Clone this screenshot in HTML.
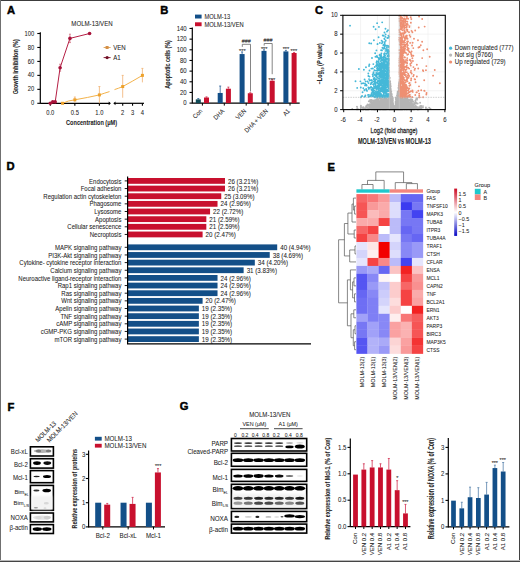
<!DOCTYPE html>
<html><head><meta charset="utf-8"><style>
html,body{margin:0;padding:0;background:#fff;}
svg{display:block;}
text{font-family:"Liberation Sans", sans-serif;fill:#222;stroke:#333;stroke-width:0.06px;}
</style></head><body>
<svg width="520" height="562" viewBox="0 0 520 562">
<rect width="520" height="562" fill="#fff"/>
<text x="7" y="14.3" font-size="11.2" font-weight="bold" style="fill:#000;stroke:#000;stroke-width:0.45px">A</text>
<text x="92" y="26" font-size="6.71" text-anchor="middle" textLength="41.35" lengthAdjust="spacingAndGlyphs">MOLM-13/VEN</text>
<line x1="40.3" y1="32.2" x2="40.3" y2="103.8" stroke="#000" stroke-width="1.2"/>
<line x1="37.3" y1="103.3" x2="40.3" y2="103.3" stroke="#000" stroke-width="1.1"/>
<text x="34.2" y="105.4" font-size="6.38" text-anchor="end" textLength="3.23" lengthAdjust="spacingAndGlyphs">0</text>
<line x1="37.3" y1="89.34" x2="40.3" y2="89.34" stroke="#000" stroke-width="1.1"/>
<text x="34.2" y="91.44" font-size="6.38" text-anchor="end" textLength="6.45" lengthAdjust="spacingAndGlyphs">20</text>
<line x1="37.3" y1="75.38" x2="40.3" y2="75.38" stroke="#000" stroke-width="1.1"/>
<text x="34.2" y="77.48" font-size="6.38" text-anchor="end" textLength="6.45" lengthAdjust="spacingAndGlyphs">40</text>
<line x1="37.3" y1="61.42" x2="40.3" y2="61.42" stroke="#000" stroke-width="1.1"/>
<text x="34.2" y="63.52" font-size="6.38" text-anchor="end" textLength="6.45" lengthAdjust="spacingAndGlyphs">60</text>
<line x1="37.3" y1="47.46" x2="40.3" y2="47.46" stroke="#000" stroke-width="1.1"/>
<text x="34.2" y="49.56" font-size="6.38" text-anchor="end" textLength="6.45" lengthAdjust="spacingAndGlyphs">80</text>
<line x1="37.3" y1="33.5" x2="40.3" y2="33.5" stroke="#000" stroke-width="1.1"/>
<text x="34.2" y="35.6" font-size="6.38" text-anchor="end" textLength="9.68" lengthAdjust="spacingAndGlyphs">100</text>
<text x="18" y="66.8" font-size="7.9" text-anchor="middle" font-weight="bold" textLength="55" lengthAdjust="spacingAndGlyphs" transform="rotate(-90 18 66.8)">Growth inhibition (%)</text>
<line x1="40.3" y1="103.3" x2="109.2" y2="103.3" stroke="#000" stroke-width="1.2"/>
<path d="M108.7 101.4 L110.9 103.3 L108.7 105.2 Z" fill="#000"/>
<path d="M115.5 101.4 L113.3 103.3 L115.5 105.2 Z" fill="#000"/>
<line x1="115" y1="103.3" x2="144" y2="103.3" stroke="#000" stroke-width="1.2"/>
<line x1="50.3" y1="103.3" x2="50.3" y2="105.8" stroke="#000" stroke-width="1.1"/>
<text x="50.3" y="114.6" font-size="6.38" text-anchor="middle" textLength="8.06" lengthAdjust="spacingAndGlyphs">0.0</text>
<line x1="74.85" y1="103.3" x2="74.85" y2="105.8" stroke="#000" stroke-width="1.1"/>
<text x="74.85" y="114.6" font-size="6.38" text-anchor="middle" textLength="8.06" lengthAdjust="spacingAndGlyphs">0.5</text>
<line x1="99.4" y1="103.3" x2="99.4" y2="105.8" stroke="#000" stroke-width="1.1"/>
<text x="99.4" y="114.6" font-size="6.38" text-anchor="middle" textLength="8.06" lengthAdjust="spacingAndGlyphs">1.0</text>
<line x1="122.7" y1="103.3" x2="122.7" y2="105.8" stroke="#000" stroke-width="1.1"/>
<text x="122.7" y="114.6" font-size="6.38" text-anchor="middle" textLength="3.23" lengthAdjust="spacingAndGlyphs">2</text>
<line x1="132.55" y1="103.3" x2="132.55" y2="105.8" stroke="#000" stroke-width="1.1"/>
<text x="132.55" y="114.6" font-size="6.38" text-anchor="middle" textLength="3.23" lengthAdjust="spacingAndGlyphs">3</text>
<line x1="142.4" y1="103.3" x2="142.4" y2="105.8" stroke="#000" stroke-width="1.1"/>
<text x="142.4" y="114.6" font-size="6.38" text-anchor="middle" textLength="3.23" lengthAdjust="spacingAndGlyphs">4</text>
<text x="91.6" y="125.4" font-size="8.1" text-anchor="middle" font-weight="bold" textLength="51" lengthAdjust="spacingAndGlyphs">Concentration (μM)</text>
<line x1="74.85" y1="97.02" x2="74.85" y2="102.6" stroke="#f0b070" stroke-width="0.8"/>
<line x1="73.85" y1="97.02" x2="75.85" y2="97.02" stroke="#f0b070" stroke-width="0.8"/>
<line x1="99.4" y1="86.55" x2="99.4" y2="103.3" stroke="#f0b070" stroke-width="0.8"/>
<line x1="98.4" y1="86.55" x2="100.4" y2="86.55" stroke="#f0b070" stroke-width="0.8"/>
<line x1="122.7" y1="75.38" x2="122.7" y2="97.72" stroke="#f0b070" stroke-width="0.8"/>
<line x1="121.7" y1="75.38" x2="123.7" y2="75.38" stroke="#f0b070" stroke-width="0.8"/>
<line x1="142.4" y1="68.4" x2="142.4" y2="82.36" stroke="#f0b070" stroke-width="0.8"/>
<line x1="141.4" y1="68.4" x2="143.4" y2="68.4" stroke="#f0b070" stroke-width="0.8"/>
<path d="M62.57 103.3 Q68 100.5 74.85 99.81 Q88 97.5 99.4 94.92 Q104 93.3 109.5 91.6" fill="none" stroke="#f3b24a" stroke-width="1"/>
<path d="M114.5 89.6 Q118.5 88.3 122.7 86.55 Q133 81 142.4 75.38" fill="none" stroke="#f3b24a" stroke-width="1"/>
<rect x="61.07" y="101.8" width="3" height="3" fill="#eda12a"/>
<rect x="73.35" y="98.31" width="3" height="3" fill="#eda12a"/>
<rect x="97.9" y="93.42" width="3" height="3" fill="#eda12a"/>
<rect x="121.2" y="85.05" width="3" height="3" fill="#eda12a"/>
<rect x="140.9" y="73.88" width="3" height="3" fill="#eda12a"/>
<line x1="60.12" y1="64.21" x2="60.12" y2="71.19" stroke="#d07080" stroke-width="0.8"/>
<line x1="59.12" y1="64.21" x2="61.12" y2="64.21" stroke="#d07080" stroke-width="0.8"/>
<line x1="59.12" y1="71.19" x2="61.12" y2="71.19" stroke="#d07080" stroke-width="0.8"/>
<line x1="69.94" y1="34.2" x2="69.94" y2="42.57" stroke="#d07080" stroke-width="0.8"/>
<line x1="68.94" y1="34.2" x2="70.94" y2="34.2" stroke="#d07080" stroke-width="0.8"/>
<line x1="68.94" y1="42.57" x2="70.94" y2="42.57" stroke="#d07080" stroke-width="0.8"/>
<path d="M50.3 103.3 L52.75 101.9 L55.21 101.9 L60.12 67.7 L69.94 38.39 L89.58 33.5" fill="none" stroke="#b51f45" stroke-width="1"/>
<circle cx="50.3" cy="103.3" r="1.8" fill="#a8123a"/>
<circle cx="52.75" cy="101.9" r="1.8" fill="#a8123a"/>
<circle cx="55.21" cy="101.9" r="1.8" fill="#a8123a"/>
<circle cx="60.12" cy="67.7" r="1.8" fill="#a8123a"/>
<circle cx="69.94" cy="38.39" r="1.8" fill="#a8123a"/>
<circle cx="89.58" cy="33.5" r="1.8" fill="#a8123a"/>
<line x1="103.6" y1="47.5" x2="110.6" y2="47.5" stroke="#e0a860" stroke-width="1"/>
<rect x="105.6" y="46" width="3" height="3" fill="#d49048"/>
<text x="113.2" y="49.5" font-size="6.71" textLength="12.54" lengthAdjust="spacingAndGlyphs">VEN</text>
<line x1="103.6" y1="57.6" x2="110.6" y2="57.6" stroke="#8a1a35" stroke-width="1"/>
<circle cx="107.1" cy="57.6" r="1.6" fill="#6e0f25"/>
<text x="113.2" y="59.8" font-size="6.71" textLength="7.46" lengthAdjust="spacingAndGlyphs">A1</text>
<text x="160.2" y="14.4" font-size="11.2" font-weight="bold" style="fill:#000;stroke:#000;stroke-width:0.45px">B</text>
<rect x="195" y="14.6" width="6.6" height="3.9" fill="#134f88"/>
<rect x="195" y="22.3" width="6.6" height="3.9" fill="#c8102e"/>
<text x="204.4" y="18.6" font-size="6.38" textLength="25.78" lengthAdjust="spacingAndGlyphs">MOLM-13</text>
<text x="204.4" y="26.8" font-size="6.38" textLength="39.32" lengthAdjust="spacingAndGlyphs">MOLM-13/VEN</text>
<line x1="192.3" y1="27.5" x2="192.3" y2="103.6" stroke="#000" stroke-width="1.2"/>
<line x1="189.5" y1="103.1" x2="192.3" y2="103.1" stroke="#000" stroke-width="1.1"/>
<text x="186.7" y="105.2" font-size="6.6" text-anchor="end" textLength="3.34" lengthAdjust="spacingAndGlyphs">0</text>
<line x1="189.5" y1="92.44" x2="192.3" y2="92.44" stroke="#000" stroke-width="1.1"/>
<text x="186.7" y="94.54" font-size="6.6" text-anchor="end" textLength="6.67" lengthAdjust="spacingAndGlyphs">20</text>
<line x1="189.5" y1="81.78" x2="192.3" y2="81.78" stroke="#000" stroke-width="1.1"/>
<text x="186.7" y="83.88" font-size="6.6" text-anchor="end" textLength="6.67" lengthAdjust="spacingAndGlyphs">40</text>
<line x1="189.5" y1="71.12" x2="192.3" y2="71.12" stroke="#000" stroke-width="1.1"/>
<text x="186.7" y="73.22" font-size="6.6" text-anchor="end" textLength="6.67" lengthAdjust="spacingAndGlyphs">60</text>
<line x1="189.5" y1="60.46" x2="192.3" y2="60.46" stroke="#000" stroke-width="1.1"/>
<text x="186.7" y="62.56" font-size="6.6" text-anchor="end" textLength="6.67" lengthAdjust="spacingAndGlyphs">80</text>
<line x1="189.5" y1="49.8" x2="192.3" y2="49.8" stroke="#000" stroke-width="1.1"/>
<text x="186.7" y="51.9" font-size="6.6" text-anchor="end" textLength="10.01" lengthAdjust="spacingAndGlyphs">100</text>
<line x1="189.5" y1="39.14" x2="192.3" y2="39.14" stroke="#000" stroke-width="1.1"/>
<text x="186.7" y="41.24" font-size="6.6" text-anchor="end" textLength="10.01" lengthAdjust="spacingAndGlyphs">120</text>
<line x1="189.5" y1="28.48" x2="192.3" y2="28.48" stroke="#000" stroke-width="1.1"/>
<text x="186.7" y="30.58" font-size="6.6" text-anchor="end" textLength="10.01" lengthAdjust="spacingAndGlyphs">140</text>
<text x="169.9" y="64.4" font-size="7.7" text-anchor="middle" font-weight="bold" textLength="48.5" lengthAdjust="spacingAndGlyphs" transform="rotate(-90 169.9 64.4)">Apoptotic cells (%)</text>
<line x1="192.3" y1="103.1" x2="299.7" y2="103.1" stroke="#000" stroke-width="1.2"/>
<line x1="198.3" y1="99.37" x2="198.3" y2="98.57" stroke="#2a5f95" stroke-width="0.8"/>
<line x1="197.3" y1="98.57" x2="199.3" y2="98.57" stroke="#2a5f95" stroke-width="0.8"/>
<line x1="206.5" y1="97.5" x2="206.5" y2="96.86" stroke="#d03050" stroke-width="0.8"/>
<line x1="205.5" y1="96.86" x2="207.5" y2="96.86" stroke="#d03050" stroke-width="0.8"/>
<rect x="195.8" y="99.37" width="5" height="3.73" fill="#0f4a56"/>
<rect x="204" y="97.5" width="5" height="5.6" fill="#c8102e"/>
<line x1="202.4" y1="103.1" x2="202.4" y2="105.6" stroke="#000" stroke-width="1"/>
<text x="202.8" y="111.5" font-size="6.38" text-anchor="end" textLength="10.64" lengthAdjust="spacingAndGlyphs" transform="rotate(-45 202.8 111.5)">Con</text>
<line x1="220.2" y1="92.97" x2="220.2" y2="86.04" stroke="#2a5f95" stroke-width="0.8"/>
<line x1="219.2" y1="86.04" x2="221.2" y2="86.04" stroke="#2a5f95" stroke-width="0.8"/>
<line x1="228.4" y1="88.71" x2="228.4" y2="87.11" stroke="#d03050" stroke-width="0.8"/>
<line x1="227.4" y1="87.11" x2="229.4" y2="87.11" stroke="#d03050" stroke-width="0.8"/>
<rect x="217.7" y="92.97" width="5" height="10.13" fill="#134f88"/>
<rect x="225.9" y="88.71" width="5" height="14.39" fill="#c8102e"/>
<line x1="224.3" y1="103.1" x2="224.3" y2="105.6" stroke="#000" stroke-width="1"/>
<text x="224.7" y="111.5" font-size="6.38" text-anchor="end" textLength="12.25" lengthAdjust="spacingAndGlyphs" transform="rotate(-45 224.7 111.5)">DHA</text>
<line x1="242.1" y1="54.06" x2="242.1" y2="51.93" stroke="#2a5f95" stroke-width="0.8"/>
<line x1="241.1" y1="51.93" x2="243.1" y2="51.93" stroke="#2a5f95" stroke-width="0.8"/>
<line x1="250.3" y1="93.24" x2="250.3" y2="92.71" stroke="#d03050" stroke-width="0.8"/>
<line x1="249.3" y1="92.71" x2="251.3" y2="92.71" stroke="#d03050" stroke-width="0.8"/>
<rect x="239.6" y="54.06" width="5" height="49.04" fill="#134f88"/>
<rect x="247.8" y="93.24" width="5" height="9.86" fill="#c8102e"/>
<line x1="246.2" y1="103.1" x2="246.2" y2="105.6" stroke="#000" stroke-width="1"/>
<text x="246.6" y="111.5" font-size="6.38" text-anchor="end" textLength="11.93" lengthAdjust="spacingAndGlyphs" transform="rotate(-45 246.6 111.5)">VEN</text>
<line x1="264" y1="50.87" x2="264" y2="49.8" stroke="#2a5f95" stroke-width="0.8"/>
<line x1="263" y1="49.8" x2="265" y2="49.8" stroke="#2a5f95" stroke-width="0.8"/>
<line x1="272.2" y1="80.71" x2="272.2" y2="79.65" stroke="#d03050" stroke-width="0.8"/>
<line x1="271.2" y1="79.65" x2="273.2" y2="79.65" stroke="#d03050" stroke-width="0.8"/>
<rect x="261.5" y="50.87" width="5" height="52.23" fill="#134f88"/>
<rect x="269.7" y="80.71" width="5" height="22.39" fill="#c8102e"/>
<line x1="268.1" y1="103.1" x2="268.1" y2="105.6" stroke="#000" stroke-width="1"/>
<text x="268.5" y="111.5" font-size="6.38" text-anchor="end" textLength="30.46" lengthAdjust="spacingAndGlyphs" transform="rotate(-45 268.5 111.5)">DHA + VEN</text>
<line x1="285.9" y1="51.4" x2="285.9" y2="50.33" stroke="#2a5f95" stroke-width="0.8"/>
<line x1="284.9" y1="50.33" x2="286.9" y2="50.33" stroke="#2a5f95" stroke-width="0.8"/>
<line x1="294.1" y1="53" x2="294.1" y2="52.46" stroke="#d03050" stroke-width="0.8"/>
<line x1="293.1" y1="52.46" x2="295.1" y2="52.46" stroke="#d03050" stroke-width="0.8"/>
<rect x="283.4" y="51.4" width="5" height="51.7" fill="#134f88"/>
<rect x="291.6" y="53" width="5" height="50.1" fill="#c8102e"/>
<line x1="290" y1="103.1" x2="290" y2="105.6" stroke="#000" stroke-width="1"/>
<text x="290.4" y="111.5" font-size="6.38" text-anchor="end" textLength="7.09" lengthAdjust="spacingAndGlyphs" transform="rotate(-45 290.4 111.5)">A1</text>
<text x="242.3" y="52.9" font-size="6.16" text-anchor="middle" textLength="6.54" lengthAdjust="spacingAndGlyphs">***</text>
<text x="264.2" y="51.3" font-size="6.16" text-anchor="middle" textLength="6.54" lengthAdjust="spacingAndGlyphs">***</text>
<text x="271.8" y="81.7" font-size="6.16" text-anchor="middle" textLength="6.54" lengthAdjust="spacingAndGlyphs">***</text>
<text x="285.9" y="51.1" font-size="6.16" text-anchor="middle" textLength="6.54" lengthAdjust="spacingAndGlyphs">***</text>
<text x="293.8" y="53.3" font-size="6.16" text-anchor="middle" textLength="6.54" lengthAdjust="spacingAndGlyphs">***</text>
<path d="M242.3 46.9 V44.3 H250.5 V91.5" fill="none" stroke="#666" stroke-width="0.8"/>
<path d="M264.2 45.6 V43.5 H272.2 V74.2" fill="none" stroke="#666" stroke-width="0.8"/>
<text x="246.2" y="43.2" font-size="5.94" text-anchor="middle" textLength="9.01" lengthAdjust="spacingAndGlyphs">###</text>
<text x="267.9" y="42" font-size="5.94" text-anchor="middle" textLength="9.01" lengthAdjust="spacingAndGlyphs">###</text>
<text x="314.9" y="14.2" font-size="11.2" font-weight="bold" style="fill:#000;stroke:#000;stroke-width:0.45px">C</text>
<line x1="360.58" y1="15.3" x2="360.58" y2="109.6" stroke="#ececec" stroke-width="0.6"/>
<line x1="377.44" y1="15.3" x2="377.44" y2="109.6" stroke="#ececec" stroke-width="0.6"/>
<line x1="411.16" y1="15.3" x2="411.16" y2="109.6" stroke="#ececec" stroke-width="0.6"/>
<line x1="428.02" y1="15.3" x2="428.02" y2="109.6" stroke="#ececec" stroke-width="0.6"/>
<line x1="342.9" y1="90.74" x2="445.3" y2="90.74" stroke="#ececec" stroke-width="0.6"/>
<line x1="342.9" y1="71.88" x2="445.3" y2="71.88" stroke="#ececec" stroke-width="0.6"/>
<line x1="342.9" y1="53.02" x2="445.3" y2="53.02" stroke="#ececec" stroke-width="0.6"/>
<line x1="342.9" y1="34.16" x2="445.3" y2="34.16" stroke="#ececec" stroke-width="0.6"/>
<path d="M388.86 105.98h0M389.2 107.35h0M381.19 108.37h0M404.43 106.94h0M403.57 108h0M396.26 108.18h0M372.81 105.92h0M397.53 105.88h0M372.52 102.19h0M381.65 106.87h0M395.25 109.24h0M397.7 104.83h0M395.28 108.67h0M384.25 98.82h0M398.11 100.79h0M384.71 104.9h0M387.86 108.87h0M398.96 107.81h0M386.68 103.19h0M385.85 101.6h0M382.58 108.13h0M396.62 98.26h0M392.32 99.58h0M368.85 108.44h0M390.56 103.58h0M397.43 109.13h0M375.1 105.71h0M399.39 102.85h0M408.17 107.56h0M393.13 106.55h0M398.78 105.17h0M386.62 101.14h0M380.76 106.59h0M406.44 97.58h0M375.18 108.47h0M408.2 106.35h0M370.15 99.93h0M395.84 103.89h0M379.03 104.35h0M404.31 108.61h0M394.57 108.56h0M409.91 106.31h0M397.67 105.53h0M373.92 103.84h0M402.64 106.12h0M369.31 107.26h0M401.36 106.19h0M382.53 106.74h0M413.15 101.64h0M395.9 105.69h0M392.71 103.99h0M376.66 108.98h0M391.69 108.92h0M382.23 106.82h0M366.03 106.47h0M386.77 102.08h0M379.14 104.14h0M414.78 106.41h0M396.11 99.82h0M382.81 105.79h0M404.62 104.25h0M395.7 108.49h0M393.51 108.24h0M389.77 107.59h0M398.29 109.59h0M400.47 105.67h0M414.65 108.14h0M386.9 107.09h0M391.62 102.62h0M387.94 106.93h0M412.68 103.89h0M386.97 109.31h0M400.12 105.76h0M389.79 107.62h0M419.43 108.3h0M385.46 108.95h0M389.2 109.15h0M360.72 108.52h0M403.25 102.04h0M391.01 102.5h0M401.51 99.51h0M372.41 108.1h0M387.89 105.29h0M404.2 99.15h0M399.02 100.53h0M393.77 106.76h0M390.07 108.21h0M400.84 108.63h0M390.76 98.25h0M403.7 107.72h0M423.01 106.1h0M402.18 107.83h0M393.28 107.94h0M394.3 108.06h0M374.39 102.7h0M398.77 102.62h0M380.09 101.43h0M406.18 105.15h0M408.54 104.39h0M391.78 100.96h0M400.49 98.56h0M381.64 100.51h0M403.02 108.44h0M369.33 104.4h0M390.68 105.15h0M396.32 106.46h0M408.82 103.98h0M404.7 100.35h0M408.3 108.59h0M383.3 103.37h0M393.08 108.63h0M407.98 108.11h0M365.63 108.42h0M370.67 106.38h0M395.38 108.16h0M391.66 103.31h0M392.67 99.34h0M391.07 101.84h0M408.74 100.72h0M384.13 104.09h0M370.42 105.39h0M369.43 105.63h0M377.75 109.53h0M389.58 109.39h0M385.04 108.1h0M412.16 109.38h0M397.81 102.19h0M389.52 100.54h0M385.45 102.64h0M373.04 107.01h0M403.24 104.47h0M391.86 103.49h0M393.66 106.8h0M373.97 106.72h0M402.27 105.85h0M381.5 105.13h0M374.34 109.06h0M378.35 107.69h0M364.91 108.64h0M384.47 98.05h0M390.89 100.11h0M412.19 106.31h0M395.55 108.7h0M387.64 108.65h0M392.03 106.63h0M382.12 100.55h0M397.03 106.97h0M388.24 99.59h0M406.45 100.02h0M399.62 108.59h0M402.73 107.66h0M357.39 109.2h0M395.12 108.38h0M379.32 106.88h0M387.78 105.75h0M384.17 100.49h0M406.13 108.67h0M389.75 109.1h0M383.97 102h0M387.63 109.41h0M411.74 108.78h0M397.04 108.97h0M391.46 107.47h0M393.41 107.76h0M399.96 104.24h0M409.64 104.36h0M391.42 105.33h0M404.7 105.67h0M390.26 106.58h0M408.02 106.55h0M387.84 108.39h0M406.72 106.46h0M393.29 108.67h0M394.39 108.9h0M399.92 103.72h0M384.1 102.88h0M399.82 107.12h0M401.35 103.57h0M392.17 105.93h0M393.7 108.95h0M394.71 107.63h0M385.26 99.35h0M388.44 101.61h0M396.37 103.24h0M400.36 109h0M410.18 108.78h0M384.77 108.3h0M365.52 108.48h0M408.29 103.19h0M379.66 106.95h0M397.54 103.18h0M374.42 109.31h0M402.13 108.93h0M400.58 100.16h0M384.16 104.79h0M389.58 107.63h0M394.76 108.94h0M391.27 103.85h0M394.25 108.74h0M404.26 98.91h0M387.34 104.73h0M392.23 103.23h0M385.32 108.65h0M383.39 108h0M421.42 107.48h0M383.62 108.25h0M401.34 108.35h0M391.44 109.33h0M382.27 105.04h0M384.15 109.53h0M390.64 109.58h0M391.33 106.36h0M389.09 108.37h0M401.37 108.78h0M393.4 106.49h0M373.12 108.28h0M381.86 101.82h0M399.97 104.79h0M376.62 107.77h0M389.13 99.51h0M412.57 107.09h0M404.22 104.04h0M389.66 107.89h0M378.44 108.67h0M402.23 99.26h0M398.73 101.08h0M405.25 103.81h0M388.9 104.8h0M397.74 108.83h0M388.34 107.08h0M399.24 101.74h0M380.68 103.89h0M386.2 102.65h0M412.11 109.42h0M391.62 100.67h0M375.48 108.07h0M408.79 105.97h0M391.71 106.62h0M389.98 97.91h0M396.96 97.69h0M404.9 108.5h0M382.16 105.06h0M383.91 99.89h0M379.66 104.32h0M397.45 107.63h0M391.31 105.87h0M390.13 109.12h0M400.13 107.54h0M383.55 101.26h0M387.52 104.53h0M379.12 108.98h0M386.18 108.9h0M397.73 106.53h0M418.22 108.35h0M404.31 108.84h0M404.47 104.09h0M390.86 104.54h0M399.15 107.94h0M386.29 107.8h0M363.97 108.57h0M405.95 101.37h0M368.05 109.2h0M389.38 104.62h0M402.28 105.01h0M392.72 109.5h0M379.33 109.29h0M389.76 105.83h0M386.25 104.8h0M392.13 109.22h0M391.87 108.13h0M407.86 105.6h0M399.44 106.18h0M383.87 105.14h0M406.95 109.54h0M384.06 104.53h0M391.21 107.28h0M409.1 103.43h0M385.85 106.54h0M390.43 100.86h0M395.83 102.64h0M414.51 107.05h0M397.87 99.94h0M414.92 104.12h0M374.48 107.37h0M409.36 106.91h0M373.65 107.34h0M386.02 105.34h0M416.57 106.72h0M400.74 104h0M386.46 104.94h0M389.63 106.41h0M386.41 104.93h0M381.1 107.58h0M395.13 108.38h0M398.24 103.51h0M396.41 97.38h0M385.84 108.49h0M393.53 108.64h0M389.05 107h0M392.37 103.67h0M370.23 106.19h0M391.75 101.78h0M379.88 106.13h0M384.37 105.6h0M400.26 107.46h0M397.55 108.82h0M375.73 109.46h0M396.94 105.6h0M390.64 104.07h0M381.78 105.86h0M412.97 106.94h0M393.44 108.42h0M409.3 107.88h0M401.99 104.99h0M391.59 109.53h0M371.56 103.72h0M402.01 97.91h0M400.24 108.68h0M396.87 106.83h0M374.71 108.62h0M408.76 106.43h0M380.13 102.03h0M377.87 107.86h0M411.03 107.4h0M394.56 107.23h0M389.8 106.03h0M391.59 98.87h0M390.01 106.24h0M404.31 106.32h0M381.99 106.7h0M394.32 106.39h0M401.39 109.22h0M363.89 107.9h0M377.25 101.31h0M383.55 108.9h0M392.31 100.96h0M390.93 108.14h0M374.72 109.53h0M384.08 107.28h0M378.91 99.01h0M392.21 107.61h0M385.52 103.82h0M388.66 105.34h0M397.21 97.82h0M384.06 109.47h0M401.43 108.5h0M395.28 108.06h0M395.2 108.52h0M404.49 107.42h0M394.88 108.04h0M377.17 105.88h0M397.84 108.28h0M385.59 106.8h0M397.98 108.94h0M395.57 108.72h0M372.71 103.91h0M405.53 103.01h0M418.13 109.46h0M388.29 105.67h0M409.11 106.06h0M408.25 107.95h0M383.81 105.45h0M388.37 105.89h0M400.99 109.5h0M374.87 100.26h0M412.71 100.85h0M394.6 107.44h0M400.96 98.12h0M388.47 108.68h0M380.93 108.69h0M398.29 107.28h0M375.81 101.86h0M403.27 108.34h0M399.12 98.26h0M394.7 109.07h0M415.4 105.84h0M390.94 98.58h0M386.95 105.04h0M406.98 107.48h0M390.39 97.98h0M388.06 104.51h0M410.87 109.4h0M405.73 105.31h0M394.13 108.98h0M393.08 106.96h0M418.97 107.1h0M385.23 106.39h0M379.76 106.87h0M398.28 107.57h0M397.82 98.12h0M400.42 98.85h0M383.85 106.15h0M387.21 103.77h0M392.7 106.52h0M397.96 97.92h0M391.84 106.82h0M405.88 107.99h0M377.16 98.77h0M400.67 109.19h0M396.2 107.85h0M373.87 109.53h0M383.91 108.11h0M378.05 105.98h0M383.1 100.63h0M401.4 101.37h0M407.57 102.03h0M387.77 101.03h0M378.77 103.35h0M394.46 107.88h0M391.96 105.21h0M402.94 103.9h0M386.5 103.66h0M405.3 109.25h0M394.19 107.2h0M397.05 109.4h0M370.99 108.44h0M405.37 98.2h0M400.96 108.16h0M397.17 106.28h0M406.61 108.28h0M401.71 106.84h0M400.06 103.89h0M390.54 98.01h0M403.83 104.31h0M385.96 106.45h0M387.51 106.83h0M394.26 107.83h0M378.36 105.13h0M392.27 108.49h0M383.77 101.35h0M395.67 103.42h0M397.62 102.88h0M396.62 108.24h0M380.39 105.26h0M388.58 107.24h0M400.83 100.5h0M383.93 106.87h0M381.8 105.77h0M381.99 107.35h0M372.09 105.42h0M402.59 109.47h0M397.75 98.28h0M392.13 108.81h0M401.51 105.48h0M396.74 102.59h0M401.15 104.5h0M392.8 108.46h0M376.34 107.36h0M395.92 107.81h0M383.89 105.44h0M385.38 109.5h0M388.9 101.19h0M396.65 107.95h0M371.24 109.17h0M399.15 108.62h0M410.84 100.78h0M404.68 108.51h0M416.3 106.44h0M372.99 103.53h0M376.32 103.32h0M402.45 99.8h0M393.79 107.22h0M403.95 99.79h0M395.04 108.08h0M380.66 105.57h0M387.43 107.26h0M392.11 98.6h0M405.92 107.63h0M391.92 107.48h0M394.77 108.59h0M380.11 105.49h0M384.98 105.68h0M378.58 106.23h0M376.86 106.3h0M380.22 107.63h0M407.41 108.43h0M383.45 109.3h0M393.46 107.91h0M397.29 101.93h0M396.44 107.1h0M387.25 108.34h0M379.07 107.31h0M407.43 107.53h0M407.86 105.04h0M394.12 106.78h0M404.47 107.12h0M371.66 102.61h0M406.49 100.8h0M410.24 109.39h0M394.74 108.17h0M404.93 108.78h0M416.17 107.06h0M401.97 99.45h0M395.57 108.39h0M380.45 101.99h0M404.92 98.54h0M388.5 107.84h0M366.2 109.5h0M394.07 107.79h0M381.8 109.41h0M398.79 108.55h0M405.91 97.63h0M381.43 98.48h0M401.52 99.25h0M402.27 104.2h0M384.73 105.06h0M401.88 103.49h0M371.13 105.6h0M420.13 102.77h0M383.96 105.06h0M394.4 107.8h0M406.68 109.14h0M379.41 102.48h0M385.13 108.18h0M391.63 107.23h0M395.47 107.98h0M370.78 100.88h0M377.36 105.74h0M391.51 109.18h0M398.1 108.72h0M382.74 105.33h0M367.66 109.02h0M397.29 105.63h0M390.39 108.32h0M402.43 109.5h0M400.17 105.52h0M394.2 106.47h0M385.25 107.28h0M382.58 104.83h0M409.48 100.11h0M392.03 105.27h0M405.15 104.64h0M405.49 101.92h0M384.49 106.74h0M408.11 109.02h0M382 107.51h0M384.25 104.21h0M408.86 106.16h0M392 109.06h0M380.38 108.47h0M392.08 106.96h0M392.09 108.42h0M366.08 107.25h0M396.53 105.63h0M381.24 105.3h0M378.64 102.05h0M396.24 103.72h0M390.66 107.39h0M407.05 103.09h0M391.49 108.77h0M402.29 100.51h0M373.49 108.03h0M383.99 108.29h0M398.3 106.33h0M401.76 108.13h0M391.73 97.93h0M401.89 100.87h0M390.32 100.34h0M373.31 106.58h0M382.93 108.91h0M373.26 100.77h0M396.6 109.41h0M391.23 104.12h0M390.72 100.45h0M380.88 99.21h0M387.78 105.11h0M405.2 104.85h0M385.85 100.52h0M404.47 108.67h0M401.18 100.67h0M399.4 103.63h0M389.42 100.4h0M388.98 105.02h0M388.48 107.63h0M397.16 107.37h0M397.1 109h0M401.21 106.89h0M393.5 109.16h0M408.66 107.4h0M380.05 103.2h0M391.42 106.84h0M382.66 106.53h0M400.45 97.87h0M395.03 109.05h0M408.79 100.58h0M396.86 108.36h0M393.29 108.5h0M413.34 107.63h0M397.9 99.9h0M399.08 100.55h0M390.56 106.31h0M407.42 104.02h0M394.56 107.59h0M389.69 108.92h0M391.38 103.48h0M389.44 102.88h0M379.14 103.42h0M401.16 101.98h0M403.29 108.31h0M373.71 106.62h0M381.62 102.14h0M384.04 108.57h0M394.99 108.81h0M394.73 108.28h0M399.42 109.56h0M394.17 109.55h0M378.56 109.25h0M393.88 108.14h0M381.27 109.42h0M396.12 104.39h0M400.5 107.64h0M395.65 97.83h0M386.28 109.57h0M388.71 107.41h0M395.92 97.98h0M395.45 106.39h0M384.67 104.53h0M372.9 104.02h0M412.2 104.29h0M399.41 108.84h0M389.74 103.46h0M374.62 103.01h0M393.07 107.01h0M373.07 108.17h0M392.08 98.6h0M385.9 104.85h0M404.05 99.51h0M381.94 101.36h0M397.69 102.61h0M393.97 106.49h0M400.67 104.12h0M398.07 106.01h0M395.23 107.74h0M385.41 97.65h0M395.51 108.47h0M391.92 102.84h0M385.09 109.07h0M388.3 105.61h0M409.93 108.27h0M415.16 102.86h0M400.77 105.55h0M411.92 108.7h0M390.5 101.78h0M397.15 99.48h0M397.83 106.47h0M389.49 108.38h0M375.55 104.59h0M387.11 102.12h0M383.22 104.57h0M401.5 102.44h0M376.32 105.05h0M401.88 105.72h0M374.85 106.13h0M384.56 107.43h0M387.7 100.11h0M384.9 97.71h0M384.79 101.35h0M382.32 108.13h0M388.19 107.32h0M374.38 105.74h0M388.09 100.08h0M391.77 101.65h0M376.53 107.69h0M377.4 105.48h0M398.32 107.62h0M380.62 101.51h0M381.67 105.25h0M394.9 109.25h0M385.28 108.57h0M397.14 103.23h0M403.75 104.65h0M374.28 107.75h0M375.57 109.08h0M398.35 101.79h0M368.38 105.01h0M396.06 98.26h0M376.71 104.32h0M415.37 100.82h0M389.38 107.67h0M390.02 102.34h0M403.58 109.04h0M376.3 105.97h0M386.42 105.42h0M394.77 106.14h0M383.89 108.86h0M395.38 107.38h0M393.19 108.4h0M395.22 107.27h0M377.42 108.34h0M396.18 105.27h0M378.24 102.19h0M396.94 101.83h0M387.83 101.24h0M407 101.8h0M378.2 101.53h0M390.56 102.48h0M391.5 101.66h0M392.1 109.08h0M390.14 103.76h0M392.08 103.13h0M379.83 108.85h0M380.91 103.25h0M374.79 101.48h0M394.15 108.95h0M403.4 99.99h0M405.42 100.72h0M390.45 108.65h0M419.72 108.96h0M386.96 105.35h0M396.85 107.1h0M393.79 108.33h0M405.92 98.95h0M393.56 108.21h0M403.85 104.09h0M395.07 106.15h0M407.53 103.36h0M395.77 105.23h0M386.85 101.85h0M391.15 101.58h0M402.49 103.96h0M391.01 104.18h0M400.27 103.35h0M403.69 107.02h0M399.92 103.15h0M377.6 109.53h0M392.62 108.92h0M398.67 102.74h0M376.22 106.83h0M397.72 103.54h0M366.51 105.61h0M406.19 105.73h0M389.97 108.28h0M378.46 104.52h0M401.03 107.04h0M405.29 108.76h0M367.59 108.9h0M409.47 107.79h0M384.47 105.53h0M398.79 104.32h0M378.05 108.59h0M392.78 104.31h0M380.82 107.24h0M371.68 107.04h0M386.09 97.68h0M380.69 105.79h0M389.93 101.05h0M408.16 108.32h0M394.43 107.52h0M387.84 104.29h0M377.94 105.79h0M392.47 107.45h0M387.72 102.91h0M400.93 107.82h0M399.15 109.42h0M405.5 105.65h0M380.8 101.2h0M404.98 105.04h0M379.9 104.41h0M386.71 101.08h0M388.47 105.21h0M385.5 103.37h0M392.19 106.07h0M393.08 109.02h0M395.64 101.56h0M377.39 102.65h0M395.1 106.64h0M391.29 103.25h0M382.98 107.1h0M376.99 106.56h0M395.26 108.54h0M388.83 108.78h0M407 102.39h0M369.08 105.87h0M389.96 109.2h0M380.21 104.74h0M421.35 106.02h0M380.17 108.72h0M404.89 104.28h0M393.3 108.29h0M392.88 109.53h0M389.43 106.26h0M396.55 108.91h0M395.85 106.62h0M409.8 108.65h0M392.67 107.3h0M410.43 106.81h0M386.69 100.65h0M405.59 105.29h0M388.57 102.05h0M399.71 107.36h0M409.41 107.69h0M393.73 109.5h0M379.51 101.43h0M400.39 106.71h0M390.89 105.16h0M400.21 103.41h0M401.91 107.25h0M380.87 106.82h0M388.95 106.04h0M394.94 107.45h0M381.93 103.06h0M382 106.73h0M397.96 99.98h0M383.13 107.54h0M420.31 106.06h0M385.6 97.92h0M384.12 102.17h0M413.03 108.33h0M383.9 106.43h0M370.31 106.09h0M379.41 103.81h0M372.34 104.24h0M395.05 107.79h0M400.66 109.54h0M378.4 106.32h0M401.35 109.08h0M402.16 99.06h0M401.73 103.1h0M388.45 99.71h0M381.71 97.75h0M389.03 107.14h0M372.58 107.08h0M397.58 97.79h0M399.33 107.43h0M378.37 104.67h0M384.21 108.68h0M391.21 99.89h0M387.05 108.87h0M398.58 97.87h0M393.38 106.52h0M410.65 103.09h0M378.94 108.76h0M385.53 107.36h0M394.32 108.18h0M388.5 103.25h0M381.15 107.3h0M385.34 109.2h0M429.2 107.72h0M387.98 107.27h0M378.32 102.75h0M400.31 101.78h0M384.03 103.35h0M394.72 109.33h0M414.55 109.05h0M377.1 109.04h0M390.33 104.38h0M410.12 106.63h0M404.04 106.49h0M399.18 108.47h0M393.78 108.7h0M405.56 107.16h0M400.44 104.01h0M415.38 106.48h0M405.9 106.42h0M387.17 107.54h0M400.26 108.24h0M376.81 106.79h0M408.08 107.33h0M382.05 105.6h0M407.66 97.44h0M392.34 107.48h0M391.38 102.61h0M411.98 103.43h0M393.61 108.97h0M395.83 97.73h0M371.76 100.06h0M397.75 108.18h0M392.61 101.3h0M387.18 100.95h0M392.04 106.01h0M387.84 104.85h0M401.04 104.08h0M395.88 104.62h0M402.42 101.81h0M409.8 108.93h0M392.81 107.62h0M398.99 107.37h0M412.68 105.69h0M396.55 106.91h0M386.91 108.61h0M411.49 105.41h0M383.13 104.78h0M380.45 100.76h0M375.92 108.64h0M396.8 105.4h0M408.64 106.54h0M385.76 108.4h0M397.93 105.38h0M386.14 107.58h0M388.89 105.5h0M398.3 102.2h0M381.57 98.17h0M415.55 101.69h0M414.41 106.23h0M387.92 105.45h0M382.52 108.91h0M391.4 104.56h0M368.78 101.27h0M417.68 109.49h0M399.47 106.21h0M394.88 109.1h0M390.37 103.55h0M393.8 109.41h0M395.42 107.59h0M392.22 109.23h0M398.65 101.88h0M396.54 102.1h0M398.57 106.92h0M386.18 108.04h0M400.07 98.7h0M389.97 104.93h0M396.05 108.02h0M381.44 105.33h0M390.62 104.64h0M378.19 104.27h0M397.45 100.45h0M393.01 106.86h0M390.51 102.11h0M391.09 107.12h0M395.6 103.06h0M404.19 99.04h0M389.76 109.54h0M402.71 105.61h0M397.98 105.42h0M400.17 97.44h0M387.21 106.59h0M381.22 104h0M405.55 109.39h0M378.86 107.45h0M404.85 102.85h0M401.03 105.67h0M389.08 102.84h0M391.8 106.9h0M411.47 100.62h0M378.12 109.4h0M377.9 108.37h0M421.3 108.46h0M392.96 104.73h0M398.68 106.29h0M392.92 107.85h0M406.26 104.35h0M392.5 108.23h0M379.67 105.39h0M374.23 108.58h0M410.11 103.18h0M391.06 107.38h0M401.27 104.05h0M382.55 109.58h0M400.13 104.64h0M401.7 102.76h0M395.9 106.25h0M374.86 106.19h0M402.68 99.06h0M402.21 107.08h0M372.66 105.68h0M380.5 108.69h0M410.16 106.31h0M387.31 105.31h0M385.57 103.61h0M412.19 108.55h0M409.62 104.46h0M393.94 108.95h0M363.3 108.87h0M399.67 107.45h0M377.55 106.19h0M382.55 104.06h0M402.76 106.66h0M389.44 109.56h0M411.04 99.2h0M396.22 101.84h0M400.37 98.76h0M407.69 107.85h0M390.07 98.68h0M389.68 100.67h0M405.87 105.77h0M391.72 100.42h0M366.22 106.46h0M389.5 103.63h0M388.31 106.77h0M368.17 104.72h0M382.81 109.19h0M378.02 108.25h0M395.26 108.63h0M398.21 105.1h0M383.96 106.75h0M391.97 106.34h0M370.91 107.42h0M380.37 104.96h0M387.3 105.9h0M388.65 102.02h0M376.8 107.56h0M382.14 108.61h0M392.16 104.19h0M380.62 109.17h0M390.26 109.02h0M378.16 101.29h0M392.82 99.73h0M382.47 109.34h0M401.27 109.15h0M392.7 105.1h0M412.82 105.63h0M387.98 108.69h0M382.43 105.44h0M391.27 106.01h0M396.25 100.55h0M397.6 104.03h0M381.53 102.63h0M375.26 103.46h0M397.72 101.51h0M390.45 97.51h0M392.56 100.86h0M395.66 97.68h0M396.88 107.58h0M392.5 109.08h0M393.26 106.49h0M362.58 109.51h0M381.12 106.99h0M396.63 102.15h0M382.69 105.07h0M374.17 107.7h0M388.75 102.83h0M381.23 107.67h0M383.02 100h0M399.61 102.83h0M384.95 108.19h0M389.65 105.79h0M378.4 106.43h0M413.55 104.07h0M381.96 99.47h0M406.89 107.1h0M369.39 105.97h0M395.31 109.44h0M379.52 107.06h0M408.98 105.07h0M352.26 108.91h0M378.12 108.91h0M387.3 103.39h0M382.19 103.39h0M375.35 100.32h0M385.58 102.49h0M400.73 105.7h0M379.9 105.46h0M370.83 105.94h0M404.59 108.01h0M376.95 107.02h0M402.2 109.45h0M371.21 108.21h0M396.53 103.73h0M412.86 108.39h0M386.28 109.35h0M405.5 103.88h0M406.63 98.71h0M385.94 107.77h0M388.39 101.49h0M384.43 109.47h0M398.38 100.21h0M383.3 106.16h0M407.95 109.28h0M403.08 107.84h0M394.05 107.61h0M391.4 108.98h0M384.43 98.18h0M377.29 105.71h0M396.17 101.07h0M383.32 108.02h0M383.31 103.6h0M406.65 109.46h0M386.86 107.78h0M402.39 100.29h0M395.87 107.39h0M398.4 101.8h0M398.73 100.65h0M393.19 108.81h0M411.24 108.92h0M383.8 100.78h0M387.56 106.28h0M391.23 106.19h0M404.15 104.86h0M384.53 103.98h0M388.9 108.04h0M403.4 104.19h0M403.63 107.87h0M385.49 106.23h0M417.08 107.03h0M397.82 104.5h0M408.62 103.55h0M386.66 101.02h0M404.67 107.79h0M399.84 107.96h0M377.82 104.35h0M393.52 107.6h0M401.05 104.04h0M394.03 107.88h0M396.73 103.26h0M403.56 106.04h0M386.56 108.36h0M380.79 108.42h0M388.33 108.13h0M406.98 101.98h0M386.7 105.56h0M395.13 107.8h0M392.02 107.57h0M386.44 104.38h0M401.7 100.85h0M399.31 106.48h0M394.8 108.53h0M371.48 106.9h0M394.04 108.27h0M380.79 102.34h0M371.24 102.5h0M399.05 103.41h0M393.55 107.03h0M403.89 102.3h0M390.12 102.4h0M385.99 105.95h0M385.65 106.77h0M395.82 106.75h0M377.58 109.08h0M389.27 97.42h0M379.29 104.35h0M382.83 107.45h0M388.05 107.72h0M401.6 97.78h0M384.53 101.19h0M403.1 104.32h0M383.13 104.12h0M390.55 107h0M388.71 104.92h0M404.46 102.52h0M389.44 102.46h0M408.3 104.37h0M408.53 102.18h0M397.95 105.21h0M408.65 108.06h0M386.3 104.32h0M377.53 105.68h0M389.07 104.5h0M397.83 103.93h0M386.8 106.52h0M410.6 102h0M389.97 98.18h0M394.92 109.03h0M395.74 105.21h0M388.12 103.17h0M401.3 108.17h0M387.15 106.34h0M399.65 101.8h0M389.95 104.15h0M375.91 106.68h0M391.48 109.33h0M401.72 99.54h0M391.01 107.45h0M401.24 102.21h0M399.92 108.05h0M407.2 103.01h0M398.03 100.41h0M406.8 104.95h0M376.95 104.44h0M396.16 104.1h0M415.02 103.86h0M368.45 105.84h0M385.08 99.78h0M399.48 100.82h0M388.13 108.92h0M387.93 102.67h0M365.73 109.07h0M405.18 102.13h0M408.83 107.28h0M394.81 107.86h0M362.98 107.62h0M382.51 103.9h0M391.78 106.95h0M384.42 104.54h0M394.72 107.64h0M403.43 101.97h0M387.75 105.15h0M392.48 100.34h0M366.67 107.03h0M386.06 105.13h0M396.49 106.8h0M382.32 107.53h0M397.5 100.98h0M392.23 104.95h0M384.07 102.29h0M372.94 107.82h0M394.51 108.57h0M389.14 103.07h0M392.86 106.96h0M390.32 104.84h0M388.06 102.38h0M399.42 105.48h0M381.17 108.53h0M393.93 108.8h0M427.11 109.1h0M391.78 106.43h0M385.24 102.69h0M401.99 104.71h0M385.01 107.93h0M390.35 109.35h0M406.09 105.44h0M373.27 102.23h0M386.8 105.42h0M391.93 105.45h0M411.12 108.08h0M396.86 104.23h0M398.15 99.96h0M406.49 98.46h0M401.55 99.27h0M400.84 99.68h0M388.4 105.64h0M396.33 103.61h0M382.01 104.12h0M377.14 102.63h0M391.99 107.39h0M377.15 106.7h0M399.32 99.48h0M414.46 103.48h0M378.39 109.38h0M397.04 104.28h0M387.71 108.23h0M389.19 105.66h0M363.56 107.1h0M394.52 108.38h0M384.89 108.06h0M391.63 109.04h0M403.86 99.07h0M394.53 107.15h0M388.3 99.55h0M379.92 109.07h0M385.3 103.71h0M381.06 100.34h0M397.39 107.06h0M388.28 102.36h0M382.07 107.48h0M393.38 108.66h0M386.12 103.04h0M416.27 107.94h0M412.2 99.63h0M407.15 107.68h0M393.27 108.83h0M384.82 101.78h0M387.46 101.09h0M404.23 107.49h0M386 105.16h0M378.66 100.4h0M399.02 108.79h0M386.4 103.07h0M406.16 105.13h0M381.36 104.11h0M379.67 106.22h0M381.27 107.31h0M397.18 106.48h0M402.82 104.34h0M409.02 102.54h0M391.66 106.22h0M383.27 108.71h0M377.34 109.17h0M393.95 106.52h0M402.13 104.39h0M387.82 108.11h0M388.05 108.12h0M370.68 106.69h0M374.65 107.32h0M392.01 105.84h0M409.94 109.1h0M408.94 103.42h0M386.34 107.04h0M405.96 107.68h0M392.74 105.45h0M392.41 106.99h0M392.67 102.16h0M406.99 108.86h0M393.98 107.64h0M388.6 102.46h0M403.9 103.9h0M401.94 103.4h0M411.77 104.59h0M401.05 99.74h0M381.27 101.38h0M382.78 99.4h0M399.66 104.83h0M389.56 100.75h0M406.68 107.44h0M403.41 104.84h0M393.59 108.5h0M407 105.65h0M391.56 104.66h0M371.26 107.07h0M386.9 107.98h0M397.23 109.12h0M394.05 108.15h0M382.89 107.93h0M387.48 103.42h0M406.09 100h0M374.87 107.9h0M401.69 109.43h0M388.2 106.27h0M368.65 109.52h0M392.72 107.62h0M400.45 97.9h0M386.9 103.52h0M385.17 109.03h0M398.17 103.53h0M402.69 103.14h0M400.81 106.77h0M396.84 102.38h0M398.45 108.39h0M383.56 104.3h0M381.79 106.9h0M391.01 108.95h0M382.76 107.01h0M404.29 108.7h0M395.23 109.4h0M402.1 101.71h0M390.48 103.78h0M382.9 109.6h0M379.11 106.83h0M425.93 107.48h0M406.03 107.97h0M394.8 106.75h0M380.95 103.59h0M385.74 105.57h0M398.26 98.09h0M387.72 104.28h0M393.33 107.73h0M384.79 105.16h0M380.74 107.79h0M401.36 107.31h0M376.69 103.7h0M386.06 105.95h0M392.78 102.45h0M392.67 108.9h0M400.39 104.06h0M377.87 107.35h0M389.53 105.46h0M400.59 107.22h0M385.18 99.92h0M366.36 107.23h0M377.96 99.74h0M387.75 108.19h0M398.26 100.89h0M402.43 109.11h0M393.61 107.12h0M394.66 108.94h0M367.51 108.9h0M390.35 104.02h0M398.52 108.97h0M389.76 98.38h0M394.04 107.23h0M396.52 99.73h0M402.58 102.42h0M397.86 98.23h0M406.79 107.78h0M409.97 104.98h0M399.15 104.98h0M396.57 105.87h0M369.17 107.88h0M375.34 101.34h0M394.15 107.53h0M391.7 98.65h0M377.56 105.27h0M389.72 107.48h0M388.79 108.49h0M384.57 105.53h0M376.42 109.36h0M391.21 101.26h0M417.6 108.82h0M360.77 107.02h0M406.51 106.79h0M390.13 103.17h0M397.29 107.18h0M403.9 101.13h0M409.4 104.3h0M379.23 106.48h0M379.47 105.94h0M383.28 102.67h0M382.67 100.97h0M390.89 97.91h0M393.42 108.46h0M396.21 104.04h0M389.32 101.03h0M397.41 108.16h0M404.68 109.2h0M380.77 101.49h0M369.45 101.06h0M394.39 108.5h0M397.79 108.9h0M404.26 106.86h0M384.99 108.22h0M401.86 107.23h0M395.98 105.71h0M389.8 107.61h0M411.19 108h0M393.28 107.77h0M384.91 105.17h0M395.72 101.4h0M380.76 98.63h0M406.19 103.53h0M406.79 106.23h0M373.22 104.55h0M405.41 106.71h0M370.23 104.97h0M406.81 106.81h0M393.18 107.84h0M390.83 101.71h0M392.67 104.42h0M392.71 98.51h0M380.8 106.94h0M385.75 107.99h0M406.74 100.63h0M389.71 97.62h0M395.87 103.94h0M385.34 103.1h0M397 106.76h0M385.48 101.61h0M377.44 107.65h0M397.56 106.17h0M399.78 105.14h0M396 107.37h0M416.01 99.17h0M391.03 108.02h0M415.31 101.95h0M416.79 109.06h0M402.61 100.88h0M397.43 106.99h0M389.74 106.73h0M378.18 99.7h0M386.83 97.59h0M399.92 108.54h0M396.32 98.28h0M404.88 107.87h0M393.16 107.13h0M393.58 108.63h0M401.68 109.26h0M395.94 106.89h0M385.64 109.32h0M385.33 107.84h0M389.23 105.89h0M390.78 100.89h0M399.86 105.32h0M366.28 109.43h0M387.14 105.77h0M414.86 107.73h0M390.71 103.74h0M395.71 104.13h0M394.84 108.61h0M380.13 109.29h0M381.65 107.67h0M409.11 109.05h0M383.62 103.26h0M375.16 107.42h0M414.8 108.59h0M389.46 102.5h0M386.84 103.22h0M402.87 108.51h0M382.98 105.5h0M417.14 98.2h0M407.33 109.34h0M399.58 107.17h0M383.28 105.78h0M392.21 104.52h0M408.09 102.37h0M397.04 108.99h0M388.31 103.8h0M383.06 103.51h0M379.6 109.59h0M391.24 103.35h0M360.92 105.61h0M393.34 106.3h0M391.3 102.29h0M389.09 102.68h0M376.31 108.49h0M387.34 104.21h0M381.95 104.27h0M394.39 106.34h0M389.44 103.8h0M389.31 101.05h0M383.81 108.96h0M408.12 99.57h0M378.13 108.46h0M371.23 108.33h0M392.27 104.9h0M397.29 102.11h0M378.23 102.02h0M409.77 102.96h0M402.51 107.86h0M402.13 98.91h0M396.48 106.52h0M391.72 106.07h0M379.03 102h0M379.39 108.8h0M401.49 106.03h0M409.31 109.44h0M379.44 107.65h0M397.5 97.59h0M401.88 101.41h0M382.52 104.22h0M392.62 102.19h0M385.79 104.19h0M399.34 109.07h0M388.23 108.57h0M399.64 99.44h0M390.22 103.21h0M392.88 108.48h0M377 102.09h0M395.34 107.25h0M395.92 99.25h0M389.41 108.05h0M381.59 107.63h0M389.55 103.75h0M378 105.49h0M395.73 102.88h0M380.52 104.71h0M398.38 107.43h0M409.44 108.08h0M380.06 103.69h0M389.68 107.17h0M392.19 102.13h0M378.61 108.6h0M407.35 103.97h0M406.83 108.34h0M379.45 108.19h0M398.06 103.15h0M368.17 108.39h0M379.47 107.26h0M370.59 109.06h0M382.81 100.91h0M389.1 108.41h0M385.6 102.12h0M394.12 109.17h0M392.61 106.56h0M393.94 108.59h0M407.96 104.62h0M388.25 108.68h0M384.24 100.63h0M387.97 109.35h0M387.48 102.97h0M356.97 106.82h0M401.18 107.82h0M384.82 102.95h0M425.82 109.31h0M390.4 103.94h0M388.4 104.65h0M400.93 102.82h0M379.92 109.2h0M400.97 107.75h0M405.49 101.47h0M397.22 105.06h0M392.88 107.17h0M381.05 108.33h0M378.92 108.22h0M382.38 106.75h0M394.19 108.08h0M404.45 105.73h0M401.15 107.73h0M380.35 108.41h0M382.53 107.5h0M388.78 106.03h0M386.74 97.89h0M381.28 106.13h0M403.1 106.8h0M394.6 109.03h0M376.91 106.71h0M413.38 106.75h0M405.56 106.03h0M402.7 102.72h0M395.96 100.98h0M383.92 101.32h0M389.59 104.84h0M395.14 108.47h0M398.51 107.15h0M395.87 107.55h0M397.74 104.52h0M387.01 105.22h0M406.15 104.54h0M393.96 108.93h0M390.66 107.57h0M396.66 104.16h0M393.4 106.5h0M385.66 102h0M406 98.72h0M381.93 99.53h0M403.56 100.22h0M403.03 108.79h0M402.66 108.28h0M386.64 105.92h0M386.93 108.75h0M373.86 108h0M376.26 106.45h0M407.86 102.59h0M410.33 101.35h0M418.71 109.38h0M382.47 108.78h0M380.83 101.87h0M365.54 109.45h0M402.7 105.43h0M401.86 102.77h0M387.03 108.86h0M397.55 105.04h0M408.98 103.01h0M395.47 109.2h0M367.55 104.44h0M376.49 99.75h0M389.75 107.67h0M385.57 103.44h0M392.08 107.41h0M394.02 107.64h0M404.97 106.26h0M403.66 105.02h0M395.39 106.53h0M388.88 109.15h0M386.64 109.35h0M388.11 106.65h0M382.4 106.98h0M379.92 103.82h0M395.35 108.37h0M401.31 107.41h0M404.45 98.95h0M385.36 109.15h0M411.2 103.77h0M401.65 104.3h0M386.22 108.86h0M385.1 108.83h0M378.57 108.21h0M386.71 106.3h0M385.46 107.11h0M397.65 105.65h0M401.06 103.76h0M393.31 108.73h0M404.12 107.05h0M395.54 106.66h0M388.7 104.88h0M391.77 105.22h0M391.52 107.72h0M381 105.31h0M385.53 108.57h0M384.45 107.42h0M375.31 104.93h0M390.78 107.03h0M392.18 99.26h0M395.05 109.36h0M378.91 104.04h0M395.89 103.09h0M396.48 101.7h0M393.24 109.05h0M402.68 107.12h0M387.69 107.97h0M392.37 101.28h0M397.85 104.07h0M396.58 105.69h0M393.71 107.51h0M430.46 108.69h0M395.13 106.99h0M371.99 109.48h0M407.68 104.41h0M386.81 106.22h0M376.23 102.91h0M392.91 106.27h0M389.63 103.06h0M407.26 101.35h0M391.6 105.54h0M404.44 98.51h0M391.09 99.77h0M381.51 106.26h0M400.84 98.86h0M398.37 105.13h0M405.37 107.77h0M397.1 108.35h0M411.41 107.85h0M391.5 106.75h0M395.81 101.47h0M392.88 100.58h0M406.27 104.67h0M388.98 102.74h0M396.04 101.23h0M411.63 106.24h0M387.73 107.97h0M379.32 101.16h0M383.61 102.59h0M402.19 99.49h0M404.95 109.4h0M397.25 109.23h0M396.3 102.22h0M381.81 105.64h0M387.74 105.5h0M378.45 101.51h0M384.85 105.99h0M399.47 106.63h0M388.06 102.46h0M380.82 100.86h0M404.29 103.04h0M412.23 107.24h0M395.41 107.89h0M402.19 107.94h0M395.63 102.12h0M400.73 105.32h0M363.35 109.59h0M357.77 109.38h0M399.74 107.61h0M391.47 109.57h0M404.16 104.03h0M394.92 107.92h0M388.62 107h0M370.34 107.09h0M380.75 109.12h0M413.49 105.29h0M389.5 107.13h0M383 104.98h0M402.18 107.95h0M383.25 102.28h0M381.94 104.58h0M380.72 98.53h0M380.95 109.54h0M395.63 109.2h0M400.54 100.54h0M380.17 107.46h0M391.93 100.66h0M391.77 107.57h0M388.96 106.17h0M414.71 106.85h0M401.09 102.42h0M388.65 108.59h0M377.06 104.37h0M385.95 105.46h0M392.51 103.23h0M380.34 107.99h0M408.08 108.48h0M397.55 99.06h0M370.41 102.79h0M387.4 99.48h0M390.61 105.28h0M372.82 105.94h0M394.62 107.48h0M400.52 103.16h0M396.63 106.45h0M391.26 105.03h0M390.34 107.35h0M388.47 103.02h0M420.26 107.74h0M395.54 107.74h0M398.85 107.94h0M386.5 103.14h0M398.63 106.05h0M382.94 105.91h0M400.5 108.36h0M398.87 104.08h0M400.2 101.1h0M393.54 107.58h0M402.82 100.61h0M377.47 108.39h0M382.67 100.79h0M390.05 102.78h0M403.91 105.73h0M387.94 100.13h0M390.58 109.09h0M398.59 101.26h0M375.41 100.64h0M390.94 104.07h0M404.76 106.27h0M392.17 98.09h0M374.13 105.31h0M399.23 105.65h0M373.49 100.48h0M380.13 103.23h0M393.53 107.26h0M409.22 106.32h0M385.58 104.15h0M395.39 107.55h0M400.83 103.08h0M374.99 108.68h0M396.73 107.24h0M389.55 107.35h0M380.28 106.17h0M401.87 101.62h0M381.55 106.82h0M383.63 107.39h0M403.02 100.11h0M395.21 108.45h0M382.75 100.72h0M367.44 109.57h0M406.87 103.88h0M398.87 100.17h0M396.14 106.78h0M386.72 99.57h0M384.82 106.28h0M405.88 106.24h0M395.86 104.08h0M393.63 107.96h0M405.97 104.59h0M412 108.19h0M380.55 102.85h0M411.31 105.35h0M391.34 109.05h0M387.49 106.89h0M391.15 107.02h0M378.13 107.38h0M392.91 107.53h0M394.35 108.57h0M394.33 106.26h0M386.3 104.58h0M384.52 107.75h0M393.87 108.03h0M402.8 99.52h0M389.02 109.19h0M392.25 107.79h0M379.82 109.43h0M406.58 106.39h0M389.37 100.22h0M380.73 105.61h0M384.85 107.18h0M417.08 99.65h0M401.46 105.56h0M396.13 109.34h0M385.73 109.11h0M375.24 107.56h0M388.53 102.13h0M387.75 105.85h0M384.17 106.67h0M398.15 98.33h0M379.61 109h0M397.5 98.58h0M394.71 107.83h0M375.33 106.88h0M410.39 108.13h0M416.01 106.54h0M388.65 98.54h0M398.9 107.72h0M414.41 108.86h0M388.96 99.75h0M390.85 102.67h0M400.08 101.1h0M401.48 109.29h0M398.56 108.36h0M376.8 101.17h0M395.98 101.58h0M396.1 107.41h0M402.98 100.3h0M357.58 108.69h0M408.99 104.47h0M370.86 108.5h0M395.55 108.79h0M379.28 107.1h0M393.96 107.84h0M416.46 108.38h0M384.98 97.58h0M374.73 106.69h0M376.24 103.65h0M395.08 108.54h0M399.64 109.2h0M382.22 106.64h0M413.17 109.09h0M394.62 107h0M414.76 107.08h0M387.5 109.04h0M384.68 101.64h0M401.62 104.47h0M386.83 106.09h0M392.79 104.91h0M403.86 104.42h0M397.1 106.02h0M377.23 107.78h0M380.09 103.02h0M387.82 108.65h0M391.17 107.15h0M380.46 108.56h0M383.39 101.02h0M392.83 98.38h0M387.19 102.44h0M407.44 99.82h0M388.44 108.13h0M394.17 108.76h0M376.14 104.22h0M398.99 100.47h0M391.6 107.49h0M417.63 103.55h0M392.8 107.56h0M399.82 108.02h0M399.04 107.46h0M379.39 98.53h0M375.33 101.47h0M391.24 105.29h0M410.79 108.61h0M416.1 102.67h0M389.95 105.07h0M394.15 108.26h0M386.4 109.36h0M397.27 98.37h0M413.99 109.47h0M371.94 106.95h0M375.94 109.5h0M374.86 104.93h0M395.13 108.37h0M382.72 108.19h0M390.65 109.05h0M391.69 107.93h0M401.75 98.82h0M386.16 108.72h0M387.22 105.86h0M386.8 108.2h0M405.92 108.49h0M388.73 107.09h0M389.02 99.2h0M400.53 105.65h0M385.5 99.19h0M401.08 102.11h0M411.07 108.42h0M396.26 109.47h0M404.98 103.39h0M380.55 105.63h0M380.58 108.01h0M379.16 104.59h0M407.77 104.97h0M399.02 99.34h0M391.18 107.78h0M382.44 99.06h0M370.6 106.21h0M403.39 104.18h0M389.43 104.33h0M388.48 103.44h0M389.48 106.74h0M361.8 107.23h0M376.8 100.07h0M393.45 105.94h0M391.93 103.51h0M391.79 101.78h0M399.94 108.93h0M411.14 102.07h0M382.5 100.58h0M395.5 106.68h0M386.52 108.97h0M396.28 103.68h0M384.17 105.31h0M363.03 108.03h0M399.19 102.12h0M383.45 103.43h0M402.54 107.04h0M406.69 104.97h0M396.6 108.93h0M393.97 107.69h0M393.34 108.88h0M390.62 97.92h0M398.84 109.31h0M375.73 106.82h0M384.91 99.75h0M391.94 103.85h0M391.65 107.81h0M388.95 105.07h0M390.01 101.71h0M377.79 105.51h0M377.45 105.07h0M390.4 107.08h0M393.55 109.05h0M387.71 106.69h0M401.85 104.5h0M408.81 108h0M388.91 97.6h0M394.06 108.61h0M387.94 102.9h0M387.19 102.76h0M391.08 106.3h0M401.26 107.03h0M393.18 109.09h0M395.64 104.69h0M404.34 100.66h0M387.39 104.77h0M399.14 109.31h0M397.29 107.13h0M383.6 102.7h0M387.97 105.89h0M394.96 108.76h0M402.89 108.9h0M383.25 103.12h0M392.47 106.82h0M413.94 108.76h0M411.77 100.24h0M379.84 102.92h0M404.71 101.24h0M391.66 102.38h0M386.3 109.13h0M391.99 106.1h0M377.59 103.66h0M392.99 104.55h0M393.94 107.3h0M380.97 103.48h0M369.16 108.29h0M407.73 106.97h0M396.07 104.77h0M403.79 108.34h0M401.2 104.56h0M390.56 106.43h0M401.38 104.37h0M395.57 104.59h0M386.46 108.37h0M401.58 106.95h0M365.54 108.22h0M387.64 108.71h0M395.01 107.53h0M411.76 100.28h0M395.22 108.71h0M404.79 106.98h0M392.22 104.93h0M396.96 105.68h0M399.52 106.81h0M403.01 106.28h0M391.25 106.68h0M382.25 108.09h0M396.42 98.76h0M388.07 106.92h0M404.75 108.89h0M392.49 108.57h0M383.94 103.46h0M404.45 108.52h0M390.92 100.39h0M393.11 106.86h0M378.72 104.87h0M404.35 100.65h0M409.38 106.62h0M398.57 104.16h0M397.67 106.9h0M393.99 106.41h0M395.61 107.73h0M392.41 107.57h0M385.96 108.25h0M398.57 98.31h0M368.43 105.41h0M377.76 105.11h0M419.39 108.89h0M393.14 106.95h0M364.14 109.1h0M356.52 109.37h0M386.02 106.43h0M395.62 105.08h0M404.34 109.58h0M396.08 105.66h0M383.07 106.53h0M390.57 108.21h0M387.02 106.74h0M391.87 109.48h0M384.91 106.51h0M377.75 107.72h0M390.3 105.73h0M392.12 105.74h0M398.04 108.56h0M400.78 103.24h0M371.07 105.52h0M399.56 107.78h0M399.26 101.35h0M380.62 107.89h0M404.57 103.67h0M409.99 99.37h0M388.55 104.6h0M415.71 106.55h0M393.47 108.7h0M389.45 103.85h0M414.28 107.7h0M379.52 106.37h0M403.78 100.19h0M383.99 103.46h0M398.1 105.92h0M383.52 102.75h0M399.45 97.8h0M393.37 108.72h0M403.6 104.6h0M399.06 99.57h0M391.47 104.07h0M382.52 104.17h0M389.81 107.06h0M390.9 99.22h0M375.04 108.36h0M392.26 108.59h0M374.84 108.52h0M387.6 100.02h0M403.95 99.97h0M393.07 107.13h0M399.26 108.32h0M367.32 104.97h0M398.47 106.48h0M390.78 102.64h0M381.71 101.08h0M397.39 105.79h0M393.73 107.78h0M397.77 108.71h0M381.89 106.19h0M405.05 105.78h0M405.73 106.79h0M380.82 102.61h0M385.25 108.06h0M389.64 109.44h0M388.75 105.86h0M371.85 101.86h0M394.05 107.24h0M379.98 103.12h0M399.13 108.6h0M392.75 103.08h0M391.01 102.23h0M405.38 99.52h0M385.35 107.32h0M405.79 108.9h0M390.39 103.82h0M392.78 109.28h0M399.92 99.97h0M400 109.47h0M390.07 98.17h0M394.01 109.47h0M411.79 101.93h0M398.11 108.82h0M384.7 102.96h0M386.72 103.3h0M383.05 108.98h0M396.25 108.51h0M394.38 108.7h0M379.27 103.72h0M390.13 100.67h0M384.56 103.42h0M401.65 102.73h0M398.01 108.25h0M387.81 103.24h0M390.08 104.45h0M397.75 108.45h0M385.42 107.42h0M386.38 98.02h0M393.89 107.93h0M405.76 104.67h0M386.07 108.17h0M397.07 100.28h0M404.34 104.02h0M392.27 103.68h0M379.32 106.5h0M391.31 107.75h0M390.48 104.47h0M387.65 100.11h0M386.1 101.1h0M398.05 106.72h0M385.48 100.73h0M391.32 105.22h0M394.67 106.56h0M385.73 99.86h0M388.14 103.97h0M391.08 107.12h0M387.97 107.71h0M404.79 107.34h0M407.1 98.66h0M400.86 104.26h0M393.62 108.47h0M377.97 109.33h0M380.01 102.92h0M372.43 108.26h0M395.18 109.04h0M381.85 105.21h0M391.49 98.41h0M393.52 107.56h0M373.99 108.57h0M393.17 107.36h0M367.14 107.11h0M406.23 106.27h0M401.69 105.05h0M385.77 105.6h0M422.96 107.59h0M396.81 107.46h0M376.32 108.15h0M390.45 106.97h0M391.85 104.24h0M401.55 106.13h0M416.09 103.51h0M400.67 107.8h0M392.46 105.48h0M395.19 109.04h0M398.99 101.99h0M395.23 108.36h0M400.71 99.17h0M382.54 107.16h0M397.84 105.74h0M397.36 108.94h0M390.65 97.49h0M410.94 102.6h0M363.7 108.44h0M384.31 106.44h0M374.14 108.04h0M391.17 105.68h0M401.71 108.29h0M395.79 103.09h0M391.88 103.77h0M357.66 108.61h0M405.07 99.89h0M388.74 105.68h0M391.43 102.73h0M396.3 102.22h0M401.65 97.49h0M390.3 109.12h0M393.08 106.41h0M414.4 102.99h0M381.48 99.63h0M395.53 107.93h0M384.44 105.04h0M385.09 104.6h0M398.06 106.22h0M401.63 105.87h0M376.14 101.92h0M392.07 103.89h0M409.75 104.93h0M399.1 90.09h0M397.36 105.69h0M393.13 107.1h0M394.68 109.01h0M392.79 102.49h0M398 106.58h0M396.69 101.79h0M389.88 86.12h0M393.87 109.01h0M397.06 101.54h0M392.74 108.56h0M392.61 109.35h0M391.63 109.09h0M396.66 107.6h0M393.34 106.22h0M392.44 102.41h0M394.01 108.08h0M392.46 101.19h0M390.45 93.88h0M394.48 108.93h0M398.02 101.02h0M392.95 106.91h0M396.22 108.36h0M389.75 94.45h0M396.43 107.43h0M394.53 108.18h0M392.9 108h0M397.25 106h0M399.12 100.43h0M396.35 103.69h0M392.36 105.91h0M391.24 100.19h0M395.95 108.41h0M399.19 93.97h0M391.2 93.19h0M396.84 100.84h0M398.45 108.2h0M394.32 107.97h0M398.75 96.03h0M394.89 109.37h0M397.27 103.47h0M391.94 106.34h0M394.43 109.22h0M389.47 98.46h0M396.73 107.59h0M394.46 109.32h0M398.25 105.6h0M396.46 101.72h0M396.36 106.74h0M398.46 108.3h0M393.74 109.54h0M397.2 103.83h0M393.91 108.4h0M392.7 105.06h0M391.36 107.13h0M395.46 108.78h0M391.55 108.68h0M392.5 106.44h0M394.1 108.78h0M394.17 108.23h0M391.35 103.28h0M391.07 108.09h0M398.87 101.74h0M393.57 108.87h0M393.24 108.86h0M395.01 109.59h0M396.53 105.87h0M398.41 102.13h0M392.33 103.47h0M396.6 103.42h0M392.99 103.93h0M395.18 108.08h0M398.65 98.99h0M391.19 107.12h0M397.24 109.29h0M394.1 108.94h0M398.16 103.07h0M398.5 97h0M392.66 106.36h0M397.1 106.63h0M393.2 107.69h0M394.68 109.25h0M397.44 107h0M389.62 107.05h0M397.29 108.08h0M389.97 101.9h0M396.45 99.05h0M394.8 108.85h0M398.46 103.44h0M396.73 101.21h0M390.32 86.19h0M395.25 108.44h0M389.96 108.54h0M396.34 106.37h0M391 105.96h0M395.99 103.71h0M398.98 100.59h0M391.89 105.8h0M399.14 98.15h0M391.17 107.23h0M396.62 108.99h0M396.07 109.37h0M397.14 102.43h0M398.03 100.4h0M393.28 105.34h0M398.36 102.63h0M391.12 101.89h0M389.46 82.42h0M394.45 109.59h0M393.46 107.8h0M396.53 104.62h0M398.75 88.24h0M392.5 106.91h0M398.25 92.21h0M397.44 93.57h0M392.52 104.32h0M395.38 108.9h0M394.19 109.1h0M390.22 83.91h0M390.87 93.93h0M398.28 99.11h0M398.54 107.54h0M390.42 105.88h0M397.93 101.02h0M391.92 99.43h0M390.36 96.72h0M391.51 101.39h0M393.03 103.43h0M399.17 99.06h0M397.32 99.45h0M397.86 101.24h0M394.03 109.4h0M390.83 103.41h0M399.07 95.28h0M390.69 97.62h0M391.85 105.44h0M394.08 109.45h0M398.15 108.99h0M394 108.39h0M392.77 104.9h0M390.75 99.5h0M391.23 102.09h0M391.01 92.55h0M397.1 105.69h0M391.57 95.01h0M398.91 91.04h0M394.62 108.39h0M390.37 84.88h0M396.08 105.44h0M393.94 108.07h0M398.44 106.07h0M394.83 109.19h0M390.75 100.05h0M392.03 105.03h0M396.86 105.06h0M398.08 101.37h0M399.01 106.24h0M398.86 100.87h0M392.48 109.41h0M390.62 103.06h0M394.92 108.03h0M392.95 103.51h0M394.72 108.19h0M392.93 106.55h0M398.89 102.79h0M390.04 109.34h0M391.42 104.71h0M397.59 98.2h0M398.47 87.63h0M396.38 109.59h0M393.58 108.15h0M394.97 109.59h0M398.24 96.5h0M389.54 105.58h0M397.55 107.7h0M392.03 98.91h0M392.57 102.06h0M396.23 108.95h0M399.01 106.71h0M392.05 108.04h0M395.88 102.01h0M399.13 93.62h0M390.99 95.44h0M392.92 105.25h0M390.8 107.52h0M395.17 108.26h0M394.33 108.72h0M393.45 109.18h0M389.98 101.31h0M396.81 106.39h0M391.77 108.35h0M393.2 107.93h0M391.58 97.64h0M393.84 108.68h0M395.32 109.3h0M390.21 105.26h0M395.76 107.6h0M394.42 108.52h0M390.92 104.54h0M398.31 96.86h0M391.03 109.09h0M397.7 102.77h0M395.52 109.34h0M392.69 108.7h0M396.42 106.43h0M395.96 106.42h0M390.3 105.86h0M391.59 105.31h0M390.27 88.99h0M392.69 107.34h0M391.59 102.92h0M393.62 109.48h0M394.72 107.79h0M390.39 98.24h0M391.31 98.42h0M397.32 104.58h0M397.38 105.3h0M394.14 109.39h0M396.23 103.68h0M389.85 87.4h0M390.51 106.36h0M395.11 108.2h0M396.21 106.28h0M392.12 98.96h0M389.45 106.58h0M397.87 102.53h0M397.94 102.27h0M393.13 109.03h0M389.82 98.2h0M399.15 100.38h0M397.1 98.01h0M398.89 91.8h0M394.94 109.31h0M394.13 109.15h0M394.4 108.94h0M392.12 103.87h0M393.51 108.54h0M394.61 109.13h0M396.29 102.95h0M391.85 97.29h0M393.08 108.23h0M396.34 102.59h0M396.56 107.58h0M392.91 107.91h0M396.79 103.65h0M391.7 97.38h0M396.02 104.61h0M392.08 108.97h0M389.73 83.04h0M395.96 101.96h0M391.65 106.74h0M397.19 99.99h0M393.02 108.14h0M396.37 100.07h0M397.9 102.63h0M392.48 103.42h0M390.95 102.96h0M397.75 103.17h0M398.12 104.08h0M396.97 106.88h0M398.24 102.03h0M395.23 109.36h0M393.22 109.19h0M393.05 106.1h0M396.06 106.42h0M389.61 89.41h0M392.28 107.11h0M398.3 104.91h0M395.03 109.37h0M392.59 103.9h0M394.4 109.47h0M392.46 106.18h0M398.23 106.86h0M391.76 100.44h0M395.15 109.23h0M397.2 100.99h0M397 102.21h0M389.94 102.17h0M395.52 105.53h0M394.77 108.92h0M390.43 102.85h0M393.72 108.79h0M393.93 109.55h0M390.32 107.7h0M393.64 108.98h0M396.28 104.16h0M391.07 100.28h0M393.05 106.24h0M397.99 104.19h0M395.42 107.82h0M390.24 89.16h0M390.53 94.93h0M392.61 106.39h0M392.72 105.71h0M392.94 107.97h0M395.89 105.58h0M393.38 108.75h0M393.88 108.49h0M396.58 109.39h0M398.8 93.19h0M394.27 109.1h0M391.1 96.51h0M391.94 104.46h0M395.41 108.95h0M392.48 106.47h0M394.14 109.02h0M392.43 103.05h0M395.44 106.38h0M391.58 101.71h0M394.95 108.6h0M393.8 107.89h0M395.79 108.94h0M389.74 77.67h0M396.53 106.49h0M391.14 94.64h0M389.56 85.58h0M397.53 99.09h0M397.84 105.46h0M392.72 109.43h0M390.06 107.65h0M390.59 106.76h0M392.14 96.82h0M397.92 93.52h0M397.19 105.01h0M397.34 101.86h0M390.31 87.25h0M395.4 107.53h0M396.25 105.15h0M393.87 109.23h0M392.16 99.7h0M391.83 101.1h0M391.6 105.57h0M393.01 106.78h0M389.67 85.76h0M397.98 105.05h0M392.81 104.07h0M393.38 108.53h0M398.39 100.36h0M397.11 106.74h0M392.87 106.66h0M392.11 102.41h0M393.1 107.45h0M393.69 109.6h0M391.89 98.52h0M395.29 108.38h0M397.01 105.29h0M397.1 99.4h0M393.68 108.35h0M391.26 107.99h0M394.39 109.43h0M397.88 105.33h0M391.2 102.42h0M394.06 108.84h0M394.34 109.22h0M398.5 107.97h0M396.92 102.76h0M391.54 99.59h0M396.52 107.3h0M395.75 107.56h0M390.05 91.57h0M390.91 97.42h0M390.4 86.46h0M389.9 106.14h0M391.88 108.49h0M391.86 105.77h0M393.04 104.84h0M390.53 108.44h0M392.63 108.62h0M397.04 100.53h0M389.77 90.6h0M398.52 102.9h0M390.12 86.14h0M393.72 108.85h0M397.54 104.64h0M393.38 107.05h0M395.87 106.22h0M395.03 109.15h0M397.87 108.4h0M398.02 104.78h0M395.54 106.21h0M394.01 109.44h0M396.38 104.87h0M395.69 105.79h0M389.62 99.04h0M395.25 108.99h0M395.97 107.34h0M392.4 103.44h0M390.54 101.67h0M398.57 109.02h0M393.02 108.69h0M394.31 109.22h0M394.52 109.04h0M393.16 108.09h0M398.88 101.83h0M397.55 102.76h0M392.14 109.08h0M393.8 108.66h0M393.72 108.68h0M390.9 100.08h0M398.59 95.41h0M394.9 109.36h0M393.76 108.46h0M395.14 108.79h0M398.45 107.79h0M396.41 109.44h0M390.65 106.62h0M390.89 107.3h0M390.3 104.99h0M390.75 93.87h0M391.87 105.84h0M389.87 98.62h0M398.65 100.55h0M397.85 108.79h0M396.19 104.33h0M392.13 105.61h0M393.68 109.16h0M392.34 106.61h0M390.25 90.65h0M391.65 107.92h0M394.34 108.64h0M393.44 107.66h0M399 83.86h0M398.63 103.27h0M395.39 108.64h0M395.74 104.94h0M390.19 95.18h0M391.94 104.05h0M393.93 109.01h0M395.87 108.96h0M395.76 107.96h0M391.28 94.69h0M393.56 108.81h0M396.65 103.39h0M394.98 109.05h0M398.69 85.87h0M399.12 96.6h0M391.76 98.04h0M398.59 88.77h0M392.03 100.32h0M392.47 105.64h0M397.65 95.03h0M391.08 106.63h0M391.48 106.59h0M390.92 99.18h0M397.7 103.32h0M392.37 107.2h0M389.53 98.35h0M389.53 87.46h0M389.41 88.28h0M391.88 109.42h0M396.35 104.5h0M391.82 104.76h0M393.05 103.23h0M390.63 103.67h0M396.36 101.61h0M394.79 108.8h0M394.69 109.24h0M391.28 97.04h0M397.03 101.36h0M398.43 92.92h0M392.6 102.72h0M390.41 101.08h0M398.52 95.25h0M398.58 94.32h0M393.93 108.64h0M390.48 93.35h0M391.84 98.51h0M390.66 106.76h0M392.68 100.29h0M393.77 108.33h0M391.11 97.46h0M390.15 106.17h0M394.11 108.84h0M393.46 107.02h0M395.14 109.13h0M394.22 108.96h0M394.35 109.09h0M399.16 105.46h0M389.53 108.36h0M393.55 107.72h0M398.86 90.2h0M395.09 109.58h0M391.97 105.83h0M394.71 109.05h0M393.37 109.23h0M397.24 104.8h0M395.27 106.25h0M396.83 108.97h0M395.91 107.4h0M397.49 99.3h0M395.05 109h0M396.85 103.52h0M394.72 108.16h0M398.34 95.77h0M389.7 96.57h0M396.52 99.55h0M394.08 108.64h0M396.3 107.31h0M392.54 106.02h0M397.14 109.16h0M397.24 106.7h0M391.62 99.07h0M395.33 108.44h0M398.74 88.78h0M391.83 103.33h0M392.79 105.73h0M394.87 108.17h0M389.59 102.05h0M398.57 105.61h0M393.29 107.11h0M390.04 104.1h0M390.72 102.56h0M395.09 109.3h0M394.37 109.35h0M397.44 105.69h0M397.34 109.24h0M397.89 101.75h0M396.91 99.81h0M397.55 96.81h0M397.57 97.77h0M396.09 103.52h0M394.95 109.28h0M394.72 109.36h0M398.11 104.71h0M395.99 108.63h0M396.9 107.58h0M392.17 101.25h0M397.38 108.28h0M392.82 105.59h0M390.13 99.43h0M395.94 109.17h0M395.9 104.43h0M393.81 109.56h0M391.78 97.41h0M397.08 102.08h0M390.65 102.88h0M392.17 103.52h0M392.59 106.77h0M395.65 107.39h0M398.42 91.82h0M394.95 108.59h0M391.94 108.3h0M396.93 107.85h0M399.1 99.44h0M397.62 97.16h0M390.62 94.06h0M398.44 98.62h0M394.45 109.19h0M393.99 107.94h0M398.47 97.64h0M390.77 89.23h0M397.94 100.61h0M389.66 81.77h0M393.07 106.44h0M396.77 104.82h0M391.33 94.46h0M390.28 92.32h0M393.08 107.39h0M398.12 91.1h0M392.99 109.29h0M394.48 108.77h0M399.02 101.28h0M393.5 109.1h0M395.19 108.26h0M391.86 105.48h0M393.77 108.09h0M391.43 109.03h0M392.79 102.93h0M391.72 99.13h0M394.67 109.27h0M390.06 90.96h0M393.13 104.42h0M392.36 108.92h0M395.81 109.04h0M394.17 109.54h0M395.53 108.42h0M391.69 107.74h0M397.39 102.31h0M392.81 103.72h0M395.81 107.2h0M391.27 91.29h0M394.62 109.06h0M392.68 107.47h0M389.54 94.28h0M397.06 102.08h0M391.68 101.21h0M396.48 105.78h0M395.01 107.85h0M393.11 108.38h0M397.99 109.07h0M393.21 106.83h0M391.45 96.77h0M396.8 107.43h0M396.95 107.06h0M389.42 101.24h0M396.88 102.56h0M396.58 104.74h0M394.64 108.59h0M391.34 105.11h0M390.35 100.43h0M395.06 109.22h0M390.55 98.96h0M390.35 103.75h0M392.05 96.55h0M392.18 100.35h0M394.9 109.13h0M398.76 109.36h0M392.55 107.99h0M398.19 109.07h0M392.43 109.44h0M392.07 108.11h0M393 109.13h0M391.86 102.3h0M392.39 103.72h0M396.49 105.58h0M397.15 102.46h0M392.63 108.29h0M395.36 109.17h0M398.09 108.92h0M391.74 100.7h0M392.84 105.93h0M391.29 99.63h0M399.02 104.77h0M389.81 105.21h0M390.87 102.42h0M397.18 108.24h0M397.83 108.04h0M396.89 102.83h0M392.72 105.87h0M392.77 101.21h0M391.37 98.48h0M390.56 88.17h0M396.74 105.92h0M398.78 107.02h0M396.48 106.26h0M393.43 108.71h0M398.54 100.41h0M394.02 108.59h0M394.74 109.56h0M390.18 86.55h0M393.57 107.33h0M398.77 107.61h0M396.53 107.86h0M398.44 100.39h0M397.38 108.16h0M398.44 107.37h0M390.75 86.29h0M391.46 106.77h0M395.91 107.26h0M393.45 109.17h0M393.51 109.44h0M390.43 83.85h0M396.57 109.13h0M394.23 109.13h0M394.42 108.86h0M397.98 103.77h0M391.75 102.64h0M394.98 108.23h0M394.42 108.51h0M389.57 101.75h0M390.62 106.11h0M398.42 98.04h0M396.23 102.76h0M392.36 104.36h0M394.84 108.57h0M391.05 102.05h0M397.28 101.56h0M391.47 107.7h0M396.7 101.6h0M394.46 108.57h0M395.75 105.74h0M394.24 108.43h0M390.67 101.21h0M393.64 108.86h0M393.24 108.04h0M398.91 108.99h0M396.47 106.05h0M395.2 108.85h0M389.56 78.84h0M392.21 105.28h0M389.98 82.38h0M391.77 105.67h0M397.2 103.93h0M391.69 95.88h0M397.8 107.61h0M399.04 93.69h0M390.83 108.23h0M390.08 87.42h0M394.04 107.96h0M395.44 109.18h0M393.53 108.94h0M396.55 108.69h0M392.76 106.07h0M393.71 108.76h0M396.45 105.77h0M398.72 102.18h0M390.49 99.81h0M395.65 108.93h0M390.63 101.42h0M392.4 102.37h0M394.45 109.2h0M392.11 103.62h0M391.97 102.92h0M391.03 107.36h0M391.5 104.87h0M396.84 105.12h0M393.29 106.07h0M393.57 108.27h0M398.97 96.4h0M393.14 108.8h0M398.07 102.42h0M393.92 109.03h0M391.14 102.92h0M394.72 109.6h0M393.65 109.52h0M391.48 96.33h0M392.61 107.92h0M392.15 105.05h0M397.12 98.7h0M395.81 109.31h0M391.02 104.69h0M397.45 101.54h0M391.78 94.15h0M392.75 109.18h0M391.91 103.1h0M395.8 107.07h0M392.32 108.86h0M397.29 94.99h0M396.08 107.94h0M390.26 99.7h0M395.4 108.68h0M393.67 108.52h0M391.02 96.7h0M394.4 109.28h0M390.49 106.62h0M394.44 108.87h0M396.52 101.2h0M389.82 102.65h0M392.52 108.26h0M397.06 108.27h0M397.73 103.14h0M396.12 104.03h0M390.93 98.77h0M390.72 106.45h0M390.65 101.21h0M394.81 108.9h0M390.27 99.93h0M397.86 91.77h0M394.65 108.38h0M390.56 106.48h0M397.97 104.43h0M394.67 109.43h0M397.19 96.84h0M392.51 108.12h0M396.19 107.03h0M390.91 93.97h0M397.35 105.53h0M394.43 108.25h0M392.86 105.43h0M397.83 96.56h0M392.96 107.63h0M397.24 107.4h0M391.32 103.01h0M397.33 101.98h0M394.69 108.97h0M390.29 97.21h0M390.77 94.71h0M397.3 97.79h0M389.92 109.39h0M397.03 107.68h0M396.94 107.71h0M398.22 96.79h0M394.09 109.08h0M397.06 102.46h0M396.57 103.94h0M392.97 103.89h0M393.82 108.62h0M394.58 109.28h0M398.18 96.57h0M397.72 107.53h0M396.39 102.95h0M399.13 103.06h0M390.61 107.9h0M392.56 107.46h0M390.17 83.25h0M394.87 109.04h0M395.3 108.19h0M398.76 91.05h0M390.15 106.95h0M390.64 98.29h0M397.57 98.67h0M391.58 109.32h0M389.96 98.29h0M396 105.49h0M392.34 101.44h0M396.4 105.49h0M392.21 109.18h0M395.44 108.72h0M398.01 91.92h0M394.19 109.39h0M396.62 103.69h0M389.47 100.62h0M395.26 109.2h0M392.72 103.74h0M392.4 107.48h0M395.17 108.59h0M394.72 108.23h0M398.57 107.69h0M399.18 93.75h0M391.89 109.19h0M391.99 103.48h0M395.06 107.36h0M397.99 104.3h0M389.59 95.01h0M391.9 104.63h0M391.72 98.72h0M390.34 98.84h0M396.22 107.79h0M390.17 81.14h0M393.9 108.12h0M398.47 101.01h0M394.48 107.94h0M395.96 104.36h0M394.88 108.69h0M397.81 109.19h0M395.03 109.28h0M393.71 109.34h0M395.19 109.41h0M390.31 99.19h0M391.91 97.11h0M398.03 108.98h0M396.79 103.69h0M389.59 100.28h0M395.16 107.82h0M390.14 99.7h0M391.59 101.31h0M392.58 107.01h0M391 101.1h0M392.58 104.9h0M390.4 95.85h0M398.39 107.25h0M395.96 108.06h0M395.39 106.86h0M394.03 108.51h0M393.55 109.24h0M394.79 107.91h0M394.86 109.23h0M395.58 106.92h0M396.16 102.51h0M398.59 99.77h0M397.88 106.6h0M399.03 108.34h0M394.07 108.4h0M398.5 107.84h0M390.11 108.74h0M389.67 93.9h0M391.39 96.62h0M398.8 101.26h0M394.71 109.15h0M389.45 103.41h0M398.04 106.07h0M392.33 102.4h0M390.48 93.73h0M394.54 109h0M399.1 83.24h0M396.61 105.07h0M389.76 84.75h0M395.58 108.43h0M398.42 106.23h0M392.74 108.33h0M398.97 85.45h0M389.45 102.45h0M396.51 100.52h0M397.15 109.16h0M390.32 86.22h0M394.46 109.18h0M390.59 108.61h0M399.02 98.59h0M397.25 99.68h0M396.98 95.53h0M390.21 95.98h0M392.58 105.99h0M390 102.76h0M399.16 96.45h0M394.5 108.61h0M393.45 107.41h0M398.09 102.94h0M396.62 104.18h0M394.96 109.54h0M392.46 109.1h0M396.42 102.45h0M391.42 95.86h0M395.47 108.64h0M393.27 108.93h0M397.87 96.45h0M391.09 104.77h0M389.99 101.71h0M394.12 108.18h0M395.64 106.17h0M392.99 109.6h0M397.16 108.63h0M391.58 103.46h0M389.61 106.64h0M391.94 106.09h0M389.43 103.72h0M392.58 106.51h0M392.58 109.41h0M396.63 108.78h0M391.69 97.2h0M391.42 93.53h0M390.61 98.46h0M390.56 102.14h0M396 104.95h0M393.11 109.5h0M397.6 93.3h0M390.15 96.72h0M392.8 107.92h0M397.42 98.73h0M398.56 104.04h0M396 108.14h0M390.39 96.81h0M390.74 103.4h0M395.64 106.44h0M396.77 107.25h0M391.07 106.71h0M390.16 99.21h0M395.83 109.21h0M395.2 109.1h0M390.33 95.61h0M390.2 95.22h0M395.17 108.43h0M398.66 101.8h0M394.69 108.02h0M396.94 102.38h0M395.65 103.5h0M396.84 107.04h0M393.71 109.2h0M391.57 99.04h0M393.59 108.19h0M399.09 82.35h0M391.99 101.44h0M398.61 101.41h0M389.66 96.36h0M392.43 108.62h0M390.1 105.54h0M392.82 106.12h0M393.21 109.42h0M394.88 108.43h0M392.85 107.19h0M394.23 109.36h0M390.71 105.77h0M393.32 107.9h0M393.71 108.53h0M395.69 105.88h0M392.68 109.25h0M394.64 109.17h0M396.7 105.3h0M392.18 100.55h0M392.11 101.87h0M392.06 102.34h0M390.54 104.21h0M390.15 97.78h0M396.38 105.36h0M398.11 101.98h0M394.02 108.3h0M391.93 107.7h0M389.9 104.41h0M395.02 108.62h0M394.11 109.19h0M391.99 96.73h0M394.39 108.51h0M398.74 103.93h0M397.94 107.42h0M390.75 98.58h0M393.91 109.15h0M396.43 105.44h0M397.56 92.02h0M399.04 108.15h0M393.81 109.16h0M398.26 106.99h0M398.87 90.74h0M390.43 99.21h0M397.09 107.68h0M399.04 109.31h0M390.34 93.23h0M398.46 104.21h0M391.64 109.22h0M390.15 97.67h0M392.88 107.81h0M394.45 109.15h0M395.08 108.82h0M397.53 103.32h0M390.45 108.66h0M395.64 103.54h0M397.86 107.16h0M396.86 102.72h0M395.27 109.33h0M390.68 95.83h0M397.8 109.56h0M398.92 104.93h0" stroke="#b4b4b4" stroke-width="1.9" stroke-linecap="round" fill="none"/>
<path d="M385.18 61.95h0M369.01 79.1h0M376.46 79.17h0M376.65 95.09h0M385.19 77.41h0M387.14 71.8h0M375.63 87.98h0M386.27 80.69h0M380.62 57.76h0M385.48 50.92h0M384.37 80.08h0M377.65 97.08h0M373.11 89.36h0M378.67 78.3h0M375.87 91.16h0M388.51 73.05h0M388.78 88.02h0M375.6 29.27h0M387.53 96.09h0M388.06 49.46h0M386.74 85.13h0M384.24 72.18h0M383.71 79.96h0M384.45 96.89h0M377.98 80.43h0M385.07 55.64h0M364.5 90.39h0M383.29 97.33h0M379.87 92.86h0M381.89 66.46h0M372.1 95.73h0M386.36 77.44h0M368.69 96.81h0M382.81 96.65h0M384.13 67.39h0M387.77 66.56h0M388.16 50.69h0M385.56 71.24h0M377.69 94.33h0M376.07 96.26h0M376.11 65.34h0M375.53 80.31h0M382.2 88.79h0M380.51 77.28h0M388.84 67.39h0M386.42 53.8h0M379.49 55.09h0M382.69 64.07h0M381.36 67.49h0M388.85 75.22h0M374.21 90.56h0M380.81 93.96h0M382.19 77.22h0M386.92 59.58h0M378.61 89.63h0M385 44.99h0M381.3 75.47h0M381.25 82.29h0M383.56 75.78h0M384.77 53.1h0M379.87 75.22h0M388.71 97.05h0M364.51 96.74h0M388.59 93.95h0M385.74 59.32h0M376.37 73.98h0M374.46 70.27h0M386.06 59.79h0M370.12 87.82h0M379.54 83.43h0M381.61 68.42h0M385.21 81.82h0M386.51 91.08h0M376.39 66.03h0M385.89 57.92h0M388.76 96.02h0M388.6 65.21h0M380.92 66.28h0M387.12 69.84h0M387.11 50.66h0M379.36 85.68h0M383.72 35.74h0M386.3 97.25h0M373.23 96.02h0M382.64 67.64h0M383.12 60.73h0M372.09 96.3h0M383.49 73.26h0M384.85 41.95h0M365.67 81.35h0M381.9 43.27h0M377.77 88.58h0M387.77 69.27h0M383.42 62.65h0M366.13 88.92h0M377.24 86.94h0M383.98 54.06h0M382.41 65.2h0M383.72 82.15h0M388.49 82.83h0M366.62 85.45h0M381.66 68.23h0M384.65 77.54h0M383.46 73.43h0M378.9 85.92h0M383.17 65.37h0M379.34 94.63h0M386.07 96.74h0M381.23 87.73h0M385.25 89.25h0M383.86 90.4h0M379.53 90.07h0M386.38 81h0M373.21 95.76h0M386.38 94.26h0M383.05 88.5h0M389.12 60.13h0M383.13 76.3h0M383.2 91.3h0M375.51 79.12h0M380.97 85.14h0M385.53 57.66h0M385.87 95.71h0M368.39 87.48h0M387.82 91.27h0M384.08 82.73h0M377.12 23.15h0M376.99 63.09h0M380.88 64.41h0M379.02 85.3h0M380.73 94.28h0M387.1 68.8h0M386.03 68.56h0M377.73 70.42h0M381.12 77.62h0M386.17 83.54h0M387.54 70.93h0M383.59 71.56h0M385.28 78.14h0M388.4 83.18h0M379.72 84.03h0M385.45 85.85h0M378.19 96.67h0M379.71 90.29h0M384.62 66.18h0M381.02 81.17h0M388.62 96.86h0M382.5 97.13h0M380.55 93.79h0M381.13 50.16h0M376.53 97.19h0M387.08 62.87h0M387.73 55.47h0M379.32 80.12h0M382.5 75.54h0M376.32 75.15h0M386.29 59.1h0M382.66 42.01h0M387.68 79.41h0M373.63 26.69h0M381.67 70.77h0M376.88 55.96h0M382.75 71.83h0M381.87 63h0M373.05 84.32h0M379.37 68.32h0M388.85 94.59h0M374.36 79.56h0M378.4 65.56h0M388.62 86.14h0M380.12 95.15h0M367.64 81.52h0M377.55 95.49h0M384.35 38.74h0M385.46 73.68h0M381.57 60.86h0M387.63 82.56h0M379.52 68.94h0M387.27 85.88h0M377.25 87.82h0M363.18 83.31h0M387.33 81.42h0M384.77 60.55h0M386.84 69.58h0M387.41 96.7h0M376.52 89.6h0M388.22 56.18h0M375.66 82.35h0M380.01 95.7h0M386.7 78.82h0M387.37 51.94h0M383.87 71.24h0M386.84 85.97h0M381.37 53.34h0M387 73.06h0M375.21 83.98h0M380.19 76.88h0M371.42 89.39h0M387.35 56.13h0M388.65 60.64h0M380.99 73.17h0M373.4 94.84h0M379.04 95.8h0M387.55 83.32h0M381.64 40.65h0M375.16 53.19h0M385.88 93.64h0M382.99 78.89h0M373.56 72.95h0M381.7 69.75h0M388.15 78.21h0M374.64 74.77h0M383.42 94.43h0M373.73 78.22h0M384.09 75.03h0M379.83 73.68h0M388.43 82.7h0M374.61 92.62h0M377.24 67.8h0M372.38 90.77h0M374.59 97.25h0M383.39 82.39h0M384.06 76.74h0M365.27 96.06h0M385.46 36.92h0M378.6 37.2h0M389.07 70.17h0M370.74 84.28h0M371.16 43.46h0M388.39 74.24h0M376.77 86.53h0M389.14 91.01h0M385.69 40.45h0M374.85 80.41h0M361.02 97.27h0M379.82 84.22h0M387.98 91.19h0M387.11 71.74h0M382.96 59.75h0M385.74 65.47h0M388.52 76.34h0M388.54 95.29h0M378.83 59.87h0M385.46 75.19h0M372.27 82.1h0M380.61 80.13h0M382.68 88.53h0M382.87 80.78h0M387.41 91.62h0M388.97 84.83h0M378.99 68.04h0M376.36 89.32h0M382.96 63.73h0M384.48 59.71h0M383.74 58.85h0M385.55 68.31h0M371.59 93.31h0M388.36 69.65h0M385.42 79.49h0M370.19 96.28h0M380.76 90.77h0M382.89 81.7h0M387.81 67.98h0M380.45 95.13h0M384.48 32.5h0M384.43 38.94h0M384.28 57.38h0M385.75 97.16h0M386.77 84.03h0M383.62 88.84h0M373.27 94.89h0M381.48 62.86h0M385.71 40.65h0M384.33 62.35h0M385.78 65.3h0M364.5 96.6h0M380.48 77.67h0M376.4 91.89h0M378.55 92.46h0M379.23 78.61h0M387.27 68.16h0M377.17 83.34h0M387.14 81.88h0M375.74 97.3h0M388.07 68.8h0M382.56 80.03h0M373.54 84.48h0M388.6 54.51h0M383.8 76.38h0M383.64 88.07h0M371.73 89.98h0M389.03 75.61h0M376.79 61.26h0M372.82 68.51h0M381.24 58.67h0M374.09 88.19h0M372.64 74.5h0M374.04 93.48h0M386.07 97.27h0M380.34 83.91h0M383.04 77.41h0M384.98 88.91h0M388.76 70.11h0M367 90.92h0M373.41 94.27h0M385.81 96.51h0M383.46 85.75h0M388.48 95.95h0M384.69 46.54h0M372.49 91.6h0M383.59 81.21h0M386.46 66.75h0M382.99 90.25h0M388.11 87.17h0M387.07 62.12h0M376.29 88.64h0M387.01 95.46h0M376.34 92.83h0M379.12 92.47h0M377.34 74.61h0M388.46 84.25h0M372.91 76.23h0M378.13 96.68h0M378.44 70.1h0M378.92 57.9h0M388 50.54h0M386.83 72.9h0M389.07 86.07h0M387.61 86.74h0M381.64 68.18h0M381.54 69.81h0M381.31 72.41h0M374.52 93.69h0M385.69 88.33h0M371.94 80.51h0M378.13 73.43h0M368.33 73.53h0M364.6 79.51h0M384.23 95.64h0M372.44 91.2h0M376.26 72.93h0M373.46 72.66h0M385.49 78.47h0M388.43 76.84h0M376.5 62.41h0M388.28 67.89h0M388.22 58.25h0M383.59 85.9h0M369.02 66.05h0M380.62 77.24h0M383.75 85.91h0M388.7 61.9h0M386.76 82.13h0M388.86 76.51h0M378.49 95.62h0M388.31 62.79h0M362.06 96.02h0M380.23 95.14h0M372.81 87.94h0M386.82 91.14h0M379.83 82.11h0M379.97 85.84h0M377.26 57.15h0M388.79 47.05h0M385.14 75.15h0M374.74 93.01h0M389.08 88.13h0M387.78 62.21h0M378.92 26.91h0M380.19 56.11h0M387.25 62.96h0M373.47 94.19h0M377.14 82.24h0M379.81 80.61h0M381.5 59.82h0M365.36 85.17h0M386.37 84.22h0M386.17 93.54h0M382.7 57.88h0M382.74 35.57h0M388.72 84.88h0M377.48 70.51h0M383.83 78.03h0M381.63 64.14h0M371.99 57.98h0M382.64 80.76h0M373.61 72.09h0M388.13 51.42h0M381.68 81.3h0M380.26 93.34h0M384.18 57.53h0M381.34 79.15h0M372.96 92.3h0M372.82 75.02h0M387.9 83.53h0M388.52 82.23h0M380.37 63.65h0M377.55 43.99h0M386.42 83.09h0M384.51 97.19h0M366.3 84.71h0M382.77 83.21h0M383.59 73.52h0M388.72 62.86h0M383.64 83.88h0M389.15 72.01h0M382.81 66.37h0M388.45 69.71h0M369.48 76.61h0M376.58 62.76h0M383.35 92.28h0M384.09 80.34h0M366.71 90.25h0M379.8 84.05h0M389.12 59.3h0M382.8 79.6h0M381.28 72.7h0M387.84 65.54h0M378.4 83.56h0M377.65 70.09h0M378.99 65.12h0M384.62 43.47h0M385.66 95.35h0M388.01 30.19h0M377.97 65.55h0M377.94 92.16h0M384.61 73.92h0M387.56 90.89h0M378.27 68.56h0M381.19 56.36h0M377.97 85.45h0M379.53 59.06h0M372.59 92.36h0M388.44 88.86h0M384.02 47.83h0M378.32 61.54h0M388.18 56.41h0M379.52 82.09h0M377.02 96.33h0M377.02 86.66h0M388.29 63.18h0M387.83 82.24h0M386.5 82.15h0M389.2 36.81h0M377.19 77.31h0M388.78 50.83h0M386.17 49.36h0M387.43 58.67h0M377.49 44.17h0M385.68 82.21h0M375.04 96.38h0M385.88 88.46h0M378.73 74.2h0M381.9 57.74h0M384.95 83.64h0M382.17 86.79h0M376.23 94.05h0M387.58 86.12h0M385.12 87.03h0M387.89 52.55h0M389.02 96.94h0M379.21 93.52h0M374.07 90.71h0M383.57 73.64h0M382.08 95.81h0M380.85 66.04h0M387.59 69.63h0M376.1 70.65h0M379.28 84.67h0M389.1 75.91h0M385.88 96.45h0M364.51 90.01h0M360.8 87.46h0M379.17 92.08h0M385.97 85.01h0M378.75 62.48h0M387.03 95.14h0M383.97 87.76h0M380.29 64.79h0M387.6 94.63h0M385.55 68.26h0M386.02 67.51h0M377.4 73.15h0M383.86 74.17h0M371.87 89.11h0M389.03 51.51h0M378.59 88.88h0M362.58 92.2h0M383.46 56.55h0M386.62 64.13h0M381.57 69.43h0M384.85 48.44h0M369.48 70.56h0M376.58 86.95h0M389.08 82.1h0M389.09 58.89h0M381.26 63.2h0M376.22 76.65h0M379.94 95.64h0M374.49 80.82h0M381.09 55.03h0M387.58 74.22h0M379.36 72.6h0M379.87 67.62h0M384.35 44.96h0M383.01 79.24h0M385.95 81.43h0M388.11 52.98h0M386.91 47.66h0M370.9 95h0M388.34 37.68h0M382.25 82.55h0M361.58 83.44h0M382.86 64.39h0M388.31 61h0M379.54 80.78h0M384.72 89.78h0M380.43 83.3h0M389.08 63.54h0M388.55 54.27h0M382.28 70.43h0M384.75 57.32h0M383.05 70.37h0M380.81 88.46h0M363.89 69.72h0M378.04 80.92h0M387.23 89.82h0M368.59 83.09h0M379.91 91.32h0M378.04 77.9h0M379.95 97.31h0M378.96 81.56h0M388.6 90.96h0M380.37 73.67h0M381.33 96.89h0M379.09 76.17h0M365.97 67.29h0M387.73 86.29h0M388.42 35.71h0M388.42 86.13h0M377.34 70.43h0M373.79 91.3h0M387.71 95.27h0M380.5 61.08h0M382.96 87.44h0M381.24 94.16h0M388.37 80.17h0M384.13 76.81h0M387.35 66.52h0M383.02 96.42h0M372.53 88.14h0M374.36 78.01h0M382.61 82.68h0M380.38 70.17h0M377.65 86.35h0M365.08 85.41h0M377.39 92.51h0M374.93 83.87h0M388.52 80.23h0M383.83 93.15h0M387.99 76.46h0M381.64 88.9h0M387.4 38h0M378.61 92.77h0M381.92 65.46h0M384.31 69.84h0M374.41 83.52h0M384.7 71.62h0M388.67 73.88h0M380.67 96.55h0M382.46 47.76h0M388.85 81.1h0M375.42 95h0M381.03 71.99h0M383.97 64.14h0M382.97 79.9h0M384.54 70.94h0M371.19 82.89h0M371.17 80.03h0M387.2 93.93h0M388.53 53.43h0M374.77 67h0M381.42 88.75h0M375.42 96.95h0M377.44 93.51h0M386.11 97.2h0M386.12 91.23h0M387.3 86.51h0M380.58 84.36h0M379.24 58.6h0M378.41 64.86h0M381.76 83.67h0M386.36 61.44h0M373.89 40.21h0M383.48 82.65h0M380.22 96.89h0M380.59 94.42h0M386.06 64.47h0M381.44 85.39h0M384.13 65.56h0M388.9 64.54h0M387.03 62.44h0M385.28 79.59h0M373.32 64.09h0M381.55 65.76h0M385.35 74.51h0M381.95 97.03h0M371.64 95.55h0M373.92 81.48h0M378.97 63.58h0M384.74 85.58h0M380.57 69.17h0M378.76 58.58h0M387.13 77.63h0M379.86 42.9h0M377.75 65.67h0M381.36 95.56h0M378.31 66.04h0M364.99 83.57h0M388.76 67.91h0M369.73 80.56h0M382.32 81.42h0M386.05 92.21h0M384.94 88.3h0M381.05 70.74h0M375.17 81.77h0M386.98 31.49h0M387.42 62.82h0M383.88 77.19h0M371.74 93.76h0M376.44 50.38h0M387.4 70.67h0M383.26 48.79h0M384.12 87.68h0M381.84 84.61h0M380.92 74.57h0M379.57 66.1h0M379.55 92.83h0M384.45 81.29h0M385.37 70.2h0M377.95 91.53h0M371.05 83.85h0M384.32 85.52h0M389.19 55.95h0M385.22 84.78h0M388.29 45.92h0M380.95 89.25h0M385.44 73.54h0M377.51 69.73h0M389.08 94.58h0M386.24 94.68h0M387.55 63.57h0M385.1 81.07h0M386.23 87.58h0M387.24 72.37h0M384 66.93h0M363.31 88.24h0M368.39 75.95h0M386.8 82.03h0M385.19 89.27h0M384.53 75.04h0M386.47 75.57h0M382.56 73.81h0M387.07 71.38h0M380.61 67.46h0M369.37 64.54h0M383.79 44.72h0M381.83 71.45h0M387 67.63h0M376.11 93.61h0M374.98 96.59h0M383.79 71.75h0M381.85 76.25h0M384.17 93.91h0M383.5 61.61h0M384.28 68.76h0M382.18 22.34h0M387.7 45.76h0M368.84 88.9h0M386.7 67.95h0M381.15 79.67h0M384.1 74.99h0M386.35 75.07h0M386.63 65.87h0M383.83 71.09h0M385.07 85.57h0M379.96 96.45h0M388.82 46.4h0M375.02 86.43h0M380.9 88.03h0M372.9 91.72h0M381.17 96.42h0M388.11 80.52h0M378.84 87.73h0M371.35 68.61h0M380.52 81.12h0M374.01 86.22h0M372.59 96.33h0M377.03 68.47h0M378.83 89.05h0M384.19 80.6h0M386.3 75.94h0M388.43 55.69h0M384.24 88.88h0M385.95 89.89h0M382.29 75.13h0M377.3 56.85h0M382.34 74.91h0M381.96 85.03h0M387.82 84.49h0M369.25 43.23h0M382.94 86.51h0M384.8 96.46h0M384.78 90.7h0M387.69 84.29h0M383.42 78.43h0M384.43 64.53h0M384.59 87.73h0M379.91 67.45h0M380.82 91.11h0M375.65 85.01h0M376.51 96.14h0M380.88 70.98h0M384.72 96.72h0M381.66 76.16h0M384.4 59.66h0M379.23 88.34h0M386.4 66.56h0M384.38 63.45h0M380.55 68.94h0M383.91 76.38h0M379.34 67.01h0M381.98 65.38h0M385.98 66.3h0M377.64 70.68h0M384.11 70.37h0M383.76 77.59h0M372.12 89.16h0M383.31 45.25h0M371.09 87.06h0M385.61 34.43h0M378.6 96.62h0M382.59 41.61h0M384.75 63.13h0M381.32 91.32h0M384.02 67.69h0M368.06 95.07h0M387.63 85.13h0M365.4 95.36h0M389.16 89.11h0M386.76 80.41h0M377.05 64.04h0M382.14 89.93h0M383.6 96.91h0M388.81 59.44h0M368.44 97h0M380.93 69.59h0M380.04 70.75h0M377.27 88.14h0M388.96 76.66h0M381.96 50.39h0M388.5 94.66h0M380.83 76.25h0M387.42 75.45h0M373.61 79.37h0M387.13 64.5h0M383.51 68.71h0M375.26 75.6h0M378.62 86.24h0M385.94 75.02h0M380.06 67.76h0M368.94 94.85h0M382.47 91.62h0M386.92 74.15h0M375.14 94.58h0M385.57 74.98h0M383.92 66.24h0M379.73 54.71h0M384.43 96.31h0M374.85 82.64h0M385.79 66.79h0M386.49 45.82h0M384.57 54.75h0M379.09 86.96h0M381.86 91.34h0M388.07 70.46h0M387.79 74.63h0M378.2 91.44h0M385.49 28.73h0M386.47 85.17h0M360.4 81.37h0M381.39 91h0M374.45 96.22h0M377.85 93.22h0M386.62 67.75h0M385.06 91.96h0M375.47 56.75h0M381.89 84.87h0M379.2 58.91h0M385.75 78.33h0M350.04 25.67h0M355.52 81.31h0M357.21 87.91h0M358.89 69.05h0" stroke="#45b8d8" stroke-width="1.9" stroke-linecap="round" fill="none"/>
<path d="M402.51 76.04h0M404.99 62.51h0M402.24 78.53h0M403.21 97.25h0M413.42 67.09h0M418.47 47.5h0M409.16 68.62h0M401.42 81.97h0M407.2 41.55h0M401.28 43.91h0M406.02 44.67h0M399.61 21.07h0M401.56 63.01h0M400.21 21.87h0M399.59 40.93h0M407.35 60.31h0M402.66 96.99h0M404.55 84.5h0M400.2 44.79h0M401.09 56.36h0M400.05 42.3h0M404.15 93.44h0M400 55.03h0M406.83 16.26h0M401.08 22.8h0M402.42 58.4h0M399.85 50.16h0M406.98 17.11h0M413.74 75.01h0M406.49 91.33h0M401.65 70.26h0M402.29 97.2h0M400.33 77.13h0M421.21 90.2h0M402.66 80.31h0M410.7 65.58h0M406.04 76.82h0M406.02 23.75h0M404.37 96.58h0M404.71 80.11h0M403.45 89.82h0M402.66 40.82h0M399.74 37.93h0M404.77 90.62h0M403.84 49.78h0M404.08 87.13h0M402.01 42.36h0M400.55 93.08h0M426.55 92.95h0M402.57 49.11h0M401.43 76.01h0M400.23 29.32h0M405.06 25.53h0M409.21 75.93h0M399.39 84.22h0M400.39 64.72h0M401.45 87.57h0M401.67 29.14h0M403.18 94.09h0M401.18 48.35h0M399.5 86.81h0M407.47 81.4h0M405.87 89.77h0M400.8 59.37h0M403.2 96.78h0M402.91 65.08h0M404.56 57.32h0M403.93 94.66h0M407.32 21.81h0M404.51 74.98h0M401.41 71.07h0M408.12 67.7h0M404.65 79.9h0M399.98 41.15h0M399.92 97.11h0M402.6 63.2h0M399.86 67.45h0M402.92 96.49h0M402.42 60.41h0M418.33 90.81h0M403.39 81.41h0M402.44 85.93h0M401.74 63.06h0M410.25 84.94h0M401.04 49.28h0M403.88 60.31h0M416.84 64.68h0M407.37 29.68h0M401.52 75.65h0M403.13 95.51h0M410.2 96.48h0M407.42 23.89h0M402.69 18.47h0M401.66 23.38h0M400.21 78.41h0M405.91 75.06h0M400.93 92.48h0M409.55 26.11h0M399.45 62.79h0M399.62 34.58h0M401.6 17.51h0M411.03 80.21h0M401.16 35.61h0M403.1 91.74h0M403.33 91.29h0M401.25 28.54h0M418.89 97.33h0M399.74 97.1h0M402.78 57.96h0M400.23 16.18h0M404.12 21.52h0M400.22 76.66h0M400.17 92.45h0M419.77 97.33h0M406.06 59.9h0M409.11 83.13h0M407.15 63.3h0M400.3 54.72h0M406.94 78.93h0M399.61 81.4h0M401.66 92.35h0M403 85.14h0M403.14 66.95h0M408.22 77.71h0M402.09 68.23h0M399.86 91.62h0M401.49 96.84h0M405.74 62.52h0M404.96 57.46h0M400.46 38.61h0M401.68 87.22h0M399.57 80h0M400.67 94.52h0M404.3 21.66h0M400.99 51.52h0M400.25 15.91h0M401.29 97.32h0M401.18 57.81h0M400.78 26.99h0M400.91 77.79h0M412.38 58.22h0M403.52 35.82h0M399.42 58.87h0M403.56 51.7h0M401.21 72.87h0M405.79 66.69h0M403.19 70.04h0M403.67 59.9h0M399.4 15.9h0M400.42 64.34h0M402.35 75.64h0M405.91 87.75h0M400.16 53.81h0M399.37 91.12h0M400.77 52.08h0M412.9 60.96h0M400.29 22.47h0M399.52 74.05h0M402.04 42.1h0M400.7 95.69h0M407.17 77.73h0M402.74 78.55h0M408.67 48.76h0M400.5 78.16h0M399.49 66.51h0M409.96 97.01h0M404.44 30.82h0M403.45 53.14h0M400.89 76.48h0M404.34 96.2h0M404.97 71.98h0M401.9 93.52h0M402.03 37.9h0M403.81 79.08h0M399.57 18.7h0M402.56 24.63h0M400.57 23.22h0M403.31 50.41h0M400.19 87.75h0M399.55 68.99h0M407.07 67.49h0M402 88.57h0M403.31 88.6h0M401.7 28.85h0M410.86 91.13h0M400.62 33.87h0M410.89 60.94h0M402.11 44.74h0M404.13 66.82h0M399.8 95.69h0M408.05 41.53h0M423.36 50.3h0M411.67 73.5h0M420.77 45.25h0M403.26 82.32h0M402.01 86.71h0M406.09 44.79h0M406.19 37.71h0M404.87 72.51h0M402.88 84.56h0M406.88 35.81h0M401.03 78.14h0M407.22 54.84h0M419 86.37h0M400.67 75.53h0M400.39 25.86h0M399.78 44.53h0M406.78 88.14h0M405.31 61.4h0M400.62 24.86h0M401.07 82.14h0M401.71 27.65h0M400.61 37.73h0M404.92 37.69h0M401.96 78.26h0M401.67 50.42h0M403.54 95.05h0M403.01 78.89h0M400.37 16.24h0M404.87 89.52h0M400.88 71.78h0M401.21 92.21h0M403.82 81.91h0M414.6 79.09h0M400.32 57.68h0M401.95 23.82h0M401.47 65.76h0M403.35 46.97h0M401.68 74.78h0M400.32 85.34h0M401.18 67.12h0M405.26 52.65h0M399.99 49.89h0M401.44 77.82h0M402.51 30.26h0M401.96 63.34h0M400.03 66.44h0M402.59 24.38h0M401.61 36.75h0M408.54 50.76h0M406.41 29.69h0M408.08 73.65h0M400.9 48.72h0M400.76 72.51h0M402.71 86.72h0M404.06 28.94h0M403.83 51.74h0M408.15 18.77h0M403.38 34.31h0M404.98 97.01h0M404.8 19.45h0M403.96 33.58h0M399.93 97.34h0M419.22 95.61h0M399.37 39.43h0M409.29 88.39h0M405.51 19.98h0M409.41 85.68h0M402.55 78.91h0M403.84 97.07h0M419.17 93.67h0M410.17 91.59h0M400.08 61.95h0M403.88 85.9h0M399.8 94.89h0M402.42 97.34h0M400.98 91.46h0M404.92 87.23h0M406.17 15.95h0M401.84 64.78h0M418.9 16.09h0M402.61 83.44h0M401.65 69.69h0M401.66 73.86h0M399.42 95.78h0M410.75 52.67h0M402 17.53h0M401.09 61.24h0M400.68 43.84h0M400.48 45.53h0M418.24 68.52h0M403.02 95.14h0M400.92 18.82h0M404.47 45.75h0M403.4 96.32h0M403.52 89.87h0M402.24 89.08h0M400.33 23.42h0M404.63 45.6h0M419.55 46.96h0M415.2 30.45h0M401.12 23.79h0M403.17 61.84h0M401.77 50.71h0M400.79 47.44h0M401.35 75.59h0M403.8 66.94h0M399.42 95.38h0M400.09 93.76h0M424.21 80.26h0M403.97 86.68h0M404.26 94.01h0M402.93 91.74h0M412.65 42.69h0M404.26 25.1h0M407.84 45.29h0M405.5 72.59h0M406.13 87.77h0M422.88 70.28h0M399.74 76.56h0M404.34 33.03h0M400.73 17.06h0M401.3 93.3h0M402.92 96.21h0M400.44 75.33h0M401.43 81.58h0M415.29 94.93h0M404.1 33.05h0M400.78 94.13h0M400.9 97.29h0M399.82 92h0M401.88 93.47h0M405.71 37.21h0M401.45 35.73h0M400.16 95.91h0M402.03 91.71h0M411.25 54.2h0M403.82 23.79h0M400.07 57.9h0M406.53 18.55h0M401.85 37.11h0M402.44 61.8h0M400.88 41h0M402.06 94.82h0M405.35 86.54h0M422.18 58.1h0M405.17 48.85h0M403.2 27.12h0M400.44 56.34h0M399.63 32.27h0M408.41 90.32h0M402.85 94.08h0M399.47 90.47h0M403.2 76.83h0M416.88 76.53h0M415.13 79.4h0M403.45 24.59h0M404.88 46.47h0M401.83 59.71h0M406.17 91.87h0M404.41 32.14h0M411.22 78.43h0M405.57 32.22h0M401.66 23.06h0M406.46 27.66h0M403.63 33.17h0M404.14 67.67h0M403.51 19.67h0M400.48 32.87h0M400.89 41.98h0M403.71 94.28h0M399.43 86.6h0M401.24 87.66h0M399.95 83.01h0M400.43 56.45h0M407.11 44.5h0M402.44 90.84h0M400.5 53.28h0M400.94 96.41h0M403.3 96.67h0M400 38.04h0M406.6 93.69h0M410.87 22.73h0M399.99 16.25h0M400.68 86.24h0M399.57 40.37h0M406.81 97.03h0M404.78 90.32h0M413.36 55.7h0M402.19 91.68h0M400.14 60.15h0M407.59 38.87h0M401.75 96.15h0M400.73 73.55h0M402.61 23.93h0M399.94 38.67h0M403.02 20.72h0M405.44 46.83h0M400.96 75.99h0M408.72 92.21h0M403.05 41.79h0M406.5 89.04h0M403.46 97.32h0M404.85 38.55h0M400.8 74.35h0M408.54 77.73h0M402.72 54.5h0M406.21 53.09h0M404.5 33.36h0M408.87 88.91h0M401.07 78.39h0M405.64 86.96h0M401.76 33.86h0M405.67 96.28h0M400.51 90.66h0M399.41 30.03h0M409.23 96.04h0M400.83 81.86h0M400.74 66.55h0M401.89 48.04h0M400.39 96.88h0M405.44 70.31h0M403.26 87.27h0M402.9 93.76h0M403.58 36.69h0M401.36 40.15h0M404.86 84.99h0M399.92 57.87h0M403.01 68.02h0M402.35 92.06h0M405.73 95.35h0M400.3 73.33h0M403.45 89.52h0M402.7 44.65h0M399.98 75.76h0M400.7 71.29h0M403.02 81.58h0M406 84.79h0M405.15 48.84h0M408.93 92.16h0M399.45 60.77h0M416.84 92.33h0M402.69 77.77h0M407.16 49.72h0M408.02 88.17h0M409.65 82.95h0M425.94 70.14h0M399.78 88.4h0M402.76 93.81h0M406.58 86h0M402.84 94.03h0M403.94 77.77h0M400.95 94.38h0M402.11 56.38h0M406.03 91.06h0M403.16 66.35h0M404.21 37.48h0M404.17 89.03h0M402.56 78.03h0M403.42 93.04h0M400.7 74.8h0M404.25 26.34h0M407.24 46.91h0M400.48 44.84h0M402.47 81.56h0M409.37 27.08h0M402.58 76.67h0M400.46 92.27h0M413.22 76.35h0M415.05 68.61h0M406.34 24.98h0M414.56 69.89h0M401.85 62.21h0M403.15 42.75h0M403.82 72.16h0M403.98 48.22h0M401.53 95.97h0M403.25 81.95h0M404.52 74.43h0M412.16 97.23h0M402.1 73.63h0M399.37 65.32h0M406.8 65.45h0M401.56 96.63h0M401.59 38.86h0M402.98 55.79h0M405.61 88.2h0M399.48 91.76h0M400.44 22.03h0M402.93 90.44h0M399.93 76.36h0M406.8 87.12h0M416.46 92.39h0M400.05 96.66h0M402.61 27.02h0M402.21 75.57h0M400.92 96.55h0M401.7 82.88h0M401.24 58.28h0M405.1 69.6h0M417.98 40.3h0M400.49 80.22h0M403.9 95.74h0M409.01 32.25h0M400.94 88.22h0M409.79 60.02h0M410.67 72.35h0M405.15 22.17h0M400.37 89.59h0M399.67 65.41h0M400.43 18.15h0M412.72 91.92h0M401.1 35.11h0M401.74 25.96h0M402.16 21.25h0M401.35 29.18h0M405.04 62.74h0M406.6 37.05h0M402.08 74.56h0M410.3 36.75h0M409.42 51.97h0M399.7 31.68h0M405.02 37.57h0M401.53 97.32h0M401.12 40.87h0M405.36 95.87h0M402.93 86.85h0M401.26 89.12h0M403.94 64.82h0M404.19 86.29h0M408.21 93.09h0M401.22 95.24h0M404 23.58h0M401.37 93.45h0M401.33 62.37h0M401.12 92.26h0M409.98 59.71h0M399.42 85.04h0M400.24 18.34h0M408.03 96.68h0M401.23 76h0M401.16 52.08h0M406.8 72.13h0M404.75 50.95h0M404.87 40.13h0M400.97 88.09h0M402.43 82.13h0M403.54 85.34h0M410.14 42.92h0M409.6 35.16h0M399.65 88.62h0M402.83 73.96h0M415.56 82.28h0M422.19 19.01h0M401.43 33.87h0M399.94 96.26h0M401.4 47.99h0M401.99 96.63h0M407.95 95.88h0M402.31 39.08h0M400.73 92.32h0M404.24 93.26h0M412.42 32.27h0M402.23 96.08h0M400.34 16.6h0M402.03 52.79h0M419.1 16.48h0M401.58 81.95h0M406.4 92.5h0M401.05 69.27h0M405.13 97.1h0M402.73 90.77h0M405.19 72.01h0M407.71 49.46h0M409.58 92.01h0M401.47 59.34h0M401.27 94.55h0M402.75 94.44h0M403.35 20.77h0M403.57 61.99h0M402 97.32h0M401.69 46.84h0M406.7 76.88h0M406.09 88.54h0M399.45 66.13h0M404.02 85.37h0M402.01 26.78h0M401.54 73.22h0M423.26 70.99h0M402.25 72.85h0M399.62 71.64h0M401.46 96.54h0M403.54 59.91h0M399.57 66.45h0M400.19 56.08h0M403.26 50.43h0M405.71 36.35h0M400.78 70.52h0M400.08 80.98h0M407.1 38.31h0M404.5 18.36h0M407.89 75.61h0M407.42 31.26h0M399.49 72.56h0M406.11 62.48h0M400.32 84.3h0M399.65 52.9h0M399.64 32.22h0M411.47 62.71h0M407.23 58.1h0M406.79 26.63h0M403.3 51.14h0M401.79 78.73h0M411.53 54.9h0M401.68 94.62h0M399.36 65.38h0M405.63 21.21h0M402.5 93.1h0M401.14 96.95h0M405 42.59h0M406.99 90.55h0M400.48 90.53h0M405.91 80.53h0M405.57 82.2h0M412.5 90.51h0M402.61 83.9h0M401.55 72.84h0M407.97 48.04h0M402.33 33.14h0M400.61 92.23h0M406.37 38.47h0M403.83 96.31h0M408.9 95.99h0M402.01 87.15h0M410.28 63.96h0M400 72.33h0M401.3 79.53h0M403.94 91.18h0M404.76 66.9h0M401.5 96.95h0M403.64 81.94h0M403.17 81.43h0M400.84 56.62h0M399.98 59.34h0M403.85 89.3h0M406.03 66.71h0M399.74 56.93h0M399.41 37.59h0M401.03 20.17h0M404.78 48.98h0M404.48 83.43h0M403.98 41.56h0M401.09 90.62h0M401.38 22.11h0M407.33 87.42h0M402.65 54.79h0M400.59 24.52h0M406.78 26.93h0M400.25 50.56h0M401.6 89.68h0M402.97 89.74h0M402.14 62.12h0M400.93 94.79h0M402.4 66.82h0M406.28 35.59h0M399.96 87.59h0M400.44 97.06h0M426.33 66.1h0M412.26 97.17h0M407.32 38.76h0M406.4 69.56h0M404.96 92.85h0M402.27 91.51h0M401.77 95.87h0M406.48 67.26h0M402.17 27.91h0M410.72 17.21h0M411.6 51.38h0M405.11 96.91h0M406.22 95.02h0M409.08 83.21h0M423.12 97.28h0M400.75 53.94h0M401.27 55.78h0M401.18 26.05h0M411.69 55.97h0M405.63 91.58h0M407.18 43.14h0M399.58 90.37h0M401.64 79.24h0M402.31 66.92h0M400.66 87.59h0M408.19 54.26h0M405.17 72.06h0M402.84 63.1h0M400.51 71.3h0M411.02 70.87h0M400.51 94.64h0M409.79 94.7h0M403.37 70.55h0M400.76 75.73h0M404.63 96.24h0M403.89 63.1h0M403.92 26.77h0M403.46 73.36h0M407.1 79.84h0M402.15 59.57h0M402.44 81.51h0M403.91 79.38h0M401.76 57.24h0M401.67 66.48h0M399.95 53.34h0M399.79 67.43h0M403.4 22.2h0M405.51 38.62h0M404.91 27.51h0M399.72 65.41h0M405.62 94.47h0M402.01 89.4h0M400.64 66.69h0M404 87.98h0M399.81 15.65h0M404.11 15.76h0M403.72 95.38h0M404.05 74.49h0M402.67 97.3h0M401.08 89.6h0M402.15 82.69h0M406.86 62.32h0M399.58 87.33h0M401.71 83.83h0M405.38 97.31h0M399.44 50.1h0M404.39 44.56h0M408.44 95.4h0M402.32 90.66h0M402.6 79.7h0M401.29 43.44h0M400.33 83.14h0M399.92 91.7h0M413.28 48.09h0M401.18 90.68h0M413.99 38.71h0M412.09 45.51h0M402.05 54.5h0M424.27 90.71h0M424.59 90.88h0M404.63 95.37h0M407.57 93.49h0M407.03 43.85h0M401.22 79.45h0M403.52 95.82h0M400.28 25.14h0M402.11 68.29h0M402.98 64.95h0M408.44 74.14h0M411.54 30.85h0M400.38 96.01h0M405.22 45.6h0M399.87 40.44h0M400.98 82.95h0M407.83 24.92h0M401.43 67.55h0M401.29 18.75h0M405.65 93.31h0M400.5 64.72h0M401.73 29.55h0M402.67 25.83h0M399.63 70.66h0M400.68 94.51h0M411.34 18.98h0M404.3 69.42h0M402.7 96.71h0M399.96 56.38h0M439.82 83.2h0M433.08 75.65h0M429.71 56.79h0M426.33 94.51h0M434.76 69.99h0M422.12 41.7h0M418.75 27.56h0M427.18 49.25h0M424.65 26.62h0" stroke="#ee8f72" stroke-width="1.9" stroke-linecap="round" fill="none"/>
<line x1="389.37" y1="15.3" x2="389.37" y2="109.6" stroke="#c8c8c8" stroke-width="0.8"/>
<line x1="399.23" y1="15.3" x2="399.23" y2="109.6" stroke="#c8c8c8" stroke-width="0.8"/>
<line x1="342.9" y1="97.34" x2="445.3" y2="97.34" stroke="#bbb" stroke-width="0.7" stroke-dasharray="1.5 1"/>
<rect x="342.9" y="15.3" width="102.4" height="94.3" fill="none" stroke="#000" stroke-width="1.1"/>
<line x1="340.1" y1="109.6" x2="342.9" y2="109.6" stroke="#000" stroke-width="1"/>
<text x="337.6" y="111.7" font-size="6.6" text-anchor="end" textLength="3.34" lengthAdjust="spacingAndGlyphs">0</text>
<line x1="340.1" y1="90.74" x2="342.9" y2="90.74" stroke="#000" stroke-width="1"/>
<text x="337.6" y="92.84" font-size="6.6" text-anchor="end" textLength="3.34" lengthAdjust="spacingAndGlyphs">2</text>
<line x1="340.1" y1="71.88" x2="342.9" y2="71.88" stroke="#000" stroke-width="1"/>
<text x="337.6" y="73.98" font-size="6.6" text-anchor="end" textLength="3.34" lengthAdjust="spacingAndGlyphs">4</text>
<line x1="340.1" y1="53.02" x2="342.9" y2="53.02" stroke="#000" stroke-width="1"/>
<text x="337.6" y="55.12" font-size="6.6" text-anchor="end" textLength="3.34" lengthAdjust="spacingAndGlyphs">6</text>
<line x1="340.1" y1="34.16" x2="342.9" y2="34.16" stroke="#000" stroke-width="1"/>
<text x="337.6" y="36.26" font-size="6.6" text-anchor="end" textLength="3.34" lengthAdjust="spacingAndGlyphs">8</text>
<line x1="340.1" y1="15.3" x2="342.9" y2="15.3" stroke="#000" stroke-width="1"/>
<text x="337.6" y="17.4" font-size="6.6" text-anchor="end" textLength="6.67" lengthAdjust="spacingAndGlyphs">10</text>
<line x1="343.72" y1="109.6" x2="343.72" y2="112.2" stroke="#000" stroke-width="1"/>
<text x="343.12" y="121.6" font-size="6.6" text-anchor="middle" textLength="5.33" lengthAdjust="spacingAndGlyphs">-6</text>
<line x1="360.58" y1="109.6" x2="360.58" y2="112.2" stroke="#000" stroke-width="1"/>
<text x="359.98" y="121.6" font-size="6.6" text-anchor="middle" textLength="5.33" lengthAdjust="spacingAndGlyphs">-4</text>
<line x1="377.44" y1="109.6" x2="377.44" y2="112.2" stroke="#000" stroke-width="1"/>
<text x="376.84" y="121.6" font-size="6.6" text-anchor="middle" textLength="5.33" lengthAdjust="spacingAndGlyphs">-2</text>
<line x1="394.3" y1="109.6" x2="394.3" y2="112.2" stroke="#000" stroke-width="1"/>
<text x="394.3" y="121.6" font-size="6.6" text-anchor="middle" textLength="3.34" lengthAdjust="spacingAndGlyphs">0</text>
<line x1="411.16" y1="109.6" x2="411.16" y2="112.2" stroke="#000" stroke-width="1"/>
<text x="411.16" y="121.6" font-size="6.6" text-anchor="middle" textLength="3.34" lengthAdjust="spacingAndGlyphs">2</text>
<line x1="428.02" y1="109.6" x2="428.02" y2="112.2" stroke="#000" stroke-width="1"/>
<text x="428.02" y="121.6" font-size="6.6" text-anchor="middle" textLength="3.34" lengthAdjust="spacingAndGlyphs">4</text>
<line x1="444.88" y1="109.6" x2="444.88" y2="112.2" stroke="#000" stroke-width="1"/>
<text x="444.88" y="121.6" font-size="6.6" text-anchor="middle" textLength="3.34" lengthAdjust="spacingAndGlyphs">6</text>
<text x="394" y="132.5" font-size="7.8" text-anchor="middle" textLength="47" lengthAdjust="spacingAndGlyphs" style="stroke-width:0.3px">Log2 (fold change)</text>
<text x="394.4" y="144.2" font-size="8.8" text-anchor="middle" font-weight="bold" textLength="73" lengthAdjust="spacingAndGlyphs">MOLM-13/VEN vs MOLM-13</text>
<text x="322.5" y="63.8" font-size="6.6" font-weight="bold" text-anchor="middle" transform="rotate(-90 322.5 63.8)" textLength="41" lengthAdjust="spacingAndGlyphs">−Log<tspan font-size="4.2" dy="1.6">10</tspan><tspan dy="-1.6"> (</tspan><tspan font-style="italic">P</tspan> value)</text>
<circle cx="450.6" cy="48.2" r="1.6" fill="#45b8d8"/>
<text x="454.8" y="50.3" font-size="6.71" textLength="58.66" lengthAdjust="spacingAndGlyphs">Down regulated (777)</text>
<circle cx="450.6" cy="55.1" r="1.6" fill="#b8b8b8"/>
<text x="454.8" y="57.2" font-size="6.71" textLength="38.31" lengthAdjust="spacingAndGlyphs">Not sig (9766)</text>
<circle cx="450.6" cy="62" r="1.6" fill="#ee8f72"/>
<text x="454.8" y="64.1" font-size="6.71" textLength="50.86" lengthAdjust="spacingAndGlyphs">Up regulated (729)</text>
<text x="6.4" y="170.1" font-size="11.2" font-weight="bold" style="fill:#000;stroke:#000;stroke-width:0.45px">D</text>
<rect x="128" y="178" width="96.98" height="5.8" fill="#c8102e"/>
<line x1="124.7" y1="180.9" x2="127.6" y2="180.9" stroke="#000" stroke-width="0.9"/>
<text x="121.4" y="183.5" font-size="6.6" text-anchor="end" textLength="32.35" lengthAdjust="spacingAndGlyphs">Endocytosis</text>
<text x="227.98" y="183.5" font-size="6.82" textLength="30.33" lengthAdjust="spacingAndGlyphs">26 (3.21%)</text>
<rect x="128" y="185.65" width="96.98" height="5.8" fill="#c8102e"/>
<line x1="124.7" y1="188.55" x2="127.6" y2="188.55" stroke="#000" stroke-width="0.9"/>
<text x="121.4" y="191.15" font-size="6.6" text-anchor="end" textLength="40.69" lengthAdjust="spacingAndGlyphs">Focal adhesion</text>
<text x="227.98" y="191.15" font-size="6.82" textLength="30.33" lengthAdjust="spacingAndGlyphs">26 (3.21%)</text>
<rect x="128" y="193.3" width="93.25" height="5.8" fill="#c8102e"/>
<line x1="124.7" y1="196.2" x2="127.6" y2="196.2" stroke="#000" stroke-width="0.9"/>
<text x="121.4" y="198.8" font-size="6.6" text-anchor="end" textLength="78.04" lengthAdjust="spacingAndGlyphs">Regulation actin cytoskeleton</text>
<text x="224.25" y="198.8" font-size="6.82" textLength="30.33" lengthAdjust="spacingAndGlyphs">25 (3.09%)</text>
<rect x="128" y="200.95" width="89.52" height="5.8" fill="#c8102e"/>
<line x1="124.7" y1="203.85" x2="127.6" y2="203.85" stroke="#000" stroke-width="0.9"/>
<text x="121.4" y="206.45" font-size="6.6" text-anchor="end" textLength="32.02" lengthAdjust="spacingAndGlyphs">Phagosome</text>
<text x="220.52" y="206.45" font-size="6.82" textLength="30.33" lengthAdjust="spacingAndGlyphs">24 (2.96%)</text>
<rect x="128" y="208.6" width="82.06" height="5.8" fill="#c8102e"/>
<line x1="124.7" y1="211.5" x2="127.6" y2="211.5" stroke="#000" stroke-width="0.9"/>
<text x="121.4" y="214.1" font-size="6.6" text-anchor="end" textLength="27.12" lengthAdjust="spacingAndGlyphs">Lysosome</text>
<text x="213.06" y="214.1" font-size="6.82" textLength="30.33" lengthAdjust="spacingAndGlyphs">22 (2.72%)</text>
<rect x="128" y="216.25" width="78.33" height="5.8" fill="#c8102e"/>
<line x1="124.7" y1="219.15" x2="127.6" y2="219.15" stroke="#000" stroke-width="0.9"/>
<text x="121.4" y="221.75" font-size="6.6" text-anchor="end" textLength="26.35" lengthAdjust="spacingAndGlyphs">Apoptosis</text>
<text x="209.33" y="221.75" font-size="6.82" textLength="30.33" lengthAdjust="spacingAndGlyphs">21 (2.59%)</text>
<rect x="128" y="223.9" width="78.33" height="5.8" fill="#c8102e"/>
<line x1="124.7" y1="226.8" x2="127.6" y2="226.8" stroke="#000" stroke-width="0.9"/>
<text x="121.4" y="229.4" font-size="6.6" text-anchor="end" textLength="54.03" lengthAdjust="spacingAndGlyphs">Cellular senescence</text>
<text x="209.33" y="229.4" font-size="6.82" textLength="30.33" lengthAdjust="spacingAndGlyphs">21 (2.59%)</text>
<rect x="128" y="231.55" width="74.6" height="5.8" fill="#c8102e"/>
<line x1="124.7" y1="234.45" x2="127.6" y2="234.45" stroke="#000" stroke-width="0.9"/>
<text x="121.4" y="237.05" font-size="6.6" text-anchor="end" textLength="31.68" lengthAdjust="spacingAndGlyphs">Necroptosis</text>
<text x="205.6" y="237.05" font-size="6.82" textLength="30.33" lengthAdjust="spacingAndGlyphs">20 (2.47%)</text>
<rect x="128" y="244.4" width="149.2" height="5.8" fill="#134f88"/>
<line x1="124.7" y1="247.3" x2="127.6" y2="247.3" stroke="#000" stroke-width="0.9"/>
<text x="121.4" y="249.9" font-size="6.6" text-anchor="end" textLength="66.37" lengthAdjust="spacingAndGlyphs">MAPK signaling pathway</text>
<text x="280.2" y="249.9" font-size="6.82" textLength="30.33" lengthAdjust="spacingAndGlyphs">40 (4.94%)</text>
<rect x="128" y="252.05" width="141.74" height="5.8" fill="#134f88"/>
<line x1="124.7" y1="254.95" x2="127.6" y2="254.95" stroke="#000" stroke-width="0.9"/>
<text x="121.4" y="257.55" font-size="6.6" text-anchor="end" textLength="73.04" lengthAdjust="spacingAndGlyphs">PI3K-Akt signaling pathway</text>
<text x="272.74" y="257.55" font-size="6.82" textLength="30.33" lengthAdjust="spacingAndGlyphs">38 (4.69%)</text>
<rect x="128" y="259.7" width="126.82" height="5.8" fill="#134f88"/>
<line x1="124.7" y1="262.6" x2="127.6" y2="262.6" stroke="#000" stroke-width="0.9"/>
<text x="121.4" y="265.2" font-size="6.6" text-anchor="end" textLength="102.04" lengthAdjust="spacingAndGlyphs">Cytokine- cytokine receptor interaction</text>
<text x="257.82" y="265.2" font-size="6.82" textLength="30.33" lengthAdjust="spacingAndGlyphs">34 (4.20%)</text>
<rect x="128" y="267.35" width="115.63" height="5.8" fill="#134f88"/>
<line x1="124.7" y1="270.25" x2="127.6" y2="270.25" stroke="#000" stroke-width="0.9"/>
<text x="121.4" y="272.85" font-size="6.6" text-anchor="end" textLength="71.03" lengthAdjust="spacingAndGlyphs">Calcium signaling pathway</text>
<text x="246.63" y="272.85" font-size="6.82" textLength="30.33" lengthAdjust="spacingAndGlyphs">31 (3.83%)</text>
<rect x="128" y="275" width="89.52" height="5.8" fill="#134f88"/>
<line x1="124.7" y1="277.9" x2="127.6" y2="277.9" stroke="#000" stroke-width="0.9"/>
<text x="121.4" y="280.5" font-size="6.6" text-anchor="end" textLength="103.05" lengthAdjust="spacingAndGlyphs">Neuroactive ligand-receptor interaction</text>
<text x="220.52" y="280.5" font-size="6.82" textLength="30.33" lengthAdjust="spacingAndGlyphs">24 (2.96%)</text>
<rect x="128" y="282.65" width="89.52" height="5.8" fill="#134f88"/>
<line x1="124.7" y1="285.55" x2="127.6" y2="285.55" stroke="#000" stroke-width="0.9"/>
<text x="121.4" y="288.15" font-size="6.6" text-anchor="end" textLength="63.7" lengthAdjust="spacingAndGlyphs">Rap1 signaling pathway</text>
<text x="220.52" y="288.15" font-size="6.82" textLength="30.33" lengthAdjust="spacingAndGlyphs">24 (2.96%)</text>
<rect x="128" y="290.3" width="89.52" height="5.8" fill="#134f88"/>
<line x1="124.7" y1="293.2" x2="127.6" y2="293.2" stroke="#000" stroke-width="0.9"/>
<text x="121.4" y="295.8" font-size="6.6" text-anchor="end" textLength="60.03" lengthAdjust="spacingAndGlyphs">Ras signaling pathway</text>
<text x="220.52" y="295.8" font-size="6.82" textLength="30.33" lengthAdjust="spacingAndGlyphs">24 (2.96%)</text>
<rect x="128" y="297.95" width="74.6" height="5.8" fill="#134f88"/>
<line x1="124.7" y1="300.85" x2="127.6" y2="300.85" stroke="#000" stroke-width="0.9"/>
<text x="121.4" y="303.45" font-size="6.6" text-anchor="end" textLength="60.03" lengthAdjust="spacingAndGlyphs">Wnt signaling pathway</text>
<text x="205.6" y="303.45" font-size="6.82" textLength="30.33" lengthAdjust="spacingAndGlyphs">20 (2.47%)</text>
<rect x="128" y="305.6" width="70.87" height="5.8" fill="#134f88"/>
<line x1="124.7" y1="308.5" x2="127.6" y2="308.5" stroke="#000" stroke-width="0.9"/>
<text x="121.4" y="311.1" font-size="6.6" text-anchor="end" textLength="66.04" lengthAdjust="spacingAndGlyphs">Apelin signaling pathway</text>
<text x="201.87" y="311.1" font-size="6.82" textLength="30.33" lengthAdjust="spacingAndGlyphs">19 (2.35%)</text>
<rect x="128" y="313.25" width="70.87" height="5.8" fill="#134f88"/>
<line x1="124.7" y1="316.15" x2="127.6" y2="316.15" stroke="#000" stroke-width="0.9"/>
<text x="121.4" y="318.75" font-size="6.6" text-anchor="end" textLength="61.02" lengthAdjust="spacingAndGlyphs">TNF signaling pathway</text>
<text x="201.87" y="318.75" font-size="6.82" textLength="30.33" lengthAdjust="spacingAndGlyphs">19 (2.35%)</text>
<rect x="128" y="320.9" width="70.87" height="5.8" fill="#134f88"/>
<line x1="124.7" y1="323.8" x2="127.6" y2="323.8" stroke="#000" stroke-width="0.9"/>
<text x="121.4" y="326.4" font-size="6.6" text-anchor="end" textLength="65.26" lengthAdjust="spacingAndGlyphs">cAMP signaling pathway</text>
<text x="201.87" y="326.4" font-size="6.82" textLength="30.33" lengthAdjust="spacingAndGlyphs">19 (2.35%)</text>
<rect x="128" y="328.55" width="70.87" height="5.8" fill="#134f88"/>
<line x1="124.7" y1="331.45" x2="127.6" y2="331.45" stroke="#000" stroke-width="0.9"/>
<text x="121.4" y="334.05" font-size="6.6" text-anchor="end" textLength="80.7" lengthAdjust="spacingAndGlyphs">cGMP-PKG signaling pathway</text>
<text x="201.87" y="334.05" font-size="6.82" textLength="30.33" lengthAdjust="spacingAndGlyphs">19 (2.35%)</text>
<rect x="128" y="336.2" width="70.87" height="5.8" fill="#134f88"/>
<line x1="124.7" y1="339.1" x2="127.6" y2="339.1" stroke="#000" stroke-width="0.9"/>
<text x="121.4" y="341.7" font-size="6.6" text-anchor="end" textLength="66.92" lengthAdjust="spacingAndGlyphs">mTOR signaling pathway</text>
<text x="201.87" y="341.7" font-size="6.82" textLength="30.33" lengthAdjust="spacingAndGlyphs">19 (2.35%)</text>
<line x1="127.6" y1="176.4" x2="127.6" y2="344.1" stroke="#000" stroke-width="1.2"/>
<line x1="127" y1="343.8" x2="311" y2="343.8" stroke="#000" stroke-width="1.2"/>
<text x="327.6" y="170.5" font-size="11.2" font-weight="bold" style="fill:#000;stroke:#000;stroke-width:0.45px">E</text>
<rect x="356.4" y="194.1" width="11.25" height="8.13" fill="#f76666"/>
<rect x="367.5" y="194.1" width="11.25" height="8.13" fill="#f87777"/>
<rect x="378.6" y="194.1" width="11.25" height="8.13" fill="#f99999"/>
<rect x="389.7" y="194.1" width="11.25" height="8.13" fill="#bbbbf9"/>
<rect x="400.8" y="194.1" width="11.25" height="8.13" fill="#6666f3"/>
<rect x="411.9" y="194.1" width="11.25" height="8.13" fill="#6666f3"/>
<rect x="356.4" y="202.08" width="11.25" height="8.13" fill="#f65555"/>
<rect x="367.5" y="202.08" width="11.25" height="8.13" fill="#f99999"/>
<rect x="378.6" y="202.08" width="11.25" height="8.13" fill="#faaaaa"/>
<rect x="389.7" y="202.08" width="11.25" height="8.13" fill="#ddddfc"/>
<rect x="400.8" y="202.08" width="11.25" height="8.13" fill="#3b3bf0"/>
<rect x="411.9" y="202.08" width="11.25" height="8.13" fill="#7777f4"/>
<rect x="356.4" y="210.06" width="11.25" height="8.13" fill="#f65555"/>
<rect x="367.5" y="210.06" width="11.25" height="8.13" fill="#fbbbbb"/>
<rect x="378.6" y="210.06" width="11.25" height="8.13" fill="#faaaaa"/>
<rect x="389.7" y="210.06" width="11.25" height="8.13" fill="#ddddfc"/>
<rect x="400.8" y="210.06" width="11.25" height="8.13" fill="#7777f4"/>
<rect x="411.9" y="210.06" width="11.25" height="8.13" fill="#4343f1"/>
<rect x="356.4" y="218.04" width="11.25" height="8.13" fill="#faaaaa"/>
<rect x="367.5" y="218.04" width="11.25" height="8.13" fill="#faaaaa"/>
<rect x="378.6" y="218.04" width="11.25" height="8.13" fill="#f54343"/>
<rect x="389.7" y="218.04" width="11.25" height="8.13" fill="#bbbbf9"/>
<rect x="400.8" y="218.04" width="11.25" height="8.13" fill="#7777f4"/>
<rect x="411.9" y="218.04" width="11.25" height="8.13" fill="#7777f4"/>
<rect x="356.4" y="226.02" width="11.25" height="8.13" fill="#f76666"/>
<rect x="367.5" y="226.02" width="11.25" height="8.13" fill="#f54343"/>
<rect x="378.6" y="226.02" width="11.25" height="8.13" fill="#ffffff"/>
<rect x="389.7" y="226.02" width="11.25" height="8.13" fill="#bbbbf9"/>
<rect x="400.8" y="226.02" width="11.25" height="8.13" fill="#6666f3"/>
<rect x="411.9" y="226.02" width="11.25" height="8.13" fill="#7777f4"/>
<rect x="356.4" y="234" width="11.25" height="8.13" fill="#f54343"/>
<rect x="367.5" y="234" width="11.25" height="8.13" fill="#f88888"/>
<rect x="378.6" y="234" width="11.25" height="8.13" fill="#bbbbf9"/>
<rect x="389.7" y="234" width="11.25" height="8.13" fill="#e5e5fd"/>
<rect x="400.8" y="234" width="11.25" height="8.13" fill="#7777f4"/>
<rect x="411.9" y="234" width="11.25" height="8.13" fill="#6666f3"/>
<rect x="356.4" y="241.98" width="11.25" height="8.13" fill="#e5e5fd"/>
<rect x="367.5" y="241.98" width="11.25" height="8.13" fill="#fde5e5"/>
<rect x="378.6" y="241.98" width="11.25" height="8.13" fill="#f20000"/>
<rect x="389.7" y="241.98" width="11.25" height="8.13" fill="#d4d4fb"/>
<rect x="400.8" y="241.98" width="11.25" height="8.13" fill="#8888f6"/>
<rect x="411.9" y="241.98" width="11.25" height="8.13" fill="#9999f7"/>
<rect x="356.4" y="249.96" width="11.25" height="8.13" fill="#d4d4fb"/>
<rect x="367.5" y="249.96" width="11.25" height="8.13" fill="#feeeee"/>
<rect x="378.6" y="249.96" width="11.25" height="8.13" fill="#f20000"/>
<rect x="389.7" y="249.96" width="11.25" height="8.13" fill="#ddddfc"/>
<rect x="400.8" y="249.96" width="11.25" height="8.13" fill="#8888f6"/>
<rect x="411.9" y="249.96" width="11.25" height="8.13" fill="#9999f7"/>
<rect x="356.4" y="257.94" width="11.25" height="8.13" fill="#e5e5fd"/>
<rect x="367.5" y="257.94" width="11.25" height="8.13" fill="#f54343"/>
<rect x="378.6" y="257.94" width="11.25" height="8.13" fill="#f88888"/>
<rect x="389.7" y="257.94" width="11.25" height="8.13" fill="#bbbbf9"/>
<rect x="400.8" y="257.94" width="11.25" height="8.13" fill="#4343f1"/>
<rect x="411.9" y="257.94" width="11.25" height="8.13" fill="#e5e5fd"/>
<rect x="356.4" y="265.92" width="11.25" height="8.13" fill="#9999f7"/>
<rect x="367.5" y="265.92" width="11.25" height="8.13" fill="#aaaaf8"/>
<rect x="378.6" y="265.92" width="11.25" height="8.13" fill="#6666f3"/>
<rect x="389.7" y="265.92" width="11.25" height="8.13" fill="#fbc3c3"/>
<rect x="400.8" y="265.92" width="11.25" height="8.13" fill="#f32222"/>
<rect x="411.9" y="265.92" width="11.25" height="8.13" fill="#fbc3c3"/>
<rect x="356.4" y="273.9" width="11.25" height="8.13" fill="#5555f2"/>
<rect x="367.5" y="273.9" width="11.25" height="8.13" fill="#8888f6"/>
<rect x="378.6" y="273.9" width="11.25" height="8.13" fill="#fef6f6"/>
<rect x="389.7" y="273.9" width="11.25" height="8.13" fill="#ffffff"/>
<rect x="400.8" y="273.9" width="11.25" height="8.13" fill="#f54343"/>
<rect x="411.9" y="273.9" width="11.25" height="8.13" fill="#f99999"/>
<rect x="356.4" y="281.88" width="11.25" height="8.13" fill="#5555f2"/>
<rect x="367.5" y="281.88" width="11.25" height="8.13" fill="#9999f7"/>
<rect x="378.6" y="281.88" width="11.25" height="8.13" fill="#c3c3fa"/>
<rect x="389.7" y="281.88" width="11.25" height="8.13" fill="#fccccc"/>
<rect x="400.8" y="281.88" width="11.25" height="8.13" fill="#f76666"/>
<rect x="411.9" y="281.88" width="11.25" height="8.13" fill="#f99090"/>
<rect x="356.4" y="289.86" width="11.25" height="8.13" fill="#6666f3"/>
<rect x="367.5" y="289.86" width="11.25" height="8.13" fill="#8888f6"/>
<rect x="378.6" y="289.86" width="11.25" height="8.13" fill="#ccccfb"/>
<rect x="389.7" y="289.86" width="11.25" height="8.13" fill="#fccccc"/>
<rect x="400.8" y="289.86" width="11.25" height="8.13" fill="#f54343"/>
<rect x="411.9" y="289.86" width="11.25" height="8.13" fill="#faaaaa"/>
<rect x="356.4" y="297.84" width="11.25" height="8.13" fill="#6e6ef4"/>
<rect x="367.5" y="297.84" width="11.25" height="8.13" fill="#7f7ff5"/>
<rect x="378.6" y="297.84" width="11.25" height="8.13" fill="#d4d4fb"/>
<rect x="389.7" y="297.84" width="11.25" height="8.13" fill="#fddddd"/>
<rect x="400.8" y="297.84" width="11.25" height="8.13" fill="#f54343"/>
<rect x="411.9" y="297.84" width="11.25" height="8.13" fill="#faa1a1"/>
<rect x="356.4" y="305.82" width="11.25" height="8.13" fill="#6e6ef4"/>
<rect x="367.5" y="305.82" width="11.25" height="8.13" fill="#7f7ff5"/>
<rect x="378.6" y="305.82" width="11.25" height="8.13" fill="#e5e5fd"/>
<rect x="389.7" y="305.82" width="11.25" height="8.13" fill="#fccccc"/>
<rect x="400.8" y="305.82" width="11.25" height="8.13" fill="#ffffff"/>
<rect x="411.9" y="305.82" width="11.25" height="8.13" fill="#f32222"/>
<rect x="356.4" y="313.8" width="11.25" height="8.13" fill="#a1a1f8"/>
<rect x="367.5" y="313.8" width="11.25" height="8.13" fill="#7f7ff5"/>
<rect x="378.6" y="313.8" width="11.25" height="8.13" fill="#8888f6"/>
<rect x="389.7" y="313.8" width="11.25" height="8.13" fill="#feeeee"/>
<rect x="400.8" y="313.8" width="11.25" height="8.13" fill="#f87777"/>
<rect x="411.9" y="313.8" width="11.25" height="8.13" fill="#f65d5d"/>
<rect x="356.4" y="321.78" width="11.25" height="8.13" fill="#7777f4"/>
<rect x="367.5" y="321.78" width="11.25" height="8.13" fill="#a1a1f8"/>
<rect x="378.6" y="321.78" width="11.25" height="8.13" fill="#8888f6"/>
<rect x="389.7" y="321.78" width="11.25" height="8.13" fill="#faa1a1"/>
<rect x="400.8" y="321.78" width="11.25" height="8.13" fill="#fbb2b2"/>
<rect x="411.9" y="321.78" width="11.25" height="8.13" fill="#f65555"/>
<rect x="356.4" y="329.76" width="11.25" height="8.13" fill="#7777f4"/>
<rect x="367.5" y="329.76" width="11.25" height="8.13" fill="#a1a1f8"/>
<rect x="378.6" y="329.76" width="11.25" height="8.13" fill="#8888f6"/>
<rect x="389.7" y="329.76" width="11.25" height="8.13" fill="#faa1a1"/>
<rect x="400.8" y="329.76" width="11.25" height="8.13" fill="#fbb2b2"/>
<rect x="411.9" y="329.76" width="11.25" height="8.13" fill="#f65555"/>
<rect x="356.4" y="337.74" width="11.25" height="8.13" fill="#5555f2"/>
<rect x="367.5" y="337.74" width="11.25" height="8.13" fill="#b2b2f9"/>
<rect x="378.6" y="337.74" width="11.25" height="8.13" fill="#aaaaf8"/>
<rect x="389.7" y="337.74" width="11.25" height="8.13" fill="#fcd4d4"/>
<rect x="400.8" y="337.74" width="11.25" height="8.13" fill="#faa1a1"/>
<rect x="411.9" y="337.74" width="11.25" height="8.13" fill="#f43333"/>
<rect x="356.4" y="345.72" width="11.25" height="8.13" fill="#5555f2"/>
<rect x="367.5" y="345.72" width="11.25" height="8.13" fill="#b2b2f9"/>
<rect x="378.6" y="345.72" width="11.25" height="8.13" fill="#9999f7"/>
<rect x="389.7" y="345.72" width="11.25" height="8.13" fill="#fddddd"/>
<rect x="400.8" y="345.72" width="11.25" height="8.13" fill="#f99999"/>
<rect x="411.9" y="345.72" width="11.25" height="8.13" fill="#f54343"/>
<rect x="356.4" y="189.3" width="33.3" height="3.4" fill="#1ec8cc"/>
<rect x="389.7" y="189.3" width="33.3" height="3.4" fill="#f4857e"/>
<text x="426.4" y="200.09" font-size="5.35" textLength="9.3" lengthAdjust="spacingAndGlyphs">FAS</text>
<text x="426.4" y="208.07" font-size="5.35" textLength="21.33" lengthAdjust="spacingAndGlyphs">TNFSF10</text>
<text x="426.4" y="216.05" font-size="5.35" textLength="16.69" lengthAdjust="spacingAndGlyphs">MAPK3</text>
<text x="426.4" y="224.03" font-size="5.35" textLength="15.86" lengthAdjust="spacingAndGlyphs">TUBA8</text>
<text x="426.4" y="232.01" font-size="5.35" textLength="13.95" lengthAdjust="spacingAndGlyphs">ITPR3</text>
<text x="426.4" y="239.99" font-size="5.35" textLength="19.15" lengthAdjust="spacingAndGlyphs">TUBA4A</text>
<text x="426.4" y="247.97" font-size="5.35" textLength="15.59" lengthAdjust="spacingAndGlyphs">TRAF1</text>
<text x="426.4" y="255.95" font-size="5.35" textLength="13.4" lengthAdjust="spacingAndGlyphs">CTSH</text>
<text x="426.4" y="263.93" font-size="5.35" textLength="16.14" lengthAdjust="spacingAndGlyphs">CFLAR</text>
<text x="426.4" y="271.91" font-size="5.35" textLength="13.4" lengthAdjust="spacingAndGlyphs">ENSA</text>
<text x="426.4" y="279.89" font-size="5.35" textLength="13.13" lengthAdjust="spacingAndGlyphs">MCL1</text>
<text x="426.4" y="287.87" font-size="5.35" textLength="16.41" lengthAdjust="spacingAndGlyphs">CAPN2</text>
<text x="426.4" y="295.85" font-size="5.35" textLength="9.57" lengthAdjust="spacingAndGlyphs">TNF</text>
<text x="426.4" y="303.83" font-size="5.35" textLength="18.33" lengthAdjust="spacingAndGlyphs">BCL2A1</text>
<text x="426.4" y="311.81" font-size="5.35" textLength="13.13" lengthAdjust="spacingAndGlyphs">ERN1</text>
<text x="426.4" y="319.79" font-size="5.35" textLength="12.31" lengthAdjust="spacingAndGlyphs">AKT3</text>
<text x="426.4" y="327.77" font-size="5.35" textLength="15.78" lengthAdjust="spacingAndGlyphs">PARP3</text>
<text x="426.4" y="335.75" font-size="5.35" textLength="14.5" lengthAdjust="spacingAndGlyphs">BIRC3</text>
<text x="426.4" y="343.73" font-size="5.35" textLength="19.42" lengthAdjust="spacingAndGlyphs">MAP3K5</text>
<text x="426.4" y="351.71" font-size="5.35" textLength="13.13" lengthAdjust="spacingAndGlyphs">CTSS</text>
<text x="426.4" y="193" font-size="5.35" textLength="13.68" lengthAdjust="spacingAndGlyphs">Group</text>
<path d="M361.95 189.3 V184.5 H373.05 V189.3 M367.5 184.5 V180.4 H384.15 V189.3 M406.35 189.3 V183.6 H417.45 V189.3 M395.25 189.3 V182.6 H411.9 V183.6 M375.82 180.4 V171.9 H403.57 V182.6" fill="none" stroke="#555" stroke-width="0.7"/>
<path d="M356 206.07 H354.6 V214.05 H356 M356 198.09 H353.4 V210.06 H354.6 M353.4 204.07 H352 V222.03 H356 M356 230.01 H354.2 V237.99 H356 M352 213.05 H347.9 V234 H354.2 M356 245.97 H355 V253.95 H356 M355 249.96 H349.7 V261.93 H356 M347.9 223.53 H344.4 V255.94 H349.7 M356 277.89 H354 V285.87 H356 M356 293.85 H354.5 V301.83 H356 M354 281.88 H352.6 V297.84 H354.5 M356 269.91 H350.4 V289.86 H352.6 M356 325.77 H355 V333.75 H356 M356 341.73 H354.6 V349.71 H356 M355 329.76 H353.3 V345.72 H354.6 M356 309.81 H353.8 V317.79 H356 M353.8 313.8 H351 V337.74 H353.3 M350.4 279.88 H347.4 V325.77 H351 M344.4 239.74 H338.6 V302.83 H347.4" fill="none" stroke="#555" stroke-width="0.7"/>
<text x="363.85" y="356.6" font-size="5.94" text-anchor="end" textLength="30.6" lengthAdjust="spacingAndGlyphs" transform="rotate(-90 363.85 356.6)">MOLM-13(2)</text>
<text x="374.95" y="356.6" font-size="5.94" text-anchor="end" textLength="30.6" lengthAdjust="spacingAndGlyphs" transform="rotate(-90 374.95 356.6)">MOLM-13(1)</text>
<text x="386.05" y="356.6" font-size="5.94" text-anchor="end" textLength="30.6" lengthAdjust="spacingAndGlyphs" transform="rotate(-90 386.05 356.6)">MOLM-13(3)</text>
<text x="397.15" y="356.6" font-size="5.94" text-anchor="end" textLength="43.21" lengthAdjust="spacingAndGlyphs" transform="rotate(-90 397.15 356.6)">MOLM-13/VEN(2)</text>
<text x="408.25" y="356.6" font-size="5.94" text-anchor="end" textLength="43.21" lengthAdjust="spacingAndGlyphs" transform="rotate(-90 408.25 356.6)">MOLM-13/VEN(3)</text>
<text x="419.35" y="356.6" font-size="5.94" text-anchor="end" textLength="43.21" lengthAdjust="spacingAndGlyphs" transform="rotate(-90 419.35 356.6)">MOLM-13/VEN(1)</text>
<defs><linearGradient id="cg" x1="0" y1="0" x2="0" y2="1"><stop offset="0" stop-color="#cc0a22"/><stop offset="0.5" stop-color="#ffffff"/><stop offset="1" stop-color="#0808c4"/></linearGradient></defs>
<rect x="454.2" y="188.6" width="2.9" height="47.3" fill="url(#cg)"/>
<text x="458.6" y="195.8" font-size="5.94" textLength="7.51" lengthAdjust="spacingAndGlyphs">1.5</text>
<text x="458.6" y="202.05" font-size="5.94" textLength="3" lengthAdjust="spacingAndGlyphs">1</text>
<text x="458.6" y="208.3" font-size="5.94" textLength="7.51" lengthAdjust="spacingAndGlyphs">0.5</text>
<text x="458.6" y="214.55" font-size="5.94" textLength="3" lengthAdjust="spacingAndGlyphs">0</text>
<text x="458.6" y="220.8" font-size="5.94" textLength="10.66" lengthAdjust="spacingAndGlyphs">−0.5</text>
<text x="458.6" y="227.05" font-size="5.94" textLength="6.16" lengthAdjust="spacingAndGlyphs">−1</text>
<text x="458.6" y="233.3" font-size="5.94" textLength="10.66" lengthAdjust="spacingAndGlyphs">−1.5</text>
<text x="474.6" y="186.8" font-size="6.16" textLength="15.56" lengthAdjust="spacingAndGlyphs">Group</text>
<rect x="474.8" y="188.8" width="5.8" height="5.6" fill="#1ec8cc"/>
<rect x="474.8" y="194.4" width="5.8" height="5.6" fill="#f4857e"/>
<text x="483.4" y="193.6" font-size="5.94" textLength="3.6" lengthAdjust="spacingAndGlyphs">A</text>
<text x="483.4" y="199.9" font-size="5.94" textLength="3.6" lengthAdjust="spacingAndGlyphs">B</text>
<text x="7.4" y="410.5" font-size="11.2" font-weight="bold" style="fill:#000;stroke:#000;stroke-width:0.45px">F</text>
<defs><filter id="bl" x="-50%" y="-50%" width="200%" height="200%"><feGaussianBlur stdDeviation="0.6"/></filter><filter id="bl2" x="-50%" y="-50%" width="200%" height="200%"><feGaussianBlur stdDeviation="1.0"/></filter></defs>
<text x="38" y="442.4" font-size="6.49" textLength="26.23" lengthAdjust="spacingAndGlyphs" transform="rotate(-45 38 442.4)">MOLM-13</text>
<text x="49.4" y="442.8" font-size="6.6" textLength="40.67" lengthAdjust="spacingAndGlyphs" transform="rotate(-45 49.4 442.8)">MOLM-13/VEN</text>
<rect x="30.4" y="446.8" width="23" height="9.2" fill="#fff" stroke="#000" stroke-width="1.6"/>
<rect x="30.4" y="458.7" width="23" height="9.4" fill="#fff" stroke="#000" stroke-width="1.6"/>
<rect x="30.4" y="470.6" width="23" height="12.1" fill="#fff" stroke="#000" stroke-width="1.6"/>
<rect x="30.4" y="485.4" width="23" height="24.9" fill="#fff" stroke="#000" stroke-width="1.6"/>
<rect x="30.4" y="513" width="23" height="8.9" fill="#fff" stroke="#000" stroke-width="1.6"/>
<rect x="30.4" y="524.6" width="23" height="8.9" fill="#fff" stroke="#000" stroke-width="1.6"/>
<text x="27.8" y="453.8" font-size="6.71" text-anchor="end" textLength="16.95" lengthAdjust="spacingAndGlyphs">Bcl-xL</text>
<text x="27.8" y="467.1" font-size="6.71" text-anchor="end" textLength="13.9" lengthAdjust="spacingAndGlyphs">Bcl-2</text>
<text x="27.8" y="479.6" font-size="6.71" text-anchor="end" textLength="14.91" lengthAdjust="spacingAndGlyphs">Mcl-1</text>
<text x="24.4" y="494.0" font-size="5.8" text-anchor="end" fill="#222">Bim</text>
<text x="24.6" y="495.6" font-size="3.74" textLength="4.16" lengthAdjust="spacingAndGlyphs">EL</text>
<text x="23.6" y="505.2" font-size="5.8" text-anchor="end" fill="#222">Bim</text>
<text x="23.8" y="506.8" font-size="3.74" textLength="5.1" lengthAdjust="spacingAndGlyphs">L/S</text>
<text x="27.8" y="519.6" font-size="6.71" text-anchor="end" textLength="17.29" lengthAdjust="spacingAndGlyphs">NOXA</text>
<text x="27.8" y="530.3" font-size="6.71" text-anchor="end" textLength="18.42" lengthAdjust="spacingAndGlyphs">β-actin</text>
<ellipse cx="42.2" cy="451.1" rx="8.5" ry="1.8" fill="#b4b4b4" filter="url(#bl)"/>
<ellipse cx="38.5" cy="451.1" rx="2.75" ry="1.5" fill="#7a7a7a" filter="url(#bl)"/>
<ellipse cx="48.6" cy="451.1" rx="2.75" ry="1.5" fill="#7a7a7a" filter="url(#bl)"/>
<ellipse cx="37" cy="463.1" rx="3.9" ry="1.9" fill="#000" filter="url(#bl)"/>
<ellipse cx="47.3" cy="463.1" rx="3.9" ry="1.8" fill="#111" filter="url(#bl)"/>
<ellipse cx="36.6" cy="476.5" rx="3.2" ry="0.8" fill="#222" filter="url(#bl)"/>
<ellipse cx="47" cy="476.6" rx="4" ry="1.5" fill="#000" filter="url(#bl)"/>
<rect x="32" y="496" width="20" height="13.5" fill="#f3f3f3" filter="url(#bl2)"/>
<ellipse cx="36.4" cy="490.5" rx="3.1" ry="1.1" fill="#333" filter="url(#bl)"/>
<ellipse cx="46.7" cy="490.5" rx="4.3" ry="1.8" fill="#000" filter="url(#bl)"/>
<ellipse cx="46.3" cy="503.2" rx="2.5" ry="1.2" fill="#d8d8d8" filter="url(#bl)"/>
<ellipse cx="35.9" cy="507.8" rx="2.1" ry="0.7" fill="#999" filter="url(#bl)"/>
<ellipse cx="45" cy="508" rx="1.5" ry="0.5" fill="#c8c8c8" filter="url(#bl)"/>
<ellipse cx="42" cy="517.6" rx="9" ry="2.2" fill="#e2e2e2" filter="url(#bl)"/>
<ellipse cx="38.6" cy="517.6" rx="3" ry="1.7" fill="#d8d8d8" filter="url(#bl)"/>
<ellipse cx="47.2" cy="517.6" rx="3.5" ry="1.8" fill="#cdcdcd" filter="url(#bl)"/>
<ellipse cx="37.3" cy="529.1" rx="4.7" ry="1.9" fill="#000" filter="url(#bl)"/>
<ellipse cx="46.8" cy="529.1" rx="4.7" ry="1.9" fill="#000" filter="url(#bl)"/>
<line x1="88.6" y1="450.4" x2="88.6" y2="527.4" stroke="#000" stroke-width="1.2"/>
<line x1="85.8" y1="526.9" x2="88.6" y2="526.9" stroke="#000" stroke-width="1.1"/>
<text x="85.4" y="529.4" font-size="6.6" text-anchor="end" textLength="3.34" lengthAdjust="spacingAndGlyphs">0</text>
<line x1="85.8" y1="502.7" x2="88.6" y2="502.7" stroke="#000" stroke-width="1.1"/>
<text x="85.4" y="505.2" font-size="6.6" text-anchor="end" textLength="3.34" lengthAdjust="spacingAndGlyphs">1</text>
<line x1="85.8" y1="478.5" x2="88.6" y2="478.5" stroke="#000" stroke-width="1.1"/>
<text x="85.4" y="481" font-size="6.6" text-anchor="end" textLength="3.34" lengthAdjust="spacingAndGlyphs">2</text>
<line x1="85.8" y1="454.3" x2="88.6" y2="454.3" stroke="#000" stroke-width="1.1"/>
<text x="85.4" y="456.8" font-size="6.6" text-anchor="end" textLength="3.34" lengthAdjust="spacingAndGlyphs">3</text>
<line x1="88.6" y1="526.9" x2="165" y2="526.9" stroke="#000" stroke-width="1.2"/>
<text x="77" y="488.7" font-size="7.8" text-anchor="middle" font-weight="bold" textLength="79.4" lengthAdjust="spacingAndGlyphs" transform="rotate(-90 77 488.7)">Relative expression of proteins</text>
<line x1="107.25" y1="504.64" x2="107.25" y2="503.43" stroke="#d03050" stroke-width="0.8"/>
<line x1="106.25" y1="503.43" x2="108.25" y2="503.43" stroke="#d03050" stroke-width="0.8"/>
<rect x="95.2" y="502.7" width="6" height="24.2" fill="#134f88"/>
<rect x="104.2" y="504.64" width="6" height="22.26" fill="#c8102e"/>
<line x1="102.8" y1="526.9" x2="102.8" y2="529.4" stroke="#000" stroke-width="1"/>
<text x="102.8" y="538.2" font-size="6.82" text-anchor="middle" textLength="14.13" lengthAdjust="spacingAndGlyphs">Bcl-2</text>
<line x1="132.6" y1="503.91" x2="132.6" y2="497.38" stroke="#d03050" stroke-width="0.8"/>
<line x1="131.6" y1="497.38" x2="133.6" y2="497.38" stroke="#d03050" stroke-width="0.8"/>
<rect x="120.55" y="502.7" width="6" height="24.2" fill="#134f88"/>
<rect x="129.55" y="503.91" width="6" height="22.99" fill="#c8102e"/>
<line x1="128.15" y1="526.9" x2="128.15" y2="529.4" stroke="#000" stroke-width="1"/>
<text x="128.15" y="538.2" font-size="6.82" text-anchor="middle" textLength="17.23" lengthAdjust="spacingAndGlyphs">Bcl-xL</text>
<line x1="157.95" y1="472.45" x2="157.95" y2="468.58" stroke="#d03050" stroke-width="0.8"/>
<line x1="156.95" y1="468.58" x2="158.95" y2="468.58" stroke="#d03050" stroke-width="0.8"/>
<rect x="145.9" y="502.7" width="6" height="24.2" fill="#134f88"/>
<rect x="154.9" y="472.45" width="6" height="54.45" fill="#c8102e"/>
<line x1="153.5" y1="526.9" x2="153.5" y2="529.4" stroke="#000" stroke-width="1"/>
<text x="153.5" y="538.2" font-size="6.82" text-anchor="middle" textLength="15.15" lengthAdjust="spacingAndGlyphs">Mcl-1</text>
<text x="158.1" y="467.6" font-size="5.94" text-anchor="middle" textLength="6.31" lengthAdjust="spacingAndGlyphs">***</text>
<rect x="94.9" y="436.8" width="6.8" height="3.8" fill="#134f88"/>
<rect x="94.9" y="443.8" width="6.8" height="3.8" fill="#c8102e"/>
<text x="104.4" y="440.8" font-size="6.82" textLength="27.56" lengthAdjust="spacingAndGlyphs">MOLM-13</text>
<text x="104.4" y="447.8" font-size="6.82" textLength="42.03" lengthAdjust="spacingAndGlyphs">MOLM-13/VEN</text>
<text x="179.8" y="410.3" font-size="11.2" font-weight="bold" style="fill:#000;stroke:#000;stroke-width:0.45px">G</text>
<text x="269.8" y="417.2" font-size="6.71" text-anchor="middle" textLength="41.35" lengthAdjust="spacingAndGlyphs">MOLM-13/VEN</text>
<text x="254.4" y="426.4" font-size="5.94" text-anchor="middle" textLength="23.81" lengthAdjust="spacingAndGlyphs">VEN (μM)</text>
<text x="288.2" y="426.4" font-size="5.94" text-anchor="middle" textLength="19.31" lengthAdjust="spacingAndGlyphs">A1 (μM)</text>
<line x1="240" y1="428.7" x2="268.8" y2="428.7" stroke="#333" stroke-width="0.9"/>
<line x1="274" y1="428.7" x2="302.6" y2="428.7" stroke="#333" stroke-width="0.9"/>
<text x="235.4" y="436.6" font-size="5.5" text-anchor="middle" textLength="2.78" lengthAdjust="spacingAndGlyphs">0</text>
<text x="244.9" y="436.6" font-size="5.5" text-anchor="middle" textLength="6.95" lengthAdjust="spacingAndGlyphs">0.2</text>
<text x="255.1" y="436.6" font-size="5.5" text-anchor="middle" textLength="6.95" lengthAdjust="spacingAndGlyphs">0.4</text>
<text x="265.7" y="436.6" font-size="5.5" text-anchor="middle" textLength="6.95" lengthAdjust="spacingAndGlyphs">0.8</text>
<text x="276.2" y="436.6" font-size="5.5" text-anchor="middle" textLength="6.95" lengthAdjust="spacingAndGlyphs">0.2</text>
<text x="288.2" y="436.6" font-size="5.5" text-anchor="middle" textLength="6.95" lengthAdjust="spacingAndGlyphs">0.4</text>
<text x="299.2" y="436.6" font-size="5.5" text-anchor="middle" textLength="6.95" lengthAdjust="spacingAndGlyphs">0.8</text>
<rect x="231.4" y="438.5" width="75.3" height="12.5" fill="#fff" stroke="#000" stroke-width="1.6"/>
<rect x="231.4" y="453.3" width="75.3" height="13" fill="#fff" stroke="#000" stroke-width="1.6"/>
<rect x="231.4" y="469.4" width="75.3" height="12" fill="#fff" stroke="#000" stroke-width="1.6"/>
<rect x="231.4" y="484.3" width="75.3" height="24.3" fill="#fff" stroke="#000" stroke-width="1.6"/>
<rect x="231.4" y="511.4" width="75.3" height="10.3" fill="#fff" stroke="#000" stroke-width="1.6"/>
<rect x="231.4" y="524.1" width="75.3" height="9" fill="#fff" stroke="#000" stroke-width="1.6"/>
<text x="228" y="446" font-size="6.82" text-anchor="end" textLength="16.42" lengthAdjust="spacingAndGlyphs">PARP</text>
<text x="228" y="453.8" font-size="6.71" text-anchor="end" textLength="40.57" lengthAdjust="spacingAndGlyphs">Cleaved-PARP</text>
<text x="228" y="464.6" font-size="6.93" text-anchor="end" textLength="14.35" lengthAdjust="spacingAndGlyphs">Bcl-2</text>
<text x="228" y="479.8" font-size="6.93" text-anchor="end" textLength="15.4" lengthAdjust="spacingAndGlyphs">Mcl-1</text>
<text x="223.4" y="492.2" font-size="6.3" text-anchor="end" fill="#222">Bim</text>
<text x="223.6" y="493.8" font-size="3.96" textLength="4.4" lengthAdjust="spacingAndGlyphs">EL</text>
<text x="222.6" y="505.8" font-size="6.3" text-anchor="end" fill="#222">Bim</text>
<text x="222.8" y="507.4" font-size="3.96" textLength="5.4" lengthAdjust="spacingAndGlyphs">L/S</text>
<text x="228" y="520.8" font-size="6.93" text-anchor="end" textLength="17.85" lengthAdjust="spacingAndGlyphs">NOXA</text>
<text x="228" y="531.5" font-size="6.93" text-anchor="end" textLength="19.03" lengthAdjust="spacingAndGlyphs">β-actin</text>
<ellipse cx="238" cy="443.1" rx="4" ry="0.95" fill="#3c3c3c" filter="url(#bl)"/>
<ellipse cx="238" cy="446.2" rx="4" ry="0.9" fill="#5c5c5c" filter="url(#bl)"/>
<ellipse cx="248.3" cy="443.1" rx="4" ry="0.95" fill="#3c3c3c" filter="url(#bl)"/>
<ellipse cx="248.3" cy="446.2" rx="4" ry="0.9" fill="#5c5c5c" filter="url(#bl)"/>
<ellipse cx="258.6" cy="443.1" rx="4" ry="0.95" fill="#3c3c3c" filter="url(#bl)"/>
<ellipse cx="258.6" cy="446.2" rx="4" ry="0.9" fill="#5c5c5c" filter="url(#bl)"/>
<ellipse cx="268.9" cy="443.1" rx="4" ry="0.95" fill="#3c3c3c" filter="url(#bl)"/>
<ellipse cx="268.9" cy="446.2" rx="4" ry="0.9" fill="#5c5c5c" filter="url(#bl)"/>
<ellipse cx="279.2" cy="443.1" rx="4" ry="0.95" fill="#3c3c3c" filter="url(#bl)"/>
<ellipse cx="279.2" cy="446.2" rx="4" ry="0.9" fill="#5c5c5c" filter="url(#bl)"/>
<ellipse cx="289.5" cy="443" rx="3.5" ry="0.7" fill="#999" filter="url(#bl)"/>
<ellipse cx="289.5" cy="446.9" rx="4.2" ry="1.4" fill="#000" filter="url(#bl)"/>
<ellipse cx="299.8" cy="442.8" rx="3.5" ry="0.6" fill="#ccc" filter="url(#bl)"/>
<ellipse cx="299.8" cy="446.5" rx="5" ry="2.1" fill="#000" filter="url(#bl)"/>
<ellipse cx="238" cy="460.2" rx="5.3" ry="1.9" fill="#000" filter="url(#bl)"/>
<ellipse cx="248.3" cy="460.2" rx="5.3" ry="1.9" fill="#000" filter="url(#bl)"/>
<ellipse cx="258.6" cy="460.2" rx="5.3" ry="1.9" fill="#000" filter="url(#bl)"/>
<ellipse cx="268.9" cy="460.2" rx="5.3" ry="1.9" fill="#000" filter="url(#bl)"/>
<ellipse cx="279.2" cy="460.2" rx="5.3" ry="1.9" fill="#000" filter="url(#bl)"/>
<ellipse cx="289.5" cy="460.2" rx="5.3" ry="1.9" fill="#000" filter="url(#bl)"/>
<ellipse cx="299.8" cy="460.2" rx="5.3" ry="1.9" fill="#000" filter="url(#bl)"/>
<ellipse cx="238" cy="476" rx="4.75" ry="1.5" fill="#000" filter="url(#bl)"/>
<ellipse cx="248.3" cy="476" rx="5" ry="1.8" fill="#000" filter="url(#bl)"/>
<ellipse cx="258.6" cy="476" rx="5" ry="1.9" fill="#000" filter="url(#bl)"/>
<ellipse cx="268.9" cy="476" rx="4.75" ry="1.6" fill="#000" filter="url(#bl)"/>
<ellipse cx="279.2" cy="476" rx="4.25" ry="1.5" fill="#080808" filter="url(#bl)"/>
<ellipse cx="289.5" cy="476" rx="3.75" ry="1" fill="#777" filter="url(#bl)"/>
<ellipse cx="299.8" cy="476" rx="3" ry="0.8" fill="#e4e4e4" filter="url(#bl)"/>
<rect x="233" y="494" width="72" height="13" fill="#f2f2f2" filter="url(#bl2)"/>
<ellipse cx="238" cy="488.3" rx="5.4" ry="2.3" fill="#000" filter="url(#bl)"/>
<ellipse cx="238" cy="498.2" rx="4.5" ry="1.5" fill="#444" filter="url(#bl)"/>
<ellipse cx="238" cy="503.2" rx="4.5" ry="1.6" fill="#999" filter="url(#bl)"/>
<ellipse cx="248.3" cy="488.3" rx="5.4" ry="2.3" fill="#000" filter="url(#bl)"/>
<ellipse cx="248.3" cy="498.2" rx="4.5" ry="1.5" fill="#383838" filter="url(#bl)"/>
<ellipse cx="248.3" cy="503.2" rx="4.5" ry="1.6" fill="#777" filter="url(#bl)"/>
<ellipse cx="258.6" cy="488.3" rx="5.4" ry="2.3" fill="#000" filter="url(#bl)"/>
<ellipse cx="258.6" cy="498.2" rx="4.5" ry="1.5" fill="#222" filter="url(#bl)"/>
<ellipse cx="258.6" cy="503.2" rx="4.5" ry="1.6" fill="#4a4a4a" filter="url(#bl)"/>
<ellipse cx="268.9" cy="488.3" rx="5.4" ry="2.3" fill="#000" filter="url(#bl)"/>
<ellipse cx="268.9" cy="498.2" rx="4.5" ry="1.5" fill="#2a2a2a" filter="url(#bl)"/>
<ellipse cx="268.9" cy="503.2" rx="4.5" ry="1.6" fill="#4a4a4a" filter="url(#bl)"/>
<ellipse cx="279.2" cy="488.3" rx="5.4" ry="2.3" fill="#000" filter="url(#bl)"/>
<ellipse cx="279.2" cy="498.2" rx="4.5" ry="1.5" fill="#282828" filter="url(#bl)"/>
<ellipse cx="279.2" cy="503.2" rx="4.5" ry="1.6" fill="#666" filter="url(#bl)"/>
<ellipse cx="289.5" cy="488.3" rx="5.4" ry="2.3" fill="#000" filter="url(#bl)"/>
<ellipse cx="289.5" cy="498.2" rx="4.5" ry="1.5" fill="#383838" filter="url(#bl)"/>
<ellipse cx="289.5" cy="503.2" rx="4.5" ry="1.6" fill="#888" filter="url(#bl)"/>
<ellipse cx="299.8" cy="488.3" rx="5.4" ry="2.3" fill="#000" filter="url(#bl)"/>
<ellipse cx="299.8" cy="498.2" rx="4.5" ry="1.5" fill="#181818" filter="url(#bl)"/>
<ellipse cx="299.8" cy="503.2" rx="4.5" ry="1.6" fill="#555" filter="url(#bl)"/>
<ellipse cx="282" cy="516.8" rx="1.5" ry="0.8" fill="#444" filter="url(#bl)"/>
<ellipse cx="236.8" cy="516.9" rx="2.5" ry="1.1" fill="#222" filter="url(#bl)"/>
<ellipse cx="248.3" cy="516.9" rx="3.5" ry="0.8" fill="#d0d0d0" filter="url(#bl)"/>
<ellipse cx="257.4" cy="516.9" rx="2" ry="1.1" fill="#222" filter="url(#bl)"/>
<ellipse cx="268.4" cy="516.9" rx="3" ry="0.9" fill="#bbb" filter="url(#bl)"/>
<ellipse cx="276.7" cy="516.9" rx="2.5" ry="0.75" fill="#d8d8d8" filter="url(#bl)"/>
<ellipse cx="289.5" cy="515.9" rx="5.25" ry="1.6" fill="#000" filter="url(#bl)"/>
<ellipse cx="299.8" cy="516.6" rx="5.25" ry="1.7" fill="#000" filter="url(#bl)"/>
<ellipse cx="238" cy="528.7" rx="5.3" ry="1.9" fill="#000" filter="url(#bl)"/>
<ellipse cx="248.3" cy="528.7" rx="5.3" ry="1.9" fill="#000" filter="url(#bl)"/>
<ellipse cx="258.6" cy="528.7" rx="5.3" ry="1.9" fill="#000" filter="url(#bl)"/>
<ellipse cx="268.9" cy="528.7" rx="5.3" ry="1.9" fill="#000" filter="url(#bl)"/>
<ellipse cx="279.2" cy="528.7" rx="5.3" ry="1.9" fill="#000" filter="url(#bl)"/>
<ellipse cx="289.5" cy="528.7" rx="5.3" ry="1.9" fill="#000" filter="url(#bl)"/>
<ellipse cx="299.8" cy="528.7" rx="5.3" ry="1.9" fill="#000" filter="url(#bl)"/>
<line x1="350.3" y1="438.6" x2="350.3" y2="527.1" stroke="#000" stroke-width="1.2"/>
<line x1="347.5" y1="526.6" x2="350.3" y2="526.6" stroke="#000" stroke-width="1.1"/>
<text x="346.4" y="528.7" font-size="6.6" text-anchor="end" textLength="8.34" lengthAdjust="spacingAndGlyphs">0.0</text>
<line x1="347.5" y1="500.2" x2="350.3" y2="500.2" stroke="#000" stroke-width="1.1"/>
<text x="346.4" y="502.3" font-size="6.6" text-anchor="end" textLength="8.34" lengthAdjust="spacingAndGlyphs">0.5</text>
<line x1="347.5" y1="473.8" x2="350.3" y2="473.8" stroke="#000" stroke-width="1.1"/>
<text x="346.4" y="475.9" font-size="6.6" text-anchor="end" textLength="8.34" lengthAdjust="spacingAndGlyphs">1.0</text>
<line x1="347.5" y1="447.4" x2="350.3" y2="447.4" stroke="#000" stroke-width="1.1"/>
<text x="346.4" y="449.5" font-size="6.6" text-anchor="end" textLength="8.34" lengthAdjust="spacingAndGlyphs">1.5</text>
<line x1="350.3" y1="526.6" x2="410.4" y2="526.6" stroke="#000" stroke-width="1.2"/>
<text x="329.9" y="488.6" font-size="7.9" text-anchor="middle" font-weight="bold" textLength="102" lengthAdjust="spacingAndGlyphs" transform="rotate(-90 329.9 488.6)">Relative expression of Mcl-1 (% of Con)</text>
<rect x="353.1" y="474.59" width="4.8" height="52.01" fill="#c8102e"/>
<line x1="355.5" y1="526.6" x2="355.5" y2="529" stroke="#000" stroke-width="1"/>
<text x="357.4" y="532.8" font-size="5.5" text-anchor="end" textLength="11.1" lengthAdjust="spacingAndGlyphs" transform="rotate(-90 357.4 532.8)">Con</text>
<line x1="363.83" y1="469.58" x2="363.83" y2="463.77" stroke="#d03050" stroke-width="0.8"/>
<line x1="362.83" y1="463.77" x2="364.83" y2="463.77" stroke="#d03050" stroke-width="0.8"/>
<rect x="361.43" y="469.58" width="4.8" height="57.02" fill="#c8102e"/>
<line x1="363.83" y1="526.6" x2="363.83" y2="529" stroke="#000" stroke-width="1"/>
<text x="365.73" y="532.8" font-size="5.5" text-anchor="end" textLength="22.53" lengthAdjust="spacingAndGlyphs" transform="rotate(-90 365.73 532.8)">VEN 0.2</text>
<line x1="372.16" y1="467.46" x2="372.16" y2="460.6" stroke="#d03050" stroke-width="0.8"/>
<line x1="371.16" y1="460.6" x2="373.16" y2="460.6" stroke="#d03050" stroke-width="0.8"/>
<rect x="369.76" y="467.46" width="4.8" height="59.14" fill="#c8102e"/>
<line x1="372.16" y1="526.6" x2="372.16" y2="529" stroke="#000" stroke-width="1"/>
<text x="374.06" y="532.8" font-size="5.5" text-anchor="end" textLength="22.53" lengthAdjust="spacingAndGlyphs" transform="rotate(-90 374.06 532.8)">VEN 0.4</text>
<line x1="380.49" y1="467.46" x2="380.49" y2="463.77" stroke="#d03050" stroke-width="0.8"/>
<line x1="379.49" y1="463.77" x2="381.49" y2="463.77" stroke="#d03050" stroke-width="0.8"/>
<rect x="378.09" y="467.46" width="4.8" height="59.14" fill="#c8102e"/>
<line x1="380.49" y1="526.6" x2="380.49" y2="529" stroke="#000" stroke-width="1"/>
<text x="382.39" y="532.8" font-size="5.5" text-anchor="end" textLength="22.53" lengthAdjust="spacingAndGlyphs" transform="rotate(-90 382.39 532.8)">VEN 0.8</text>
<line x1="388.82" y1="469.58" x2="388.82" y2="458.49" stroke="#d03050" stroke-width="0.8"/>
<line x1="387.82" y1="458.49" x2="389.82" y2="458.49" stroke="#d03050" stroke-width="0.8"/>
<rect x="386.42" y="469.58" width="4.8" height="57.02" fill="#c8102e"/>
<line x1="388.82" y1="526.6" x2="388.82" y2="529" stroke="#000" stroke-width="1"/>
<text x="390.72" y="532.8" font-size="5.5" text-anchor="end" textLength="17.49" lengthAdjust="spacingAndGlyphs" transform="rotate(-90 390.72 532.8)">A1 0.2</text>
<line x1="397.15" y1="490.17" x2="397.15" y2="480.66" stroke="#d03050" stroke-width="0.8"/>
<line x1="396.15" y1="480.66" x2="398.15" y2="480.66" stroke="#d03050" stroke-width="0.8"/>
<rect x="394.75" y="490.17" width="4.8" height="36.43" fill="#c8102e"/>
<line x1="397.15" y1="526.6" x2="397.15" y2="529" stroke="#000" stroke-width="1"/>
<text x="399.05" y="532.8" font-size="5.5" text-anchor="end" textLength="17.49" lengthAdjust="spacingAndGlyphs" transform="rotate(-90 399.05 532.8)">A1 0.4</text>
<line x1="405.48" y1="513.4" x2="405.48" y2="504.42" stroke="#d03050" stroke-width="0.8"/>
<line x1="404.48" y1="504.42" x2="406.48" y2="504.42" stroke="#d03050" stroke-width="0.8"/>
<rect x="403.08" y="513.4" width="4.8" height="13.2" fill="#c8102e"/>
<line x1="405.48" y1="526.6" x2="405.48" y2="529" stroke="#000" stroke-width="1"/>
<text x="407.38" y="532.8" font-size="5.5" text-anchor="end" textLength="17.49" lengthAdjust="spacingAndGlyphs" transform="rotate(-90 407.38 532.8)">A1 0.8</text>
<text x="397.2" y="480.4" font-size="6.05" text-anchor="middle" textLength="2.14" lengthAdjust="spacingAndGlyphs">*</text>
<text x="405.3" y="503.9" font-size="5.94" text-anchor="middle" textLength="6.31" lengthAdjust="spacingAndGlyphs">***</text>
<line x1="448.3" y1="438" x2="448.3" y2="527.4" stroke="#000" stroke-width="1.2"/>
<line x1="445.5" y1="526.9" x2="448.3" y2="526.9" stroke="#000" stroke-width="1.1"/>
<text x="444.4" y="529" font-size="6.6" text-anchor="end" textLength="3.34" lengthAdjust="spacingAndGlyphs">0</text>
<line x1="445.5" y1="500.4" x2="448.3" y2="500.4" stroke="#000" stroke-width="1.1"/>
<text x="444.4" y="502.5" font-size="6.6" text-anchor="end" textLength="3.34" lengthAdjust="spacingAndGlyphs">1</text>
<line x1="445.5" y1="473.9" x2="448.3" y2="473.9" stroke="#000" stroke-width="1.1"/>
<text x="444.4" y="476" font-size="6.6" text-anchor="end" textLength="3.34" lengthAdjust="spacingAndGlyphs">2</text>
<line x1="445.5" y1="447.4" x2="448.3" y2="447.4" stroke="#000" stroke-width="1.1"/>
<text x="444.4" y="449.5" font-size="6.6" text-anchor="end" textLength="3.34" lengthAdjust="spacingAndGlyphs">3</text>
<line x1="448.3" y1="526.9" x2="509.4" y2="526.9" stroke="#000" stroke-width="1.2"/>
<text x="433.7" y="488.4" font-size="8.8" text-anchor="middle" font-weight="bold" textLength="101" lengthAdjust="spacingAndGlyphs" transform="rotate(-90 433.7 488.4)">Relative expression of NOXA (% of Con)</text>
<rect x="451.15" y="500.66" width="4.7" height="26.24" fill="#134f88"/>
<line x1="453.5" y1="526.9" x2="453.5" y2="529.3" stroke="#000" stroke-width="1"/>
<text x="455.4" y="532.8" font-size="5.5" text-anchor="end" textLength="11.1" lengthAdjust="spacingAndGlyphs" transform="rotate(-90 455.4 532.8)">Con</text>
<line x1="461.78" y1="508.35" x2="461.78" y2="502.25" stroke="#5580aa" stroke-width="0.8"/>
<line x1="460.78" y1="502.25" x2="462.78" y2="502.25" stroke="#5580aa" stroke-width="0.8"/>
<rect x="459.43" y="508.35" width="4.7" height="18.55" fill="#134f88"/>
<line x1="461.78" y1="526.9" x2="461.78" y2="529.3" stroke="#000" stroke-width="1"/>
<text x="463.68" y="532.8" font-size="5.5" text-anchor="end" textLength="22.53" lengthAdjust="spacingAndGlyphs" transform="rotate(-90 463.68 532.8)">VEN 0.2</text>
<line x1="470.06" y1="497.22" x2="470.06" y2="487.15" stroke="#5580aa" stroke-width="0.8"/>
<line x1="469.06" y1="487.15" x2="471.06" y2="487.15" stroke="#5580aa" stroke-width="0.8"/>
<rect x="467.71" y="497.22" width="4.7" height="29.68" fill="#134f88"/>
<line x1="470.06" y1="526.9" x2="470.06" y2="529.3" stroke="#000" stroke-width="1"/>
<text x="471.96" y="532.8" font-size="5.5" text-anchor="end" textLength="22.53" lengthAdjust="spacingAndGlyphs" transform="rotate(-90 471.96 532.8)">VEN 0.4</text>
<line x1="478.34" y1="498.01" x2="478.34" y2="487.68" stroke="#5580aa" stroke-width="0.8"/>
<line x1="477.34" y1="487.68" x2="479.34" y2="487.68" stroke="#5580aa" stroke-width="0.8"/>
<rect x="475.99" y="498.01" width="4.7" height="28.88" fill="#134f88"/>
<line x1="478.34" y1="526.9" x2="478.34" y2="529.3" stroke="#000" stroke-width="1"/>
<text x="480.24" y="532.8" font-size="5.5" text-anchor="end" textLength="22.53" lengthAdjust="spacingAndGlyphs" transform="rotate(-90 480.24 532.8)">VEN 0.8</text>
<line x1="486.62" y1="494.57" x2="486.62" y2="482.38" stroke="#5580aa" stroke-width="0.8"/>
<line x1="485.62" y1="482.38" x2="487.62" y2="482.38" stroke="#5580aa" stroke-width="0.8"/>
<rect x="484.27" y="494.57" width="4.7" height="32.33" fill="#134f88"/>
<line x1="486.62" y1="526.9" x2="486.62" y2="529.3" stroke="#000" stroke-width="1"/>
<text x="488.52" y="532.8" font-size="5.5" text-anchor="end" textLength="17.49" lengthAdjust="spacingAndGlyphs" transform="rotate(-90 488.52 532.8)">A1 0.2</text>
<line x1="494.9" y1="468.07" x2="494.9" y2="465.15" stroke="#5580aa" stroke-width="0.8"/>
<line x1="493.9" y1="465.15" x2="495.9" y2="465.15" stroke="#5580aa" stroke-width="0.8"/>
<rect x="492.55" y="468.07" width="4.7" height="58.83" fill="#134f88"/>
<line x1="494.9" y1="526.9" x2="494.9" y2="529.3" stroke="#000" stroke-width="1"/>
<text x="496.8" y="532.8" font-size="5.5" text-anchor="end" textLength="17.49" lengthAdjust="spacingAndGlyphs" transform="rotate(-90 496.8 532.8)">A1 0.4</text>
<line x1="503.18" y1="471.51" x2="503.18" y2="462.5" stroke="#5580aa" stroke-width="0.8"/>
<line x1="502.18" y1="462.5" x2="504.18" y2="462.5" stroke="#5580aa" stroke-width="0.8"/>
<rect x="500.83" y="471.51" width="4.7" height="55.38" fill="#134f88"/>
<line x1="503.18" y1="526.9" x2="503.18" y2="529.3" stroke="#000" stroke-width="1"/>
<text x="505.08" y="532.8" font-size="5.5" text-anchor="end" textLength="17.49" lengthAdjust="spacingAndGlyphs" transform="rotate(-90 505.08 532.8)">A1 0.8</text>
<text x="494.8" y="465.3" font-size="5.94" text-anchor="middle" textLength="6.31" lengthAdjust="spacingAndGlyphs">***</text>
<text x="502.7" y="462.3" font-size="5.94" text-anchor="middle" textLength="6.31" lengthAdjust="spacingAndGlyphs">***</text>
<rect x="0" y="0" width="520" height="1" fill="#3c3c3c"/>
<rect x="0" y="0" width="1" height="562" fill="#707070"/>
<rect x="519" y="0" width="1" height="562" fill="#424242"/>
<rect x="0" y="561" width="520" height="1" fill="#454545"/>
<rect x="0" y="560" width="520" height="1" fill="#b8b8b8"/>
</svg>
</body></html>
